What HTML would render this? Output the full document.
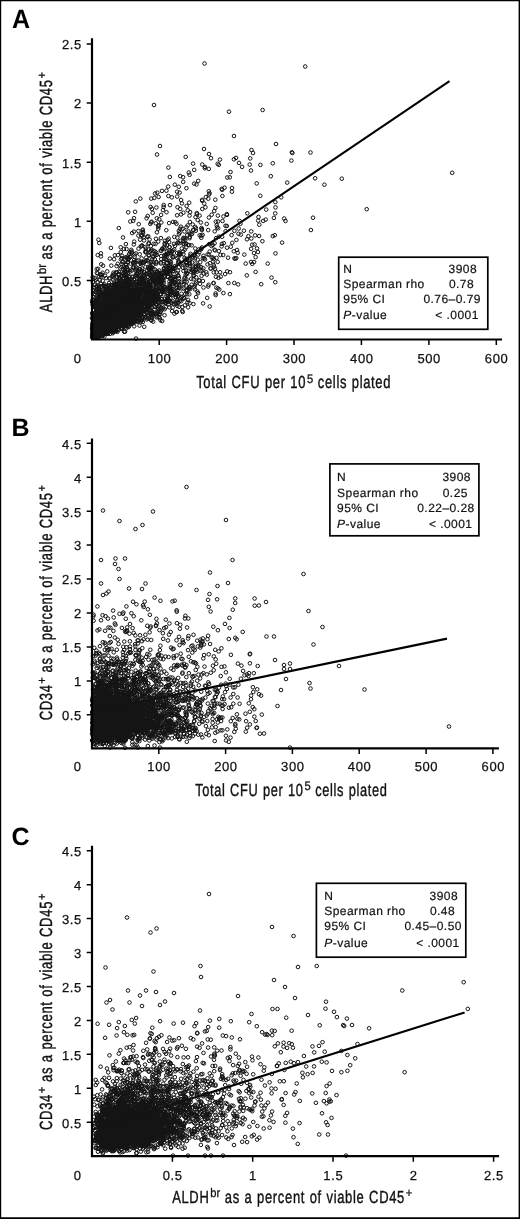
<!DOCTYPE html>
<html><head><meta charset="utf-8"><title>Figure</title>
<style>
html,body{margin:0;padding:0;background:#fff}
svg{display:block;text-rendering:geometricPrecision;will-change:transform;filter:grayscale(1) blur(.3px)}
text{font-family:"Liberation Sans", sans-serif;fill:#111}
.tk{font-size:13px;letter-spacing:.6px;stroke:#111;stroke-width:.25px}
.lg{font-size:12px;letter-spacing:.45px;stroke:#111;stroke-width:.2px}
.ax{font-size:17.6px;word-spacing:.5px;letter-spacing:.9px;stroke:#111;stroke-width:.4px}
.sp{font-size:12.4px;stroke:#111;stroke-width:.3px}
.lt{font-size:25px;font-weight:bold;fill:#000}
.pt{fill:none;stroke:none;marker-start:url(#m);marker-mid:url(#m);marker-end:url(#m)}
</style></head><body>
<svg width="520" height="1219" viewBox="0 0 520 1219">
<defs><marker id="m" markerWidth="8" markerHeight="8" refX="4" refY="4" markerUnits="userSpaceOnUse"><circle cx="4" cy="4" r="1.8" fill="none" stroke="#141414" stroke-width="1"/></marker></defs>
<rect x="0" y="0" width="520" height="1219" fill="#fff"/>
<line x1="92.0" y1="322.8" x2="449.5" y2="81.2" stroke="#000" stroke-width="2.1"/>
<polyline class="pt" points="96.5,326.7 166.6,300.6 124.6,316.5 109.6,323.2 121.9,328.9 105.1,328.6 121.1,276.1 144.3,272.4 113.3,304.1 109.4,320.9 100.7,325.1 98.7,320.4 98.4,317.9 95.7,337 217.7,261.9 104.1,324.1 121.8,258.2 100.7,306.9 126.1,291 109.9,327.6 152.3,307.5 146.9,307.7 107,318.4 197.4,291.5 162.2,321 98.9,335.9 170.4,294.1 145.5,303.1 104.3,330.8 109.7,322.8 144.5,274.8 97.2,330.2 98.5,322.8 132.5,277.4 164,276.9 119.9,279.7 209.6,193.3 186.4,188.2 104.5,325.1 237,250 124.9,309.2 161,294.3 98.8,312 120.9,294.6 105,313.9 197.8,267.4 101.9,319.6 149,281.6 108.5,317.8 116.3,314.5 95.3,319 96,330.7 113.4,319.6 124.3,280.9 188.9,288.6 112.6,303.3 100.4,332.7 120.1,324.6 118.8,322.2 154,296.7 108,300 129,311.6 98,336.4 97.4,334.9 176.2,302.5 116.7,277.9 160.9,238.1 121.5,297 119.9,295.4 105.2,328 204.8,168.3 163.3,291.4 134.2,279.6 118.3,300.1 123.2,301.5 100.1,323.3 96.8,304 139.8,314.9 110.4,314.6 124.2,322.8 151.8,313.4 139.1,315.1 115.6,326.1 115.7,330.3 139.9,279.6 149.9,252.2 98.3,313.4 95.2,327.2 118.2,296.7 170.3,294.2 112.3,328.6 113.1,320.1 104.9,318.8 116.1,326.6 157.8,278.9 122.6,305.1 134.2,326.3 123.2,269.5 238.5,233.8 104.6,326.2 116.7,314.8 171.6,282.7 116.5,324.3 118.7,316.7 147.5,318.4 141,292.7 105.3,330.2 144.3,314.4 117.7,324.3 143.2,301.8 124.4,271.9 125.6,259.5 136.3,260.6 148.4,309.4 134.6,285 127.9,272.7 149.4,301.2 131.3,287.3 98.7,329 103.8,331.1 150.4,281.1 118.3,294.2 95.5,305.1 167,251.5 94.9,325.8 179.2,243.2 124.4,311.7 120.4,291.9 227,247.7 121.4,312.9 95.9,326.4 136.7,299.7 175.8,304 166,272.8 130.6,305.6 158,274.8 98,328.4 185.3,240.1 158.7,290.9 100.3,331.9 100.2,311.8 198.6,249.6 120.5,293 149.7,269.1 215.8,221.7 111,319.4 127.8,319.9 137.9,260.5 95.1,330 108,307.8 112.4,329.7 162.4,291 113.1,328.7 184.3,244.3 167,256.5 127.7,294.9 105.6,317 95.4,315.4 133.1,262.8 141.6,246 196.2,277.3 110.8,314.4 129.2,315.7 96.4,322.1 184,284.2 109.1,298.7 122.8,317.1 174.2,249.5 155.9,287 141.1,311.2 113.8,320.4 222.1,236.7 190.2,287.2 199.7,235.3 123.3,296.9 113.2,307.2 156.4,262.2 103.7,331.1 122.9,308.5 121.3,315.7 106.2,327.5 109.1,325.8 124,315.4 94.7,307.3 115.7,302.8 185.3,267.5 92.6,336.7 139,276.7 130.3,269.8 148.9,302.7 150.3,307.1 109.7,323.4 104.4,284.3 107.6,313.3 93,299.6 196.8,213.1 160.2,313.9 106.2,329 129.5,293.4 96.9,336.7 97.6,313.2 96,307.5 99,329.6 199.6,215.6 101.5,312.6 116.3,315.8 135.8,201.4 169.3,300.4 151.1,311.4 219.3,289.5 97.6,332.5 123.3,321.2 112.8,307.3 132.9,292.9 111.7,323.9 193.1,163.6 102,329.1 226.8,226 236.3,258.1 98.5,334 129.5,321.3 196,265.7 127,288.7 104,313.8 124.4,272.2 108.4,313.3 115.2,303 129.2,299.9 138.2,301.9 104.7,331.7 139.7,306.3 105.2,329.2 110.4,319.6 139.6,294.7 107.8,316.1 103.9,304.4 115.6,316.2 100.8,332.1 98.4,329.2 112.5,323.1 103.3,317 108.2,326.8 151,250.9 94,318.1 94.3,325.1 123.5,313.3 121.9,299.7 100.5,294.7 95.2,307.5 150.7,262.4 251,170.5 108.2,294.7 102.1,332.7 126,297.6 135.9,306.4 121.3,312.2 110.2,333.8 97.2,335.2 150.6,207 183.1,177.2 99.3,317.3 94.6,320.3 192.1,233.8 139.2,294 183.5,271 103.9,295.4 187.1,294.3 214.7,231.3 151.6,267.8 109.6,326.3 128.7,300.4 113.5,317.5 114.2,319.9 99.8,318.9 96.4,320.8 123,313.5 154.8,300.7 138.4,235.6 141,305.5 122.4,315.9 252.2,244.7 126.6,319.9 117.7,324.6 156.4,207.5 122.9,303.6 171,267.1 129.7,286.4 109.4,315.4 119.3,313.3 124.5,320.3 142.2,277.1 98.5,333.1 105.5,311.7 117.6,292.4 200,283.8 139.8,291.4 105.2,318.5 99.7,326.7 220.7,276.6 100.1,323.4 159.8,318.2 160.5,311.9 196.2,266.9 128.2,212.3 142.1,302.5 156.8,283.8 111.9,326.5 140.1,316.1 125.3,297.1 100.9,332 136.1,308.9 176.1,284.7 131.4,279.3 118.7,310.7 96.2,313.7 104.9,330.3 124.8,305.9 109.9,327.4 113.1,312 221.6,246.4 134.5,254.5 106.7,306.1 158.2,311.3 109.2,309 103.1,318.9 152.7,256.2 117.9,312.2 93.4,324.1 227.3,177.5 110.7,329.5 134.6,304.4 162.8,290.3 102.1,325 136,306.1 99.8,322.1 92.8,337.5 122.5,311.7 100.2,313.7 117,288.7 128.2,314.1 92.9,318 185.9,290.4 102.4,317.5 130.2,295.3 107.6,312.1 145.2,298.1 126.6,321.7 192.5,256.4 122.3,303 240.4,223.7 251,261.9 100.5,323.1 97.6,317 116,307.6 255.1,235.4 228,257.7 112.8,301.2 101.8,332.6 101.9,322.6 104.1,306.8 93.3,320.6 167,272.8 97.3,325.2 104.7,300.4 92.7,332.1 119.5,318.2 144,262.6 108.4,320.8 123.6,319.8 190.1,212.1 157.7,274.1 161.5,276.2 180.4,254.4 174.3,279.5 245.7,263.6 171.3,254.5 129.4,301.4 95.6,319.9 162.4,304.4 105.4,328.7 174.3,268.5 128.5,293 95.7,331.7 131.5,300.4 134.4,262.2 136.6,284.4 190.3,255.7 106.7,319.9 208.8,191.3 138.9,306.1 183.1,240.8 204.2,203.5 98,321.4 136.7,284.3 118.8,319.7 155.7,283.9 120.6,299.4 167,262.7 120.7,309.1 110.8,308.8 102.8,328.9 94.8,330.8 124.5,313.4 104,313.1 189.2,202.7 94.7,325.5 171.7,251.6 99.6,314.8 106.4,327.4 125.1,310.2 105.8,327.4 199.2,266.3 115.7,310.3 100.5,321.1 95.7,291.8 172.6,301.2 130.1,282.2 97.1,321.3 92.7,337.7 128.2,308.4 135.5,290 96.1,328.2 123.9,317.6 101.1,334.5 123.5,311 121.1,323.5 97.5,330.1 157.2,299.2 154.8,280.4 96.1,331.2 105.8,310 100.3,274.3 105,275.7 146.6,218.3 102.6,326.2 110.3,326.1 98.4,308.3 117.2,284.3 190.5,253.8 143.4,281.6 107.5,324.1 138.4,303 98.8,335.2 101.1,330 275.3,202.1 93.3,320.5 157.7,312 153.3,285.4 112.4,321.8 232,188 105.4,304.5 120.2,324.8 218.8,164.8 112.6,313.8 126.9,266.9 195.1,258.4 197.7,220 96.2,315.6 182.7,312 99.4,332.6 142.8,321.9 119.6,323.5 99.5,326.5 168.4,167.6 169.8,286.7 92.1,328.2 117.3,319.5 113,330.6 189.3,245.1 153.4,313.4 121,311.2 129.3,290.5 140.4,308.2 108,311.3 227,214.9 126.6,318.5 162.6,273 127.6,312 106.1,325.6 99.8,305.8 101.8,320.4 208.2,286.5 111.8,329.9 136,298.1 124,307.5 108,324.8 111.1,314 95.5,332.7 126.5,274.9 141.9,303.2 159.7,300.3 243.9,230.7 98.7,297 179.3,281.8 172.6,281.3 139.9,290.9 145.1,299.3 186.4,279.2 133.7,309 232.3,242.8 103,334.5 129.9,317.2 108.2,314.7 132.5,283.7 107.1,324.3 132.7,281.5 100.8,323.9 162.1,249 126.3,284 112.7,328.3 102.7,323.9 158.5,282.4 105.8,306.6 183.4,237.8 121.6,275.5 118.5,304.8 106.5,301.6 159.5,278.7 96.5,321.6 146,292.4 109.8,315.8 112.7,318.1 142.3,294.2 274.8,235.2 137.4,292.3 102,305.6 98.2,321 92.4,334.3 102.2,328.4 133.7,289.5 160.3,287.6 92.8,335.3 157.4,302.3 102.3,319.2 97.8,332.5 166.4,190.7 108.7,306.4 132.8,308.3 108.1,326 107.7,320.6 112.2,275.8 123.4,310 145.4,308.9 113.5,297 186.2,285.5 134.3,311.8 126.3,296.8 114.2,318.9 100.7,316.2 231.6,235.1 101.5,331.2 128.3,320.9 132.1,233.1 108,292.1 141.5,302.7 101.7,317.6 104.1,297.9 170.6,290.9 121.5,305.8 121.6,304.9 127.3,313.7 100.7,330.3 107.7,320 99.9,334.3 168.3,277 126.8,278.7 208.8,168.9 105.9,322.1 215.9,276.8 239,162.9 133,300.6 124.6,304.7 128.7,312.3 100.1,319.6 121.5,328.8 194.1,271.1 99.1,334.3 122.9,317.8 125.9,322.3 187.1,290 114.5,323.8 127.8,311.7 107.5,315.7 104,329.7 119,274.7 131.4,303 101.1,331.9 181.5,293.7 138.9,286.9 137.4,274.4 102.4,317.3 107.1,316.4 208.9,217.5 107.9,315.8 100.1,330.7 252.3,263.9 182.4,307 104.9,298.4 156,238.8 170,286.6 95.7,337 173.3,256.2 116.9,301.3 140.8,315.4 117,319 123,314.7 127.3,319.5 118,309.8 114.2,323.1 113.9,321.5 99.7,326.9 100.9,336 114.2,317.4 151.1,301.6 100.4,327.6 99.6,295.1 104.8,291.2 124.9,318.3 125.4,321.1 99.1,287.9 131.2,293 97.5,335.2 110.3,318.6 130.1,317 114.5,325 96.2,300.1 140.9,305.7 135.3,262.3 133.2,220.9 151,269 166.6,260 110.3,287.2 211.7,214.7 113.3,299.8 108.3,311 103.7,300.7 193.4,230.3 145.8,248.7 137.9,304 138.4,231 99.5,318.3 103.8,291.3 97.4,321.1 152.2,295 136.9,291.3 105.9,293.3 111,309.7 105.9,320.7 119.5,318.7 115.1,291.4 154.3,309.3 123.1,311 158.2,289.3 108.3,298.8 146.5,282.6 148.2,236.3 151.4,320.6 111.2,318.1 133.9,298.1 179.3,284.7 163.7,205 163.8,301.9 191.2,278.8 110,321.5 107.6,320.5 110.5,303.5 125,274.8 93.6,332.3 99.7,323.6 150.5,267.9 116.1,284.9 93.3,335.9 158.8,297.5 101.4,293.5 105.7,289.5 99.2,329.7 105.8,325.9 153.7,299.7 104.4,307 187.3,290.5 132.9,294.1 106.5,298.3 116.6,304 102.6,314.4 129.3,313.6 116,313.9 187.3,235.2 138.6,314.2 108.8,323.3 165.1,265.5 116.7,327.6 115.2,322.8 115.7,318.9 147.4,311.2 155.7,289.7 105.5,321.7 97.4,327 211.5,246 254,253 156.6,282.4 111.3,320.1 97.9,333.8 107.8,321.2 180.8,226.7 104.7,325.5 145.3,247 104.1,294.6 97,330 154.7,269.3 94.2,290.1 123.7,293.6 99.3,323.9 148.7,249.5 178.2,262.8 97,334.8 104.8,310.9 96.7,333 159.1,270.5 154.6,277.9 107.9,329.8 116.4,303.7 115.3,314.7 203.1,303.4 99.3,290.4 193.6,254.8 135.4,293 133.5,314.4 100.4,323 144.8,285.5 101.5,304.4 112.5,308.2 162.5,302 93.5,337.5 112.5,314 130.1,305.4 106.4,324.6 93.8,332.6 133,305.4 143.7,291.6 156.4,296.7 136.5,309.9 94.8,325.4 117.7,309 142.6,281.5 108.1,320.9 134.5,316.1 145.1,292.2 124.8,316.7 136.2,291 105.7,303.2 166.4,263.2 109.8,315.6 170,205.1 156.3,263.7 96.8,328.2 160,282.8 139.7,282.3 116.7,322.2 142.7,305.2 104.3,320.2 216.7,225.4 124.7,325.3 92.4,324.2 95.9,303.1 126,309.1 118.6,306.4 109.3,318.1 134.1,267.7 104.7,316.1 105.9,314.6 102.4,331.2 128.4,297 239.5,220.9 135.7,320.2 223.4,293.1 129.8,314.2 184.5,278.6 103.7,327.4 131.9,305.4 123,283.5 129.6,319 139.8,286.6 116.3,312.8 110.3,324.5 135.6,270.5 100.3,312.1 98.8,320.9 120,321.5 168.2,302 139.6,306.7 112.3,294.3 168.2,186.6 103.7,326.3 125.2,310.6 134.5,288.2 133.2,303.7 166.3,230.2 124.1,310.6 120.5,300 111,319.3 108.5,301.4 116,306.2 106.9,329.4 130.7,317.8 96.9,328.9 122.6,314.2 142.6,279.4 201.3,235.7 179.6,192.6 111.2,309.8 102,304.7 124.6,302.5 123.6,303 119.1,310.5 94.1,306.1 132.4,311 131.9,306.6 100.7,315.4 167,299.9 153.7,279.5 119.9,293.5 217.9,215.6 123,295.9 97.5,317 95,277.9 99.9,327 149.7,269.8 102.2,329 116.4,313.7 211,158.2 137.7,300.8 112,320.3 119.2,300.6 155.1,193.5 96.7,315.3 96,315.2 106.8,324.6 131.2,320.8 107,297.1 112.9,306.5 128.5,319.8 92.8,327.9 136.1,267.5 119.4,312.5 147.5,305.1 108.3,328.5 95.2,321.5 167.9,276.9 112.7,324.8 108.6,323.3 141.4,270.6 124.3,310.4 123,315.7 126.5,249 94.9,324.8 106.6,320.8 104.8,331.9 133.2,313.1 130.3,302.2 122.1,304.8 133.8,244.4 113.5,322.8 148.1,266.9 108.1,317.5 111.6,311.7 97.4,317.4 193.1,268.8 125.4,283.9 142.8,229.6 120,325 97.1,286.4 113,299.4 113.7,319.1 230.8,246.7 141.6,262.1 104.7,325.2 114.7,329.7 115.5,309.2 99,333.5 100.9,323.2 114.3,281.5 137.3,298.7 171.8,197.3 196.9,214.4 122.4,312.3 113.5,325.4 95,318.7 95.6,336.7 151.2,198.6 114.8,295 124.1,288.6 115.3,317.9 110.2,300.6 186.2,247.4 99.9,331.3 126.2,265.1 144.2,326.8 117.1,292.7 98.3,322.5 204.2,258.3 178.9,278.1 106,333.9 127.3,291.9 171.5,279.5 135.7,269 160.7,287.4 130.8,300.1 133.9,279.2 165.8,303 120.4,311.9 94.2,320.8 99.7,330.9 119.1,308.6 158.4,277.6 133.9,279.5 122.9,313.4 101.4,334.8 105.8,328 165.4,302.8 173.1,221.9 207.2,297.9 149.4,291.6 128.4,303.3 158,293.2 104.1,330 212.9,257.6 111.8,332.3 119.4,315 145.4,283.9 94.4,322 93.1,329.2 93.5,321.2 161.2,278.8 135.9,294.2 126.4,278.2 123.9,266.7 96.2,327.3 194.9,289.4 111.9,314.2 115.1,316.1 105.6,298.9 156.9,232.3 189.6,303.2 139.8,309 123.2,301.5 133.4,318.7 161.9,302.4 139.4,271.6 95.8,334.7 167.6,239.9 178.1,296.6 106.5,323.9 148.6,298.5 114.5,323.5 137.4,294.7 110.6,294.7 135.7,314.6 107.9,323.1 103.4,314.3 93.8,336.5 118.1,323.6 184.8,305.3 139.3,290.6 196.1,297.1 168.3,295.9 136.7,299.6 139,289.2 103.8,331.9 169,300.8 130.4,314.3 169.4,288.2 119.9,318.5 93.6,310.2 107.4,308.4 114,316.8 187,258.8 97,289.9 102.6,272.7 103.2,314.6 112.2,301.8 194,255.5 109,326.8 123.6,323.8 140.7,246.5 113.5,272.7 126.5,328.3 93.8,335.7 140.6,302.4 130.2,271.5 208.6,284.8 139.4,311.4 150.1,305.7 135.2,317.6 111.7,326.3 151.1,222.4 136.1,305.3 116.1,291.1 160.4,294.2 136.6,273.6 95.2,336.7 114.5,316 121,308.5 142.7,304.2 128.6,312.9 112.5,323.2 157.6,307.2 96.6,316.3 113.4,311 109.4,329.6 141.7,298.8 115.6,319.4 139.3,306.9 118,319 106.3,302 111.5,305.3 111.2,320.8 112.5,301.3 121,295.6 108.2,326.5 117.8,307.8 103,324.9 122.6,261.7 92.5,331.3 138.5,248.7 104.2,323.3 109.3,326.2 105.6,308.2 138.1,290.2 109.3,309.4 186.7,281.7 117.7,324.3 174.8,184.7 233.8,251.3 107.3,287.5 124.9,285.3 145.7,292.8 111.2,306.7 148.9,285.1 125.1,331.7 99.7,336.3 222.2,189.8 97.4,317.9 181,214.4 126.3,319.4 142.6,230.5 107.8,308.8 199.5,280.4 161.1,214.9 155,294.5 99.5,313.9 141.8,296.9 114.5,319.3 189.6,262.5 146.8,313 117.3,296.9 123.7,310.9 96.2,323.1 95.1,331.7 108.7,323.6 115.2,315.8 108.6,329.3 103.9,309.7 194.9,255.1 121.8,300 94.4,294.2 135,298.4 133.9,231.6 129,258.5 120.4,299 105.5,324.5 126,323.1 106.1,330.9 180.2,298.2 139.3,269.5 190.7,271.8 116,319.9 161,263.5 115.4,291.9 144.7,310.2 121.4,305.9 106,278.1 107.3,292.7 129.4,290.6 139.9,304.4 193.5,275 98.4,329.1 158.6,317.1 181.4,263.2 120.4,319.1 146.2,286.4 213.1,261.5 139.1,295.4 164.9,277.5 145.6,290.7 119.9,323.8 101.6,310.1 120.9,259.4 129.2,253.9 93.2,319.1 96.4,323.5 133.3,283.9 121.5,292.8 136.5,310.8 97.7,255.1 100.2,332 113.6,317.1 149.6,239.5 120.6,282.2 119.8,310.2 191.3,234.3 94,333.5 119.5,318.2 105.4,327.2 104.2,316.6 108.7,311.1 150.3,223.9 220.4,254.9 108.6,329.2 114.9,315.9 113.2,307.9 147,274.3 160,288.5 138.4,291 117.8,288 169.3,307.3 117.2,314.8 123,294.9 103.9,329.3 102.3,320.2 138.7,224.2 102.7,336 96,324.6 140.2,299.7 99.4,308.6 158.8,273 118.7,323.2 96.9,300.7 123,237.5 118.4,308.5 220.1,272.2 155.9,295.8 179,306.7 117.8,318 152.9,299.5 109.1,318 98,310.2 105.6,328.2 128.3,311.1 121.9,311.6 121.5,317.5 200.8,222.5 141.8,317.4 115.7,302.9 140.1,239.7 113.8,308.5 176.6,292.8 102,335.3 100.4,334.7 94.4,324 106.6,322 100.8,299.8 94.7,302.8 109.4,313.6 101.1,304.3 124.2,313.7 118.8,318.3 146,292.6 132.1,323 178.6,260.8 130.2,256.5 119.4,308.7 179.2,287.9 139.6,295.4 123.3,318.9 162,289.6 101,331.3 121.9,316.6 112.6,327.3 130.5,321.8 163.8,260.8 193.6,273 112.5,309.1 95.9,332.9 97.6,321.4 127.3,312.7 98.7,320.8 99.3,243 154.3,281.8 112.3,316.6 156.4,291.2 192.7,224.5 117.9,255.1 129.2,315.6 206.7,223.9 106.7,322.6 98.5,336.2 129.7,293.6 139.7,282.9 94.4,316 99.9,321.7 128.2,302.6 151,290.8 125,283.6 177.1,215.3 99.3,310.3 105.3,310.9 106.4,320.2 102.2,324.3 144.2,301.2 143.3,302.1 118.9,308.3 129.1,326.2 101.1,274.9 159.3,274.6 93.9,325.8 110.4,311.2 119.7,316.1 95.7,325 99.9,307.6 106.7,325.4 141.8,297.2 186.1,270.6 223.8,243.1 96.2,301 118,320.6 118.1,325.4 209,194.5 132.7,307 114.4,311.3 120.7,247.3 121.5,316.3 118.5,312.1 100.9,334 193.2,257.6 166.7,301.8 101.7,326.3 114.1,305.3 102.7,312.5 139.5,325.5 110.4,314 153,292 105.3,303.8 112.6,322.8 154.9,300.5 163,210.1 129.2,316.3 246.8,275.4 111.2,312.6 98.2,319.4 156.7,284.1 121,301.2 99.8,313 97.2,327 116.7,292.8 198,265.4 136,290.3 152.6,277.5 102.2,295.9 186.1,263 99.9,328.1 215.1,268.7 115.6,307 209.7,251.6 121,322.9 148.3,272.9 206.8,274.6 111,308 131.1,312.5 196.5,184.4 126.7,318 236,157.9 98.2,318.6 116.1,291.9 132.1,288.4 125.9,244.1 166.9,269.1 105.8,302.3 103.8,327.4 95.5,291.8 175.2,280.2 114.9,255.3 120.7,318.4 159.3,281.4 104,329.3 149.4,295.8 97.7,325.5 173,250.6 92.6,333.7 152.6,302.9 100.7,303 132.7,310.9 103.7,299.1 108.5,312.5 101.3,326.6 103.3,316.8 110.5,317.8 93.6,321 181.4,288.4 125.7,292.4 147.9,299.5 105.7,319.2 102.7,293.2 108.3,306.2 109.3,313.8 100,320 104.1,326.2 139.5,306.3 94.7,336.6 133.8,263.5 100.3,291.1 157.3,271.7 95.7,325 100.1,323.4 107.5,292.2 92.7,277.3 150.8,290.8 156.5,288.8 130.9,304.6 135.3,312.3 125.4,280.5 102.9,333.9 165.8,307.2 174.3,236.9 151.7,292.8 111.4,328.7 177.9,242.3 110.7,324.4 134.8,309.6 112,301.6 114.4,309.5 216.2,238.1 125,301 164.8,276 95.5,331.8 111.3,314.8 169,268.1 120,309 156.5,293.7 119.6,311.4 126.4,312.9 122,319.9 117.1,292.4 96,337.7 110.2,315.9 158.2,228.7 131.6,302.1 120.3,321.7 102.5,308.8 157.3,192.7 110.6,297.4 129.5,309.1 138.9,288.8 114.4,319 192.1,262.4 131.2,323.5 103.7,323.8 110.3,310.6 138.5,299.5 99.3,337.3 95.4,332.1 97.1,333.1 98.2,331.7 203.4,255.8 157,293.4 116.6,286.9 186.5,227.2 101.8,313.6 100.7,329.4 225.1,274.1 150.3,286.4 206.3,272.3 190,266 119,294.5 164.6,248.6 109.8,307.8 127.9,291.5 115.3,320.6 98.1,324.2 94.5,322.4 102,328.7 117.5,293.1 150.9,316.5 185.2,294.1 120.8,319.2 106,301.2 97.7,328.3 95.7,326.6 104,311.4 163.6,287.4 122.6,302.2 136.5,303.4 109.4,320.2 173.6,271.3 129.3,302 143.9,298.9 178.8,186.8 96.5,315.3 189.3,294.3 168,253.5 148,276.7 108.5,324.2 142.9,262.6 147.1,307 114.9,312.1 126,313.4 102.4,326 117.1,310.9 102.7,321.3 107.1,328.2 110.9,247.9 113.1,290.4 173,284.1 135.1,311.6 218.8,251.1 102.6,317.6 149.7,284.3 104.9,332.1 104.9,317.9 233.9,159.3 104.3,327.6 111.6,306.6 100.7,292.5 123.6,311 116.6,304.9 98,333.5 103.7,334 97.4,333.6 133.3,316.6 138.1,300 260.4,164.9 120.5,319.5 95.7,332.3 113.8,284.9 118.4,307.5 96.7,327.3 100.1,334.1 147.8,291.7 203.6,273.5 188.7,231.5 133.5,315.2 102.9,325 191.6,245.3 119,308.6 140.3,301.5 116.4,301.7 194.9,285.4 119.7,322.7 99.2,331.2 117.1,307.1 125.1,268.2 116,310.6 123.6,292.9 111.4,328.4 103.1,310.9 105.8,318.8 116.7,309.9 118.6,319.2 122.5,287.2 169.2,242.1 105.7,326.2 97,327.5 265.7,219.6 144.5,275.3 96.8,315.6 101,304 107.3,318.6 150.5,275.1 237.7,252.8 114.4,320.3 96.1,315.3 106.3,315.9 102.8,329 141.9,289.3 109.2,326.9 120.9,311.4 123.6,293.1 101.3,320.7 115.8,314.5 122.6,304.6 92.7,331.6 145,301 136,291.1 131,324 96.5,331.5 158.7,292.1 96.4,321.2 148.5,243.9 96.4,286.4 106.5,321.5 118.9,298.6 95,284.8 109.4,314.7 121.7,324.3 98.3,320.6 134.5,298.2 108.6,290.8 147.1,308.8 101.7,300.5 99.6,324.3 255.6,271.9 126.3,325.9 111.7,304.3 118,317.1 111.3,314.7 124.1,284.8 154.7,254.3 152.7,303.1 114.6,327.5 108.6,314.5 150.6,285.5 138.1,264.7 96,329.5 112.4,318.5 105.5,296 177.3,294.4 117.1,272.3 150,271.4 94.7,335.3 120.8,252.1 99.1,334.6 126.4,306.8 169.4,289.2 98.1,327.5 152.2,277.2 151.5,261.8 93.4,309.7 137.6,270.9 234.4,258.4 138.2,292.3 176.5,223.8 159.1,273.7 189.6,236.9 97.3,335.9 96.1,325.4 142.7,283.4 98.1,268.8 130.2,285.2 105.9,305.2 121.6,298.8 155.1,276.4 115.9,311.6 136.9,275.9 158.8,225.5 270.8,176.2 115.7,327.8 97.5,321.1 111.3,313.7 183.4,254.2 120.6,304.1 117.9,309 92.1,337.1 107.8,323.9 104.1,332 151.3,319.9 147.1,270.7 103.1,321.8 135.2,283.5 107.5,323 126.8,300.5 96.1,331.1 128.1,270.2 129.8,309.5 95,327.7 132.4,305.9 150.3,304.8 110.5,288.6 119.1,314.8 136.6,319.1 102.7,327.3 210.8,268.5 124.8,290.9 170.4,252.6 107.6,320 150.3,300.1 117.1,305.5 111.8,323.5 128.2,286.6 137.3,298.1 142.8,275.3 140.4,295 240.8,234.6 198.2,254.6 108.7,321.3 94.3,333.2 128.3,302.9 108.3,289.3 149.9,290.7 170.1,265.7 97,323.9 94.1,303.9 101.3,323 116.6,266.1 169,250.6 96.1,329.3 156.9,254.8 96.4,324.5 213.7,259 140,310 127.2,309.8 124.2,331.8 130.5,279.2 111.6,314.6 101.2,323.7 102.6,308.6 144,297.2 102.9,326.1 127,309.7 104.5,323.7 97.3,320.1 216.3,287.6 99,312 112.8,315.4 138.3,302 106.9,323.5 101.4,314.8 122.5,313 109.2,307.9 100.9,253.3 111.5,318.7 128.2,313.6 195.8,269.9 168,288.8 123,284.7 110.4,328.4 96.7,298.8 111.7,314.1 134.8,293.1 202.4,270.5 106.9,330.4 168.4,196 115.6,320.9 115,326.3 105.7,320.7 149.9,300.8 101.2,306.1 103.4,324.8 154.6,299.3 111.8,321.3 148.2,307.1 112,317.3 132.7,317.4 143,279.6 118.7,305.9 103.9,331 123.6,322.4 256.7,183.4 97.4,334.9 117.8,326.9 113.6,317.1 201.9,230.1 110,323.6 122.6,286.3 234.3,283 106.3,311.8 122.2,316.7 123.2,320.7 123.2,289.1 98.8,318.2 195.2,226.9 169.5,247.3 114.9,314.1 101.5,325.5 94.9,336.9 145.7,260.9 137.6,303 119.4,314.6 104.5,305.4 125.9,323.7 118.9,317.6 114.2,308.7 111.9,312.9 105,324.3 111.3,327 99.2,308.6 116.9,276.8 99.3,328.8 133.3,267.1 152.7,290.1 112.7,326.6 113.2,331.2 164.7,243.3 92.9,323.7 110.5,285.3 143.6,300.5 109.9,317.9 94.3,318.4 131.5,301.4 104.1,319.7 112.8,301.9 115.6,321.6 108.3,327.8 109.9,258.6 99.6,329.7 170.4,261.4 106.1,306.9 109.4,317.2 132.1,291.1 147.6,304.5 161.3,250.8 145.5,308.7 118.8,329.8 110,318 110.7,313.7 98.4,313.2 138.6,312.9 92.3,336.2 125.8,317.6 101.2,326.4 107.1,323.4 100.1,313 125,321.2 170.7,274.8 156.1,281.3 119.3,288.3 118.8,271.8 185.4,265.2 111.4,324.3 118.7,315.1 110.8,296.1 128,311.5 163.9,270.9 177.3,237.7 104.6,298.5 121,291.9 126.4,319.5 108.4,331 98.3,330.7 96.7,269.1 221.9,243.9 102.8,322.2 107.3,313.8 100.7,324.3 104,318 114.1,296.8 105.4,324.9 106.5,327 248.4,236.2 98.9,323 93.5,297.2 187.5,302.2 115.8,316.3 135.1,211.8 110.5,328.6 99.1,328.4 125.8,304.4 127.5,312.6 106.7,328.2 97.1,328 93,328.1 120.5,302 128.4,297.6 203.4,268.3 104.4,336.5 171.4,303 115.8,327.1 137.7,311.7 108.6,313.5 111.7,305.3 129.5,305.1 99.7,329.4 132.6,299.1 122.9,324.4 116.5,331.1 123.3,307.5 166.5,270.7 254.1,262 217.1,227.4 156,288.5 178.8,262.1 150.6,303 107.6,312.3 99.2,289.2 110.7,306.5 100.6,327.7 131.9,270.5 151.1,295.8 202.6,234.9 140.5,307 185.7,156.9 100.3,331 133.7,293.5 165.8,259.2 97.2,313.2 128,296.1 119.8,313 108.6,305.6 158.2,298.2 112.2,320.8 174.7,283.5 151.9,208.9 100.6,330.7 179.8,300.7 119.8,277.7 184.6,258 108.1,309.3 130.1,252.1 162,190.9 104.9,319.2 126.1,317 118.9,299.4 227.2,271.4 150.7,297.5 92.2,313.2 118.7,274.2 92.8,322.2 115.8,313.7 113.3,327.7 123.9,300.9 165.2,286.8 150.8,313.4 113.3,326.4 94,330 125.2,316.1 160,282.7 138,311.6 107.9,313.4 188.1,299.9 114,321 98.4,335.7 100.1,317.1 120,292.3 103.4,285.3 131.2,308 183.4,212.7 129.6,322.9 153.6,274.8 114.5,303.4 107.1,327.4 97.3,328.5 126.9,310 161.8,310.1 124.8,312 165.4,292.4 99.8,327.4 108.7,295.2 148.6,306.3 113.8,327.1 148.8,304.2 149.8,302.5 105.5,286.2 187.8,210.3 146.2,257.5 116,309.6 145.4,292.4 116.8,318.1 122.7,315.1 159.2,279.8 102.3,327.9 111.7,319 149.6,299.2 117.7,263.8 97.9,329.6 124.2,313.3 133.5,309.5 107.2,271.4 104.9,330.8 139.9,304.8 150.8,276.5 238.1,284.4 172.1,311.1 94.2,305.2 161,288.6 110.1,320.9 189.6,174.8 94.8,313.6 117,325.7 160.8,283.2 167.1,301.4 123.3,318.5 103,312 112.4,307 110.8,314.2 148.8,302.7 96.4,309.4 126.1,319.5 100.4,328.1 124.1,319.2 174.8,279.1 214.6,243.3 116.9,318.9 129.2,304.7 132.6,302.6 98.9,319 147.6,296.6 122.6,326.1 99.7,322.2 156.1,286.9 110.6,316 120.5,306.6 141.9,302.4 98.3,330.5 114.1,295.3 97.6,329.1 108.9,326.6 119.6,296.6 135,298.7 98.7,327.3 137.6,309.8 142.2,308.4 111.7,316.2 281.2,197.3 93.3,303.7 115.9,308.7 107.6,318.8 143.8,301.2 109.9,310.5 94.1,322.5 197.3,271.6 113.1,318.6 116.2,296.2 95.4,320.5 142.3,302.3 159,314.4 149.1,255.7 198,293.2 137.8,314 122.5,311 95.5,328 129.7,317 96.6,307.3 127.8,294.7 144.5,303.7 93.9,335.4 137.7,312.3 164.5,299.1 120.6,312.5 122.2,301.2 117.5,325.4 135.9,304.4 100.5,307.6 97.6,327.3 222.4,196 92.5,329.1 144.9,286.2 92.4,334.8 96.3,332.9 145.3,252.1 104.6,325.1 153.6,243.8 134.7,256.6 122.2,315.5 98.5,239.7 175,294.5 135.8,253.4 126.8,300.2 126.2,283.5 140.2,313.4 106.9,320.7 123,320.7 103.4,323.8 103.8,328.3 102.2,330.5 125.4,318.7 106.1,295.4 175.6,297.1 108.4,330.1 202.1,199.9 108,326.6 117.9,319.4 123.4,315.9 161.9,299.2 189.4,263.4 147.7,216 195.9,228.4 113.8,327 140.4,312 98.3,334.5 117.4,294.4 118.1,315.1 138.7,295.9 95.8,328.4 117.8,311.9 129.1,305.2 134.6,297.4 96.9,272.8 122.4,283.1 96,330.7 115.3,320.2 112.8,328.9 145.8,303.7 151.1,314.5 138,299.1 179.7,254 131.3,307.5 111.3,265.6 122.1,325.2 120.3,314.5 104.9,319.7 109.9,322.1 119.7,308.8 117.9,321.8 100,317.6 100.9,286.8 184.4,231.5 149.7,286.1 154.3,301.1 100,308.4 92.8,335.7 148.9,318.5 104.2,321.9 99.4,328.8 155.8,223.3 115.7,323.6 140.7,303.4 102.9,328.1 150.3,297.7 127,311.7 104.4,318.5 128.1,280.9 105.5,311.9 172,281.4 104.9,313.7 122.2,304.9 173.7,282.5 132.3,315.8 162,278 132.2,276.6 111,308.5 106.3,291.2 92.4,329.2 114.1,301.9 111.7,330.3 169.9,285.8 164.6,255.7 153.2,321.6 169.2,287.6 125.9,309.7 183.8,298.1 128.7,280 102,305.8 113.7,316.3 121.8,325.9 135,300.7 105.1,330 115.1,297.1 100.4,296.5 152.9,273.4 121.9,319.5 108.3,317.7 187.7,225.4 184.4,281.9 126.2,284.9 121.9,311.9 148.8,243 158.3,226.8 123.6,294.3 109.7,328.5 114.9,321.8 104.9,286.3 101.3,331 106.3,312 130.7,323.3 115.5,301.8 171.6,288.8 128,288.5 97.5,333.2 96.8,332.9 183.5,288.4 107.9,315.6 100.8,284 178.9,234.3 121.1,304 121.6,322.8 97.2,319.3 255.6,257.1 107.8,310.9 127.9,297.8 212.8,244.9 138.5,291.2 104.4,318.6 92.3,336.5 161.2,259.1 128.6,310.7 104.7,314.2 108.2,326.9 107.2,328.6 98.2,331.7 130.4,284.5 103,312 94.6,329.7 167.6,296.3 111.7,328.4 103.3,320.7 118.9,320.4 143.3,311.1 104.5,329.3 134.6,296.7 189.5,215.6 145.7,306.5 107,321.6 234.4,230.8 151.4,264.3 118.6,315.4 140.9,319.9 92,318.1 196,252.2 108.9,329.8 146.9,296.1 184.7,249.7 139.5,296.7 114,322.9 94.9,335.8 127.3,306.2 122,323.4 141.2,307 102.1,321.2 140.5,280.2 125.4,327.3 93.9,333.6 122,309.8 133.6,314.1 103,333.3 143.5,291 117.2,287.2 181.2,301.2 101.9,317.5 162.4,282 146,273.9 126.9,300.1 154.1,313.8 187,262.8 125.9,318.5 172.7,257.2 156.3,252.6 109.8,294.3 135.1,293.9 108.7,328.7 196.3,282.5 210,263.2 102.7,323.1 138,281.5 94.9,331.2 128.6,326.9 107,318.7 97.6,324.3 115.3,331.4 102.6,312.6 163.7,247.4 148.8,291.1 120.3,308.8 114.3,306.5 134.2,305.1 102.8,320.8 179,267.1 195.5,217.1 217.9,288.4 103,305.8 118,327.1 250.2,158.4 106.7,329.2 108.2,293.2 120.2,281.3 166.1,289.3 129.9,291.9 110.7,307.3 124.1,302.9 104.9,315.2 191.6,284.7 166.3,254.1 115,308.7 115.5,313.7 137.7,309.8 102.2,326.4 119.5,288.6 108.2,327.1 130.3,221.5 110.1,303.3 116.4,320.4 109,325.5 135.5,314.6 157.4,272.5 216.5,257.9 100.8,312.9 106.8,326.8 146.5,280.2 251.2,231.4 158.7,306.5 155.6,299.7 107.8,300.7 156.2,313.6 135.5,311.2 95.5,322.5 155,306.9 109.5,311.4 275.5,207.4 94.4,318.4 115.3,324.1 147.2,293.4 130.5,300.1 101.7,331.6 141.3,296.9 125,298.9 101,328.6 132,320.1 95.6,313 126.7,305.1 183.1,267.8 158.7,225.6 93.8,332.2 106.9,324.2 177.1,253 180.2,176.1 173.1,289.2 225.6,231.2 107.6,294.5 137.6,308.5 168.6,300.2 185.7,259.3 152.5,312 96.4,310.1 128,318.4 133.3,318.2 115.8,304.6 101.9,304.8 106,310.1 114,310.7 93.3,334.8 272.8,163.3 114.9,311.6 136.1,296.1 115.8,325.9 115.7,293.1 122.8,315 147.7,295.6 100.9,319.8 103.4,319 162.2,291.9 180.2,264.5 155.6,275 106.6,331.4 138.1,312.1 96,279.7 171.6,292.4 99.6,325.4 153.6,289 100.6,329.6 110,330.8 116.1,298 111.3,323.6 119.1,314.1 98,319.5 275.2,213.4 166.9,245.2 105.3,313.7 123.8,294.4 137.5,296.5 136.8,294.6 116,315.3 106.2,324.5 211.7,257.5 148.8,289.7 124,312.7 97.6,313.5 96.3,322.3 121.4,328.5 115.8,321.5 124.5,308.4 158.7,299.2 108.8,318.8 110.5,323.8 208.2,230.1 114.3,284.2 120.4,291.6 198.2,180.9 181.7,281.8 109.6,312.3 115.6,305.8 135.6,298.2 172.8,270.9 110.2,325.2 117.3,316.7 92.8,327.3 93.9,306.6 110.1,278.4 132.3,299.9 109.9,307.8 163.8,282.6 179.5,286.3 112.4,317.5 106.6,320 124,275.9 122.3,320.7 127.3,326 169.1,223.1 106.6,326.5 104.7,315 149.4,287.6 100.1,308.7 109.3,328.3 100.1,332 105.6,294 94.7,331.2 121.9,315.8 110.6,319.1 122.7,292.2 135.3,306.2 160.9,262.4 110.3,324.8 144.4,295.6 95.9,326.2 155,282.2 126.6,286.8 105.9,308 148.5,316.4 124.9,322.5 261.2,284.2 174.4,268.4 125.3,274.1 152.7,212.8 127.1,258 112.1,294.5 114.4,329.3 182.5,228.7 169.5,281.5 124.8,314.5 122.5,318.3 164.8,244.8 147.2,300.2 159.3,219.3 126.6,280.1 229.9,294.1 194.2,183.6 126.8,285.1 136.7,312.8 135.7,274.8 92.6,304.6 140.3,320.7 106.5,329.1 107.2,323.5 111.5,326.1 164.4,259 124.5,310.5 112.6,323.9 106.4,327 140.8,305.9 174.1,281.9 116.4,323.8 105.2,317.9 118.4,284.7 137.1,321 151.1,281 182.2,310.9 108.7,325.9 96.3,304.8 136.3,281.9 205.4,207.3 92.1,301.9 99.1,285.8 116.2,306.2 140,289.4 102.8,333.5 123.9,248.9 110.4,324.1 155.4,280.9 133.3,293.7 205,259.5 124.7,270.9 117.1,306.8 97.1,333.1 113.6,331.9 97.7,327.8 137.6,313.9 156.3,303.9 202.2,200.7 110.4,322.8 191.9,266.5 95.2,333.2 105,319.6 96.5,326.2 97.5,295.3 140.3,263.1 156.8,218.3 126.2,299.3 257,248.4 103.7,312.8 106.5,310.4 104.5,295.9 216.6,272.4 154.8,259.2 164.5,315.2 106.3,313.7 137.3,314.7 120.8,302.6 116,312.9 127.9,316.7 144,309.1 138.9,279.1 173.6,303.9 217.7,163.8 169.7,273.8 118.1,305.5 126,264.2 104.1,307.4 162,280.6 135.7,298.7 152.1,317.5 148.1,304.7 172.9,276.9 143.8,262.3 123.2,324.1 95,317.5 98.6,319.6 201.1,249.3 100.3,324.9 114.5,328.6 99.5,326.4 116.4,289.1 139.4,281.7 127.6,302.8 128.2,262.1 107.2,300.7 103.5,328.1 163.7,294.4 107.3,320.1 230,272.2 135.1,320.2 111.1,311.9 109.2,300.3 105.5,324.4 120.3,287 145.5,292.6 108.1,322.9 102.5,325.8 107.8,328.9 149,300.6 99.9,322.5 98.3,324.3 126.7,281.6 128.3,301.4 131.3,249.9 127.6,256.6 97.6,281.9 108.3,317.1 126.6,298.5 144.7,287.8 119.2,281.2 108.5,315.5 110,319.5 113,315.8 129,285 95.4,333.3 178,282.4 140.4,322.3 103.2,316.8 138.4,305.5 113.8,307.2 107.3,300.9 167,289.3 223.4,216.5 152.5,315.4 150.6,276.4 167.9,294 109.7,320.6 127.2,282.8 135.4,292.4 149.6,288.7 122.7,295.2 166.5,212.2 95.9,318.4 138.8,307.9 108.8,330.8 149,287.9 194.2,287.3 116.6,313.1 117.9,296.8 139.5,302.1 102,328.1 179.4,252.3 135.7,310.4 165,240.8 102.7,304.8 126.9,318.9 109.1,303.7 129.9,312.3 121.3,318.2 97.8,325.3 130.8,303.9 147.2,295.2 141.8,278.4 177.2,258.2 258.2,220.6 271.5,277.6 117.4,314.2 93.8,334.9 109.3,321.4 108.8,285.3 99,312.7 180.2,208.9 119.9,307 94.4,324 101.7,331.9 174,277.5 111.7,299.6 119.6,316.7 115,304.6 115.7,286.4 129.4,318 153.8,300 267.7,263.6 189.2,287.2 114.8,284.4 98.7,307.6 141.1,314.1 116.8,321.5 96.6,334.6 103.5,334.3 117.4,331.8 195.3,248.5 104.4,316 170.6,264.3 230.5,172 214.2,211.1 114.9,303.7 140.5,294.1 101.6,312.5 106,292.2 120.1,298.8 95.8,329.1 108.6,304.4 114.9,319.1 117.2,319.1 95.3,335.7 156.1,313.7 124.8,315 117.9,322 105.2,333.8 130.9,294.5 150.1,266.3 101.5,322.3 174,243.8 141.6,258.4 119.2,323.9 111.2,294.5 104.7,328.8 115.2,283.6 99.3,296.1 202,247.5 116.9,321.3 119.6,289.6 102.5,306.9 120.8,310.2 98.5,319.4 125,316 139.5,293.4 200.3,262.1 117.2,281.5 107.2,297 134.5,309.4 98.6,319.8 99.7,299.7 219.9,159.6 122.4,323.1 116.5,313.2 118.7,309.5 97,305.1 95,330.2 111.3,305.5 106.2,330.1 103.4,317.1 125.1,303.5 107.5,314.9 138.6,283.2 140.2,281.5 194.2,169.9 94.4,299.8 121.9,314.1 176.9,292.7 135.5,299.8 143.6,237.3 149.3,292.2 121.8,310.5 102.3,287.2 139.6,309.7 97.5,317.6 114.7,323 167.7,298.7 119.3,320.9 180.1,228.8 97.8,323.1 160.5,273.2 130.1,282.8 103.7,325.5 98.5,330.5 141,234.9 114.8,310.3 116.6,316.2 153,280.4 218,221.5 122.6,307.1 94.7,330.9 108.4,327.5 244.3,254.6 96.7,324.1 132.8,321.6 106.4,325.3 109.8,328.3 104.2,325.7 120.4,301.3 126.2,323.4 136.9,311.2 181.9,203.4 170.8,271.1 154.4,279.6 103.4,319.5 126,267.2 102.6,299.1 125.2,325.3 180.5,240.9 215.4,207.9 193.2,229.8 114.4,303.4 118.3,324 112,285.3 132.9,314.8 132.8,307.2 118.7,296.8 163.6,207 100.5,323.7 103.5,331.1 170.6,252.7 117.4,319.4 108.1,324.1 122.5,312.8 147.1,236.8 113,313.8 226.8,214.1 153.9,274.1 120.1,323.3 202.9,258.3 111.6,329.9 131.2,296.1 123.1,281.1 106.8,315.4 100.1,310.2 121.8,297.9 101.6,328.4 127.4,316 126.4,276.5 104.9,326.3 98.5,333.6 118.5,283.2 152.5,304.5 146.2,301.4 179.7,232.7 98.7,325.6 96.1,331.7 128.7,276.9 116.4,297.8 123.5,310.4 192.1,269.8 101.9,327.2 99.1,318.5 97.6,331.1 213.6,282.9 119.1,318 154.4,300.3 117,313.4 114.6,289.3 128.9,321.8 115.1,291.2 108.8,327.6 201.4,228 147.6,294.8 100.2,308.4 172.7,307.5 161.3,222.5 139.5,319.1 95.4,321 257.9,252 174.8,276.9 112,312.8 115,307.6 124.3,287.3 144.9,298.8 132.7,289.8 129.5,304.6 119,312.5 107.2,329.1 113.6,322.9 143.4,294.3 116.4,313.7 196.3,270.4 93.2,333.3 93.7,337.4 140.2,275.5 103,332.8 111.6,315.4 124.1,308.6 172.6,268.6 139.3,294.5 151.9,317.5 131,303.7 124,313.8 93.2,326.4 140,269.1 97.5,328.6 157.8,313.2 120.3,319.9 168.7,238.6 197.7,259.6 118.8,228.1 169.5,246.9 139.4,300.7 96,329.3 152.4,300.4 190,289.2 167.5,273.1 132.7,294.7 200.6,271 126.5,295.5 143,232 101.2,330.7 109.3,278.4 103.7,324.9 107.2,313.1 113.7,326.7 97.5,336.7 128,278.7 131.6,304.4 218.5,277.8 235.4,258.7 236.4,239.9 177.1,300.7 147.5,304.3 148.6,300.6 99.7,317.4 207.6,254.4 118.6,300.6 123.7,281.6 116.2,304.9 113.1,320.7 119.3,304.7 95.5,329.1 118.7,315 109.7,308.3 184.6,277.6 168.6,304.6 178.8,230.9 107.2,312.7 154.4,290.8 100.3,318.4 118.6,315.2 108.5,328.5 153,280.9 135.4,276.2 101.7,325 173,257.4 126.6,304.2 108.5,320.7 142,245.4 110.1,320.5 119.1,277.5 121.7,276.9 147.1,307.6 169.9,287.4 136,309.2 124,308.2 96.1,316.8 108.1,306.1 205,166.9 138.8,308.8 136.8,301.9 115.1,318.8 96.8,330.3 93.8,332.9 120.4,299.7 118.6,303.4 259.1,236 97.5,288.7 127.2,318.4 178.4,256.8 98.4,331 111.7,324.6 144.1,281.9 145.2,285.6 122.6,320.8 101,295.3 97,332.4 109.3,309.9 122.5,306.1 97.6,273.5 189.6,259.8 103.4,304.6 107.9,333.8 148.6,286 106.2,326 140.8,303.1 118.5,283.8 101.9,324.4 103.3,313.6 124.8,303.5 132.1,296.4 133.2,315.3 149.7,281.5 131.5,319.4 127.6,295 109.5,313.4 113.1,297 98.9,316.5 172.5,293 113.6,319.5 107.3,290.5 93.6,319.9 113.5,318.2 127.7,309.7 96.9,315.4 154.3,197.9 134.4,311.1 127.8,313.5 148.1,292.3 105.9,330.6 225.5,225.8 105.1,300.9 131.2,297.3 98.5,321.9 163.3,272.2 218.9,236.7 125.6,297.6 122.6,319.6 96.4,305.2 173.1,268.8 107.7,328 152.2,291.3 111.9,291.3 110.4,320.7 108.3,310 158.4,298.8 106.9,317.4 254.6,244.5 96.7,310.4 123.3,308.7 141.6,272.4 107.2,329.1 115.2,326.4 143.4,287.4 134,218.2 136.8,286.4 97.4,329.5 114.8,326.7 118.7,307 114.2,320.5 180.4,254.2 159.4,283.2 238.7,228.5 100.5,329.3 109.5,324.9 101.8,314.6 95.6,320.1 137.9,300.6 99.2,311.3 136.7,282.3 127.8,259.8 142.8,286 162.1,285.9 96.2,336.4 141.1,283.9 153.2,269.4 203.5,287.5 101.9,332.6 96.9,320.9 115.5,323.1 132.7,310.8 133.8,288.1 128.1,293.6 105,318 153.5,250.7 131.4,309.6 98.9,317 97.1,317.2 114.5,317.4 133.7,315.8 124.3,319 110.5,299.7 155.5,255.1 101.9,315.8 147.4,291.4 105.3,322.9 167.3,301.8 97.2,332.1 174.5,288.6 100.2,316.9 142.4,317.1 221.7,188.9 125.5,308.7 127.9,262 126.6,320.8 103.1,329.2 162.4,248.8 106.3,327.1 249.7,164.6 202.2,164.5 100.2,318.1 134.4,308.1 107.3,319.8 94.8,323.3 100,328.3 201.6,275.8 117,295.6 188.1,244.9 107.1,299.5 115,302.8 133.9,312.6 104.4,331 98.3,335.3 140.7,285 108.5,308.6 98.4,329.4 145.8,302.1 121.9,296.3 102.8,326 176.7,294 178.5,276.1 98.7,328.2 100.4,323 155.2,294.3 120.4,308.7 116,310.3 116.1,325.8 101.2,264.3 113.4,325 189.7,233.5 103.8,317 169.9,278.5 179.3,254.6 112,318.6 178,275.3 118.5,303.4 99,304.3 138.4,298.4 158.7,301.7 92.5,328.1 116.6,296.1 115.4,316.9 117.3,309.7 98.5,301 150.3,299.7 209.7,306.5 112.2,322.6 133.4,304.8 133.6,292.3 158.6,197 155.3,299.5 102.3,308.2 140.3,198.6 126.1,297.6 111.6,313.5 112.1,323.4 110.3,313 108.6,303.8 94.8,335.3 160.1,281.3 95.7,321.8 123.2,298.1 103,328.9 146,292.3 101.3,333.3 101.4,330.2 98.8,292.3 128.4,289.9 101.6,332.2 111.3,313.2 123.5,282.9 145.5,266.9 104.7,330.4 123.3,321.5 135.4,321.9 130.5,312 116.1,327.4 99.1,330.5 214.5,249.7 96.5,326.4 117.7,298.1 114.9,307.2 201.1,248.8 100.1,327.5 111,324.5 130.4,295.2 114.1,259.2 108.3,312.3 129.3,318.1 102.7,296.5 123.6,323.3 112.8,333.2 140.1,308.1 103.9,294.6 193.4,304.1 130.9,322.3 133.1,321.7 210.5,268.4 224.5,187.7 98,332.3 103.4,316.7 118.3,287.2 102.6,334.4 98.7,325.4 168.8,270.7 111.3,320.5 96.9,335.4 133.7,297.4 161.2,284 108.1,326.8 115.2,306.1 186.6,206 110.8,320.8 131.7,251.5 103.8,323.3 154.8,284.5 213.5,283.3 183.8,238.5 120.1,309.3 106,331.7 105.3,319.5 201.9,229.1 105.5,317.5 101.7,312.1 130.9,289.9 117.4,321.7 93.1,335.6 148.3,306.7 160.7,250.7 199.2,252.3 96.3,336.1 141,262.7 169.8,177 100.7,322.1 189.9,222 94.3,335.9 121.8,294.6 111.9,324.4 112.1,320.8 107,302.2 142,235.7 106.9,331 112.6,322.8 140.5,275.5 122.7,291.3 96,335.8 158.2,301.6 100.2,316.2 97.2,334.8 121.4,267.2 95.5,327.7 115.8,272.3 121.6,264.1 158.2,296.8 145.6,251.3 104.1,309.9 145.9,298 142,268.5 151.6,249.7 113.7,310.5 272.8,236.1 126,257.3 109.5,309.5 92.8,324.5 125.6,294.6 106.2,329.4 117.6,320.8 110.9,287.9 141.3,307.6 120.6,287.4 144.3,314 156.6,317.4 155,251.5 170.4,289 130.9,309.6 113.3,280 108.4,320.6 93.1,300.1 175.8,297.2 120.9,307.3 105.8,320.2 170.3,291.6 122.1,255.8 152,272.1 97.5,331.8 124.8,301.1 128.5,320.1 128.5,305.3 101.5,332.6 169.6,273.8 123,284.2 156.9,299.7 130.5,305.8 115,322.7 164.6,287.5 94.3,327.5 218.2,228.3 109.6,326.9 169.5,284.4 102,330.6 96.4,302.9 109.7,319.2 107.7,333.6 121.9,298.9 105,329.4 102,330.6 111.7,325.1 109,315.1 99.7,326.8 123.2,315.4 111.9,314.7 131.7,252.9 176,294.9 116.1,316.8 140.4,294.2 102.3,322.9 104.7,333.4 179.8,253 124.8,302.7 129.7,311.6 142.9,316.5 144.4,278.3 115.7,295.8 161.3,274.6 208.3,198.7 107.4,316.1 126.9,315.7 93.1,337.2 123.3,297.2 100.2,327.7 106.8,325.9 114.9,309.1 136.7,321 94.7,287.8 108.1,328.3 96,330 99.7,279.9 106.6,325.8 127.7,281.1 146,298.8 98.9,320.3 242.1,166.9 95.6,315.6 124.8,309.7 171.7,295.1 130,319.5 133.3,317.1 228.4,283.1 109.9,323.8 140.3,290.9 114.4,296.5 111.5,289.9 149.5,310.5 171.6,281.6 124.4,305.8 148.7,268.7 171.6,278.4 107.8,305 101,324.4 108.6,328.8 103.2,306 113.5,315 213.7,265.1 93.2,335.2 107.4,313.9 94.1,319.5 150.8,246.1 137.5,300.3 124.1,319.7 116.4,320.2 101.5,318.1 181.1,200 109.7,321.6 132.7,313.4 113.4,319 123.5,313.2 118.9,318.4 98.4,313.2 98.5,333.5 114.2,315.1 96.6,328.3 104.9,318.8 124.2,289.5 117.1,313.7 205.8,197.1 127.3,312.4 111.8,310.5 103.9,322.5 103.3,330.2 94.7,337 153,264.9 109.7,318.8 106,323.5 106.7,317.3 150.3,286.7 108.2,329.6 136.5,317.7 137.9,302.6 129.2,276.3 129.6,314 121.7,315 251.3,238.5 103.7,326.8 102.1,274.7 131.8,297.8 115.6,288.8 251.1,248.8 109.7,325.4 169.4,260.8 177.3,305.8 110,316.7 99.5,328.4 107.5,315.7 143.3,290.7 231.9,191.7 104.9,332.1 213.8,272.4 146.4,282.7 115.2,309.3 102.9,326.7 104.8,330.7 161,308 100.8,331.6 142,283.7 138,292.9 185.1,238.4 116.2,309.4 92.3,326.4 102.9,324.9 94.3,330.8 175.3,222.2 152.8,294.1 140.8,290.4 93.7,332.9 109.4,325.7 117.2,313.5 103.6,313.1 126.2,298.2 101.4,309.4 117.9,314 144.3,292.1 116.5,312.3 125.1,306.4 108.4,318.2 149.9,268.1 101.8,286.5 117.5,329.7 99,291.6 106.9,330.4 144.3,299.7 160.4,320.3 127,312.8 154,294 158.2,301.7 166.5,255.2 145.5,316.8 109,283 127,315.8 108.1,306.7 113.8,326.9 99.2,332.7 117.4,308 188.8,172.5 202.9,281 188.1,307.3 111.2,322.4 136.3,289.7 144.5,302.6 134.5,318.2 110.7,324.9 120.7,323.7 122.8,301.4 137.2,285.1 106,329 125.7,292.5 209,254.6 188.9,270.8 156.4,262.2 99.2,318.2 123.5,302.8 138.3,289.9 99.4,276.8 195.8,230.8 201.3,237.8 133.6,323.2 112.6,317.5 125.7,286 166.4,267.2 105.4,322.1 119.7,311.6 185.7,275 118.7,287.9 126.8,305.8 185.9,243.6 207.5,264.4 215.6,293.5 111.5,306.9 114.5,315.6 106.7,314.4 195.5,283.7 100.8,324.7 117.8,305.1 124.2,321.6 110.7,299.1 159.7,284.3 177.8,302.4 105.8,319.4 105,331.8 107.3,314 94.9,328 100.5,326.2 97.4,300.1 128.9,283 214.1,266.7 94.2,330.6 110.8,306.3 167.8,298.2 157.2,316.4 108.2,319.8 181.5,297 193.8,275.9 94.3,315.3 133.5,318.7 177.3,273.3 133,305.9 120.2,287.7 100.2,312.3 108.7,321.5 103.3,324.2 156.5,304.6 123.7,302.4 139.7,317.8 176.2,312.1 193.8,271.2 93.8,335 103.1,328.3 108.7,326.8 145.5,317.7 124.4,319.4 115.7,315.5 105.1,299.9 105.7,315.4 108.6,328.4 174.4,313.6 229.8,177.3 138.9,307.3 114.4,314.2 103.6,311.6 113.7,309.4 94.4,332.3 105.1,321.9 162,299.1 275.3,282.2 98.3,298.6 96.6,331.7 140.5,308.7 111.7,291.7 146.1,252.3 95.3,294.7 117.1,320.8 100.2,321.3 260.3,195.8 117.2,303.5 176.7,288.1 262.4,241.2 111.3,313.4 107.1,318.4 147.9,276.7 111.5,289.8 104.6,316.6 148.7,308.7 215.2,250.4 195.6,263.6 109,303.6 115.5,290.5 109,317.9 163.2,288.7 128.3,325 107.5,305.7 183.3,243.8 100.9,327.5 114.2,274.4 164.4,287.1 164,268.1 96.3,322.3 115.6,294.6 117.9,307.3 122.9,307.5 96.4,333.8 158.4,308.7 98.5,325.5 133.6,313.9 143.3,281.3 101.1,277.2 119.1,292 102.1,332 109.8,327.8 141.7,310.8 109,325.6 98.5,329.6 166.1,300.7 109.4,318 94.1,328.1 118.6,282.9 115.4,320.7 100.4,322.8 175,245.8 112.8,322.4 110.6,287.8 135.4,308.8 119.7,302.1 144.7,310.5 115.5,296.7 171.6,302.6 166.3,272.5 155.5,243.9 151.5,303 121.2,280.7 92.7,300.3 111,316.6 150.9,296 98,332.5 134.1,297.8 120.3,268.5 177.3,284.5 103.5,318.6 125.6,308.1 101.2,330.1 187,274 154.7,276.4 94.6,334.6 143.1,278.3 141.5,317.1 177.9,270.7 144,240.4 107,324.3 127.3,298.7 172,251.5 122.3,313.9 215.3,199.7 100.4,331.6 96.3,333.8 107.1,291.8 186.8,273 120.9,319.4 92.9,282.1 126.6,319.1 99.9,305.2 100.5,317.2 164.5,255.1 100.1,320.1 98,328.3 162.7,308.7 96.6,327.2 130.6,263.6 131.6,295 101.1,332.9 158.4,281.1 99.6,323.5 106.4,333 136.7,307.1 134.1,260.1 247,239.3 112.3,307.2 93.9,322.2 111.5,292.2 163.8,269.2 102.9,308.8 175.1,266 123.8,310.8 118.6,318.2 117.6,315.8 184.4,298.2 143.5,290 117.2,290.6 106,286.8 99.4,295.1 118.8,290.2 177.1,191.7 125.6,287.4 125.3,312.7 125.1,293.9 157.5,294.5 147.4,260.1 121.7,312.7 113.1,319 126.1,311 102.5,325.1 107.6,322.4 157.4,271.7 141.2,264 159,306.2 103.2,321.8 113,276.2 133.7,313.4 126.3,271.5 105,332.1 101.2,310.7 98.5,329.8 150.4,291.2 123.1,316.9 99.7,333.4 164.7,309.2 130.7,284 114.5,300.7 111.6,325.7 115.8,287.1 121.9,306.3 94.1,331.2 134.5,318.7 122,313.8 110.9,329.2 223.2,255 115.3,313.7 101.2,303.6 107.6,300 146.1,300.3 110.6,319 92.6,314.9 111,320.2 177.4,290.3 107,324.3 109.7,323.4 137,306.1 147.3,315.9 152.3,274.7 105.6,327.6 128.9,314.5 183.1,251.4 140,291.4 136.5,302.6 129.6,303.2 122.4,262.3 132.6,307.9 121.8,297.5 104.7,328 97.5,309.3 147.7,289.7 96.4,322.8 123.5,304.1 149.4,294.9 186,243.8 134.2,241.6 123.2,293.5 263.2,220.9 97.8,331.8 177.5,243.2 104.1,321.2 116.6,315.4 128.3,300.8 215.7,295.1 113.3,274.7 114.7,330.7 104.3,323 153.3,279.8 176.8,312 113,311.1 183.2,181.9 115.7,316.7 120.9,316.6 128.2,279.2 143,233.3 111.6,308.8 145,299.9 139.4,293.2 130.5,257.1 161.2,256 110.1,317.8 105,324.6 107.9,302.1 112.9,325.2 116.3,321.9 142.1,319.9 120.2,288.3 105.9,325.3 137.3,295.8 103.1,265.7 105.4,292.6 117.3,303.4 123.2,323.3 107.6,293.6 102.7,280.7 100.4,321.9 108,328.8 110.3,316.9 105.4,329 258.5,217 182.5,298.8 119,291.5 189.6,238.2 143.8,272 96.1,327.3 100.8,318.3 152.1,259.5 107.2,324.1 137.8,289.2 141.9,320.2 170.4,298.2 168.1,273 93.9,315.3 102,332.2 199.1,280.5 165,270.6 172.6,291.4 98,312.9 107.7,315 103,331.9 105.5,331.4 117.1,301.5 97.3,331.8 275.5,253.4 122.4,298.9 123.1,314.5 122.8,297.2 96,301.4 154.2,295.1 139.7,254.3 121,328.1 99,331.5 105.5,296.1 164,291.5 137.8,309.1 99.2,332.3 101.3,327.9 117.9,320.3 146.1,312.4 151.6,221.7 109.4,312.6 104,330.6 115.4,295.4 169.4,266.2 117.8,316.8 153.4,257.2 161.7,279.7 102.7,314 119.7,319.8 108.7,313.5 117.9,326.3 97,328.3 171.1,291.8 119.8,327 106.3,332.2 148.7,254.9 145,310.1 116.3,312.9 127.9,270.4 105.2,327.3 131.3,296.5 105.2,321.9 120.3,295.2 107.7,305.2 201,267 103.4,329 102.9,327.4 98.4,323.5 114.4,311.1 151,312.7 95.8,333.7 137.9,300.8 139,291.4 111.7,321.2 107.8,322.6 165.6,266.1 141.2,298.2 168.6,271.7 117.6,300.7 93.2,337.4 153.3,296.6 94.1,334.4 121.6,311.8 160.9,294 128.3,306.5 106.5,325.2 100.9,256.4 105.3,320.9 135.4,288.1 120.9,312.8 106.3,324.9 109.6,309.4 187.3,265 123.3,290.2 123,308 114.7,288.2 103,315.2 111.8,293.5 126.2,294.5 273.9,217.9 178.4,302.5 202.3,209 117.7,307.2 171,262.3 137.8,296.9 105.2,311.8 125.9,310 98.3,304.6 97.1,312.8 114.2,301.6 152.5,278.6 136.3,309.6 222.5,221 193.5,279.3 116.1,308.7 130.3,316.1 146.8,319.4 108.4,329.8 123.3,272.9 96.3,301.9 107.1,321.2 138,301.5 93.6,324.1 177.5,207.2 142.8,317 130.1,313.5 117,298 177.2,196.6 122.7,325 158.2,241.5 126.3,301.4 120,302.3 109.4,322.5 100.5,305.4 104.4,296.2 111.7,296.7 123.8,290.4 120.4,311.3 129.7,291.3 111.9,326.1 114.9,289.6 114,297.7 104.2,305.1 95.6,324.4 95.9,335.1 115.8,315.1 189.4,261 107.5,322.7 95.4,328.2 98.8,323.9 111.2,309.2 162.3,278.1 125.8,294.6 209.2,244.1 247.3,213.3 107.7,314.5 126.9,309 111.7,289.5 133.7,302.7 100.1,330.3 100.5,329.1 148.1,261.3 132.2,316.4 154.1,300.7 104.2,286.1 123.4,310.8 96.9,334.7 137.2,273.3 106.5,297.3 115.8,303.2 113,297.3 94.8,321.3 93.5,320 150.6,292.5 140.4,313.5 134.8,298.3 108.1,322.9 100.1,328.8 111.5,302.8 98.9,322.5 117.3,311.2 108.5,324.1 259.3,224.7 116.8,319.9 107,307.3 181.8,248.5 143.6,306.5 109.6,323 106.2,310.3 128,290.1 115.4,313.5 117.6,316.9 96,333.3 107.5,328.2 95.9,331.1 107.1,332.3 122.1,313.8 102,329.9 111.7,320.3 114.8,325 104.7,306.9 137.7,321.6 103.4,319.6 107.4,312.3 145.9,281 163.4,280.6 108.6,323.5 165.8,254.8 116.8,314.2 154.9,302.6 124.4,293.1 125.9,314.4 148.3,283.8 161.2,307.9 105.9,306.4 110,318.3 111.5,309.6 142.8,300.8 266.2,209.6 116.9,313.4 204.5,63.5 305.2,66.5 154,105 229,111.7 262.6,110 234,136 160,146 204,149 276,144 251.5,150 253,153 157,154.5 209,154 291.8,152.3 292.4,153 310.5,152.5 291.4,160.6 287.2,182.6 315.1,178.3 324.4,184.7 341.8,178.7 452.2,172.8 366.7,209.2 313,217.7 310.9,230 284.2,218.5 285.5,221 282.1,242.6 136,338.6"/>
<path d="M92.0 38.2V339.5H502.0" fill="none" stroke="#000" stroke-width="2.2"/>
<text class="tk" x="159.6" y="362.6" text-anchor="middle">100</text>
<text class="tk" x="227.0" y="362.6" text-anchor="middle">200</text>
<text class="tk" x="294.4" y="362.6" text-anchor="middle">300</text>
<text class="tk" x="361.8" y="362.6" text-anchor="middle">400</text>
<text class="tk" x="429.2" y="362.6" text-anchor="middle">500</text>
<text class="tk" x="496.6" y="362.6" text-anchor="middle">600</text>
<text class="tk" x="77.7" y="362.6" text-anchor="middle">0</text>
<text class="tk" x="81.9" y="285.8" text-anchor="end">0.5</text>
<text class="tk" x="81.9" y="226.6" text-anchor="end">1</text>
<text class="tk" x="81.9" y="167.5" text-anchor="end">1.5</text>
<text class="tk" x="81.9" y="108.3" text-anchor="end">2</text>
<text class="tk" x="81.9" y="49.2" text-anchor="end">2.5</text>
<path d="M159.2 339.5v5.6M226.6 339.5v5.6M294.0 339.5v5.6M361.4 339.5v5.6M428.9 339.5v5.6M496.3 339.5v5.6M92.0 280.5h-5.3M92.0 221.3h-5.3M92.0 162.2h-5.3M92.0 103.0h-5.3M92.0 43.9h-5.3" fill="none" stroke="#000" stroke-width="1.5"/>
<rect x="338.7" y="257.2" width="149.1" height="72.1" fill="#fff" stroke="#000" stroke-width="1.7"/>
<text class="lg" x="343.3" y="272.6">N</text>
<text class="lg" x="477.1" y="272.6" text-anchor="end">3908</text>
<text class="lg" x="343.3" y="287.8">Spearman rho</text>
<text class="lg" x="474.1" y="287.8" text-anchor="end">0.78</text>
<text class="lg" x="343.3" y="303.0">95% CI</text>
<text class="lg" x="480.9" y="303.0" text-anchor="end">0.76–0.79</text>
<text class="lg" x="343.3" y="319.2"><tspan font-style="italic">P</tspan>-value</text>
<text class="lg" x="478.8" y="319.2" text-anchor="end">&lt; .0001</text>
<g transform="translate(293.65 388.20)"><text class="ax" transform="translate(-97.50 0) scale(0.7385 1)" xml:space="preserve">Total CFU per 10</text><text class="sp" transform="translate(13.28 -5.6) scale(0.9000 1)">5</text><text class="ax" transform="translate(19.49 0) scale(0.7385 1)" xml:space="preserve"> cells plated</text></g>
<g transform="translate(51.70 192.10) rotate(-90)"><text class="ax" transform="translate(-120.10 0) scale(0.7385 1)" xml:space="preserve">ALDH</text><text class="sp" transform="translate(-81.97 -5.6) scale(0.9000 1)">br</text><text class="ax" transform="translate(-72.05 0) scale(0.7385 1)" xml:space="preserve"> as a percent of viable CD45</text><text class="sp" transform="translate(113.58 -5.6) scale(0.9000 1)">+</text></g>
<text class="lt" transform="translate(11.9 27.7) scale(.94 1)" style="font-size:26.6px">A</text>
<line x1="92.0" y1="712.1" x2="447.0" y2="638.6" stroke="#000" stroke-width="2.1"/>
<polyline class="pt" points="96.6,691.8 166.1,705.3 124.5,733.5 109.5,717 121.7,714 105.1,707 120.9,692.3 144,724 113.2,717.3 109.3,725.9 100.7,700.7 98.8,694.2 98.5,724 95.8,731.3 216.7,691.4 104.1,708.9 121.7,721.3 100.7,667.5 125.9,676.9 109.9,728.3 151.9,721.1 146.5,721 107,717.2 196.6,730.9 161.7,715.6 98.9,731.9 169.9,730.1 145.2,683.1 104.3,722.9 109.6,699.2 144.1,694.9 97.3,707.3 98.5,682.5 132.3,697.4 163.5,679 119.8,711.7 208.7,654.3 185.7,736.5 104.5,722.5 235.8,728.7 124.7,740.8 160.5,701.2 98.9,712.8 120.8,698.4 105,731.7 197,702.4 101.9,662.3 148.6,691.3 108.4,738.2 116.2,705.3 95.4,716.2 96.1,729.4 113.3,719.5 124.1,731.6 188.2,688.8 112.5,695.5 100.5,717 120,702.8 118.7,735.1 153.6,712 108,694.4 128.8,705.9 98.1,729.6 97.4,725.4 175.6,709.1 116.6,679 160.4,600.8 121.4,731.6 119.8,707.1 105.2,725.4 203.9,644.4 162.8,716.5 134,714.7 118.2,705.2 123.1,728.8 100.2,730.8 96.9,732.4 139.5,719.2 110.4,698.3 124,703.3 151.4,735.3 138.8,725.1 115.5,705.3 115.6,725.3 139.6,661.9 149.6,632.3 98.4,721 95.3,725.7 118.1,710.8 169.7,726 112.3,724.3 113,723.3 104.9,642.8 116,723.5 157.3,724.9 122.5,713.5 134,724.2 123,729.3 237.4,718.8 104.6,734.8 116.6,720.5 171,701.4 116.4,736.9 118.5,735 147.2,716.3 140.7,718.3 105.3,724.6 143.9,715.3 117.6,703.1 142.9,723 124.3,716.6 125.5,716 136,713.4 148,719 127.7,685.6 149,719.2 131.1,713.1 98.7,735.2 103.8,727.3 150,700.4 118.2,708 95.6,729.2 166.5,701.7 94.9,727.7 178.6,710.1 124.3,735.6 120.3,712.3 225.9,735.7 121.3,725.9 96,709.5 136.4,604.3 175.2,737 165.5,656.6 130.4,734.5 157.6,677.5 98,710 184.6,696.6 158.3,727.7 100.3,738.4 100.2,678.7 197.8,646.4 120.4,711.6 149.3,704.5 214.8,703.8 110.9,717.6 127.7,732.6 137.6,640.4 95.1,702.6 108,703.2 112.4,733.5 161.9,731 113,729.7 183.6,643.1 166.5,673.7 127.5,711.7 105.6,699.1 95.5,702.8 132.9,712.5 141.3,620.3 93.5,709.3 195.5,728 110.7,720.7 129,706.2 96.5,654.1 183.3,683.2 109.1,722.7 122.7,726 173.6,648.8 155.5,704.4 140.8,724.1 113.8,710.4 221.1,721 189.5,737.9 198.9,712.5 123.2,646.8 113.1,610.6 156,626 103.7,729.7 122.8,727.3 121.2,712.4 106.2,725.8 109.1,733.1 123.8,710.5 94.7,724.9 115.6,683.5 184.6,699.6 92.7,728.2 138.7,723.8 201,645.6 130.1,702.9 148.5,705.9 149.9,718.3 109.6,721.1 104.4,722.5 107.6,723.6 93.2,709.5 196,663.4 159.8,728 106.2,736 129.3,725.3 96.9,730.2 97.7,702.1 96.1,715.6 99.1,738.5 198.8,685.3 101.6,716.6 116.2,673.6 135.6,673.9 168.7,726.7 150.7,726.1 218.4,716.8 97.7,738.5 123.1,727 112.7,734.6 132.7,727.2 111.6,726.3 102,709.2 225.7,683.6 235.2,725.5 98.5,720.8 129.3,715.9 195.3,729 126.8,729.9 104,686.4 124.2,650 108.4,714.5 115.1,678.7 129,692 137.9,643.4 104.7,746 139.4,711.9 105.2,694.6 110.4,714 139.3,729 107.8,731.8 103.9,675.4 115.5,624.8 100.8,739 98.5,732.9 112.4,711.5 103.3,695.6 108.2,728.7 150.6,719.7 94.1,692.3 94.4,692.2 123.4,736.3 121.8,714.6 100.5,692.9 95.3,711.5 150.3,649.8 249.8,654.3 108.2,692.8 102.1,721.1 125.9,729.3 135.6,655.4 121.1,724.7 110.2,726.4 97.3,692.4 150.2,627.8 182.5,665.6 99.4,737.1 94.7,716.1 191.4,646.3 138.9,713.7 182.8,727.9 103.9,669.9 186.4,665.1 213.8,656.4 151.2,727.2 109.5,728.4 128.5,736.9 113.5,691.1 114.1,710.4 99.9,739.2 96.5,705.3 122.9,689.4 154.4,727.6 138.2,698.5 140.7,662 122.3,739.7 251,695.6 126.5,705.1 117.6,719.1 156,681.2 122.7,708.8 170.4,690 129.5,652.2 109.4,739.3 119.2,717.8 124.3,723.2 248.8,703.3 141.9,641.2 98.6,731.9 105.5,724.9 117.5,726.6 199.2,723.8 139.5,717.3 105.2,718.5 99.8,726.8 219.7,703.8 100.1,712 159.4,742.1 160,705.2 195.4,706.7 128,678.2 141.8,728.9 156.4,686.7 111.8,726.8 139.8,695.2 241.4,665.6 125.1,631.4 101,701.8 135.8,731.6 175.5,695.8 131.2,712.3 118.5,730.3 96.3,727.2 104.9,721.8 124.7,723.7 109.8,715.7 113,732 220.6,730.3 134.2,691.5 106.6,707.7 157.8,722.3 109.2,694.2 103.1,707.1 152.3,727.1 117.8,716.8 93.5,728.6 226.2,686.1 246.9,674.5 110.6,717.6 134.4,717.8 162.3,722.7 102.1,734.6 135.8,654.9 99.8,702.1 92.9,716.1 122.4,726.5 100.3,733.6 116.9,657.6 128,725.8 93,698.3 185.2,667.7 102.4,734.3 130,728.4 107.5,707.6 144.9,733 126.5,727 191.7,711.9 122.2,693.3 239.2,719.4 249.8,711.8 100.6,708.5 97.6,729.2 115.9,727.4 253.8,673.2 226.9,689 112.8,738.2 101.8,741.7 101.9,681.3 104.1,708.1 93.4,724.5 166.5,703 97.3,720.8 104.7,697.4 92.8,672.5 119.4,691.4 143.6,710.3 108.4,730.8 123.5,730.2 157.2,671.4 161,739.6 179.8,706.8 173.8,724.7 244.5,675.3 170.7,632 129.2,727 95.7,728.6 161.9,718.2 105.4,715.1 173.7,698 128.3,725.3 95.7,725.5 131.3,705.8 134.1,675 136.3,719.9 189.6,709 106.7,716.6 207.9,729.8 138.6,720.8 182.5,672.6 203.3,658.4 98.1,723.6 136.5,708.5 118.6,705.9 155.3,716.2 120.4,729.9 166.5,687.2 120.6,740.5 110.7,725.1 102.8,675.8 94.9,717.3 124.3,702.7 104,702.9 188.5,636 94.8,717.1 171.1,668.5 99.7,712.3 106.3,731 125,710.2 105.8,720 198.4,674.6 115.6,688.8 100.5,686.6 95.8,717.6 172,715.6 129.9,641.3 97.2,729.7 92.9,735.9 128,722.4 135.2,717.6 96.2,729.4 123.7,686.2 101.1,729.9 123.4,714.5 120.9,732.7 97.5,630.4 156.8,728.9 154.4,734.5 96.2,706.4 105.8,722.2 100.4,689.1 105.1,630.8 222.6,709 102.6,726.7 110.3,741.6 98.4,707.9 117.1,711.5 189.8,732.9 143.1,605.2 107.5,730.9 138.1,735 98.9,725.3 101.1,705.3 93.4,719.6 157.3,728 152.9,713.8 112.4,732.8 230.9,654.8 105.4,702.9 120.1,698.8 217.8,692.1 112.6,674.8 126.7,630.7 194.3,676 196.9,698.3 96.3,699.8 182.1,730.8 99.4,707.3 142.5,728.6 119.5,730.5 99.5,722.8 167.9,685.6 169.2,692.1 92.2,722.8 117.2,735 112.9,670.5 188.6,692.7 153,701.2 120.8,724.2 129.1,695.8 140.1,724.9 107.9,696.3 225.9,672.3 126.4,606.4 162.1,741.3 127.4,716.5 106.1,687.7 99.9,732.5 101.8,700.3 207.3,721 111.7,718.8 135.8,721.3 123.8,727.3 108,737.2 111,722.4 95.6,725.9 126.3,713.8 141.6,678.3 159.3,715.7 242.7,631.9 98.7,695.6 178.7,726.1 172,712.7 139.6,711.9 144.7,720.9 185.7,690.3 133.5,705.3 231.2,707.2 103.1,718.6 129.7,735.7 108.2,722.2 132.3,663.8 107,700.3 132.5,665.8 100.8,684 161.6,694.7 126.1,707.6 112.6,720.4 102.7,691.3 158.1,666.6 105.8,713.6 94.1,725.4 182.7,642 121.5,680.2 118.4,707.6 106.5,719.7 159,708.2 96.6,716.8 145.6,705.7 109.8,715.4 112.6,696.8 142,707.9 137.1,714.3 102,702 98.2,707.1 92.6,714.3 102.3,713.1 133.5,715.5 159.9,679 92.9,733.6 157,737.4 102.3,703.3 97.8,709.5 165.9,687.1 108.7,718.5 132.5,698 108.1,705.1 107.6,725.7 112.1,709.4 123.3,705.5 145.1,677.4 113.4,630.9 185.5,712.5 134.1,711.8 126.1,722.5 114.2,721.5 100.7,744 230.5,737.6 101.5,703 128.1,717.8 131.9,710.5 108,671.8 141.2,717.8 101.7,723 104.1,719.4 170,722 121.4,673.3 121.5,719.9 127.1,627.4 100.7,712.6 107.6,695.2 100,723.9 167.7,725.7 126.6,669.8 207.9,693.8 105.9,697.6 214.9,697 237.9,663.6 132.7,724.4 124.5,730.1 128.5,707 100.1,727.3 121.4,742.9 193.3,728.2 99.2,708.5 122.8,713.2 125.7,731.9 186.4,721.8 114.5,662.8 127.6,731.2 107.5,728 104,722.9 118.9,686 131.2,721 101.1,725.4 180.9,725.9 138.6,725.2 137.1,703.8 102.5,717.3 107.1,709.8 208,599.9 107.9,719.3 100.1,706 251,699.2 181.8,730.5 104.9,741.3 155.6,681.7 169.5,706.9 95.8,704.5 172.7,729.6 116.8,696.4 140.5,728 116.9,713.7 122.9,694.7 127.1,716.4 117.9,702.8 114.1,716.2 113.9,732.2 99.8,716.8 100.9,729.2 114.1,711.9 150.7,734.9 100.4,708.8 99.6,697.4 104.8,705.1 124.7,724.9 125.2,705.5 99.2,690.1 131,690.4 97.6,717.9 110.2,724 129.9,715.8 114.4,703.1 96.3,713.6 140.6,708.1 135.1,688 133,601.7 150.6,698.5 166.1,699.2 110.2,714.5 210.8,709.3 113.3,699 108.3,686.4 103.7,737.8 192.7,699.5 145.4,677.3 137.6,705.4 138.1,712.1 99.5,734 103.8,706.1 97.5,706.9 151.8,703.4 136.6,723.1 105.9,693.8 110.9,718 105.9,726.7 119.4,699.2 115,708.9 153.9,710.1 123,706.5 157.7,723.7 108.3,717 146.2,700.8 147.9,609.3 151,721.7 111.2,717.9 133.7,725.9 178.6,718.1 163.2,638.9 163.3,733.1 190.4,736 110,708.1 107.6,710.4 110.5,718.4 124.8,697.9 93.7,727.3 99.8,719.7 150.1,668.5 116,678.6 93.4,675.2 158.4,681.1 101.4,692.1 105.7,704.7 99.3,703.7 105.8,715.4 153.3,710 104.4,686.1 186.6,715.9 132.7,718 106.5,692.3 116.5,715.8 102.7,722.7 129.1,707.6 116,727.7 186.6,714.9 138.3,640.3 108.8,706.1 164.6,704.6 116.6,720.2 115.1,719.8 115.6,726.6 147,728.1 155.3,726.7 105.5,710.2 97.5,694 210.6,611.5 252.7,707.1 156.2,662.5 111.2,715 98,704.5 107.8,663.8 180.2,691.4 104.7,717.3 144.9,696 104.1,713.7 97.1,719 154.3,659.5 94.3,647.8 123.6,714.2 99.3,716.9 177.6,709.7 97,723.7 104.8,649.8 96.8,726.8 158.6,675.6 154.2,703.3 107.9,740.7 116.3,695.9 115.2,740.1 202.3,737.4 99.4,629.4 192.8,676.7 135.1,713.4 133.3,692.1 100.5,709.8 144.5,724.4 101.5,723.1 112.5,685.5 162,718 93.6,691.8 112.4,726.5 129.9,700.3 106.4,736.1 93.9,706.7 132.8,706.5 143.4,678.8 156,734.5 136.3,731.2 94.9,726.3 117.6,704.1 142.3,648.1 108.1,694 134.2,733.6 144.8,717.2 124.7,689.6 135.9,683.9 105.7,734.6 165.9,679.2 109.8,699.7 169.4,623.5 155.9,697.5 96.9,712.9 159.5,680.2 139.4,693.5 116.6,689.5 142.3,698.3 104.3,720.8 215.7,659.4 124.5,700.5 92.5,723.3 96,719.8 125.8,705.4 118.5,696.9 109.3,731.5 133.9,681 104.7,655.4 105.9,741.2 102.5,715.9 128.2,702.5 238.4,684.7 135.5,722.9 222.4,717.5 129.6,722.6 183.8,722.8 103.7,707.1 131.7,719.3 122.9,661.4 129.4,737 139.5,711.4 116.2,730.8 110.3,726 135.3,659.9 100.3,728.2 98.9,686.7 119.9,670.7 167.6,727.7 139.3,712 112.2,683 167.7,693.5 103.7,742.5 125,714.4 134.3,719.7 133,714.8 165.8,700.3 123.9,722.1 92.1,733.7 120.3,706.4 111,700.2 108.4,704.3 115.9,701.7 106.9,733.4 130.5,663.2 97,688.1 122.5,679.1 142.3,701.9 200.5,706.2 179,636.8 111.2,727 102,708.5 124.5,714.4 123.5,714.3 118.9,738.8 94.2,687.1 132.2,738.4 131.6,713.2 100.7,716.5 166.5,736.3 153.3,687.3 119.8,705.5 122.9,652.1 97.5,725.4 95.1,737.9 100,723.2 149.4,671.7 102.3,727.4 116.3,672.2 210.1,644 137.4,730 111.9,726.2 119.1,708.2 154.6,597.6 96.8,721.3 96.1,712 106.8,708.9 131,726.4 107,706.6 112.9,691.3 128.3,714 92.9,706 135.8,707.3 119.3,732 147.1,728.2 108.3,727.1 95.3,707.6 167.4,720.8 112.6,729.8 108.5,725.3 141.1,689.6 124.1,722 122.8,697.7 126.3,658.5 95,713.2 106.6,731.6 104.9,692.1 133,713 130,691.3 122,699.9 133.5,693.7 113.4,729.6 147.8,704.7 108.1,701 111.6,704.2 97.5,733.1 192.3,692.9 125.2,735.8 142.4,694 119.9,701 97.2,697.4 113,712.8 113.6,745.1 229.7,684.6 141.3,708.8 104.7,721.7 114.6,735.8 115.4,727 99,727.8 100.9,742.6 114.3,679.1 137.1,698.3 171.2,715.3 196.1,704.2 122.3,715.6 113.4,722.4 95.1,733.1 95.7,726.2 150.8,697.5 114.7,729.2 123.9,685.6 115.2,711.9 110.1,727.5 185.5,694.4 99.9,721.1 126,632 143.8,701.8 117,662.4 98.4,722.5 203.4,673.1 178.3,720.7 106,734.3 127.1,630.8 170.9,731.1 135.4,649.9 160.2,725.9 130.6,721.7 133.7,632.9 165.3,737.5 120.3,719.1 94.3,707.5 99.7,730.8 119,728.3 157.9,721.7 133.7,616.2 122.7,736.2 101.4,735.2 105.8,726.8 164.9,734.1 172.5,649.2 206.3,733.9 149,719.3 128.2,715.8 157.6,732.8 104.1,718.8 212,727.4 111.8,731 119.2,704.1 145,681.8 94.5,732.3 93.2,735.7 93.6,620.7 160.7,732.9 135.6,681.2 126.3,693.6 123.7,679.5 96.3,689.5 194.1,720.9 111.8,705.2 115,724.3 105.6,661.9 156.5,658.5 188.9,704.6 139.5,711.3 123.1,729.3 133.2,723.2 161.4,724.4 139.1,691.7 95.9,732.5 167.1,703.3 177.5,732.5 106.5,733.1 148.2,710.9 114.5,729.8 137.1,677 110.6,724.5 135.4,737.4 107.9,719.2 103.4,690 93.9,706.9 118,731 184.1,734 139,715.7 195.3,717.1 167.8,730.4 136.5,744.9 138.7,683.7 103.8,716.9 168.5,732.6 130.2,722.9 168.9,728.1 119.8,731.5 93.7,712 107.3,736.1 113.9,725.9 186.3,685.3 97.1,678.7 102.6,615.3 103.3,713.7 112.2,699.1 193.2,686.8 108.9,729.5 123.4,743.7 140.4,724 113.4,727.1 126.3,726 93.9,698.9 140.3,703 207.8,713.8 139.1,649.9 149.7,675.2 135,711.2 111.6,686 150.7,690.1 135.8,730.3 116,693.2 159.9,650.1 136.3,679.4 95.3,714.2 114.4,719.3 120.9,729.1 142.4,704.2 128.4,704.9 112.5,726.3 157.2,695.7 96.7,668 113.3,735.8 109.3,718.1 141.4,730.3 115.5,724.7 139,718.8 117.9,704.7 106.3,693.9 111.5,707.7 111.1,728.1 112.5,701.5 120.8,714.2 108.2,712.3 117.7,715.2 103.1,718.6 122.5,722.7 92.7,717.5 138.2,700 104.2,717.7 109.3,730.8 105.6,616.2 137.9,672.5 109.2,649.2 186.1,721.3 117.6,715.1 174.2,665.4 232.7,718 107.3,686.3 124.8,716.6 145.4,634.8 111.2,718.9 148.5,690.3 124.9,734.8 99.8,727 221.2,684.7 97.5,663.2 180.3,624.8 126.2,713.9 142.3,693.7 107.8,710.5 198.7,701.9 160.6,698.2 154.6,705.3 99.5,740.4 141.5,721.3 114.5,725.5 188.9,708.7 146.4,685 117.2,728.1 123.6,713.1 96.3,724.3 95.2,732.7 108.6,728.2 115.1,733.1 108.6,719.5 103.9,704.7 194.2,721.6 121.6,708.7 94.5,703.3 134.7,744.6 133.7,683.7 128.8,707.5 120.3,724.8 105.5,733.1 125.8,740.1 106.1,734.4 179.6,739.5 139,681.6 189.9,732.8 115.9,707.5 160.5,716.4 115.3,705.7 144.3,733.6 121.2,721 106,694.8 107.3,712.6 129.2,696.3 139.6,731.2 192.8,730.9 98.5,735.4 158.2,687.6 180.7,653.7 120.3,724 145.9,722.8 212.2,712.4 138.8,652.7 164.4,702.2 145.3,711 119.8,731.9 101.7,704.7 120.7,666.9 129,714 93.3,718.9 96.4,704.2 133,701.8 121.4,715.7 136.2,715.4 97.7,680.6 100.2,725.7 113.5,724.5 149.2,671.5 120.5,711.5 119.7,736.4 190.5,708.6 94.1,724.6 119.4,728.8 105.4,734.1 104.2,697.2 108.7,732.5 149.9,614.8 219.4,717.9 108.6,728.7 114.8,733.9 113.1,714 146.7,729.7 159.5,695.9 138.1,718 117.7,690.7 168.8,729.1 117.1,732.6 122.9,720.8 103.9,687 102.3,714.9 138.4,682.1 102.8,708.7 96.1,735.6 139.9,726 99.5,690.5 158.3,720.1 118.6,717.3 97,714 122.9,613.8 172.5,601.4 118.3,713.5 219.1,718.7 155.5,723.7 178.3,736.4 117.7,730.5 152.5,736.6 109,721.1 98.1,707.4 105.6,678.4 128.1,713.2 121.8,681.9 121.4,731.4 200,702.8 141.4,718.7 115.6,729.6 139.8,650.5 113.7,689.9 176,724 102,730.3 100.5,727.9 94.5,734.5 106.6,685.2 100.9,706.4 94.8,662.5 109.4,727.8 101.1,723.7 124,720 118.7,710 145.6,673.3 131.9,684.2 177.9,702.1 225,692.2 130,624 119.3,721.8 178.6,729.3 139.3,728.6 123.2,725.8 161.5,736.4 101,726.6 121.8,726.1 112.5,697.4 130.3,712.2 163.3,702.4 192.8,736.1 112.5,728.7 96,728.4 97.6,706.7 127.1,735.6 98.8,722.4 99.4,713.7 153.9,668.8 112.3,729.6 156,726.5 192,681.5 117.8,706.2 129,726.7 205.8,685.9 106.7,732.7 98.6,736.1 129.5,633.7 139.4,710.1 94.5,723.5 100,684.8 128,704.1 150.6,677.6 124.9,714.6 176.5,692.3 99.4,702.7 105.3,699.6 106.4,723.7 102.2,674 143.9,729.2 143,719.3 118.8,718.4 128.9,730.3 158.8,716.6 94.1,736.5 110.3,690.4 119.6,715 95.7,703.7 100,654.2 106.7,729.5 141.5,718.1 185.4,682.9 222.8,705.5 96.3,701.9 117.9,739.2 118,729.4 208.1,635.8 132.4,742 114.3,708.5 120.5,728.6 118.4,691.4 101,696.9 192.5,645.5 166.2,729.8 101.7,719.9 114,725 102.7,703.2 139.2,729.9 110.4,707 152.6,726.5 105.3,706.8 112.5,730.2 154.5,730.2 162.5,695.2 129,723.8 245.5,713.7 111.2,726.8 98.2,701.4 156.2,730.1 120.8,673.2 99.8,713.9 97.3,729.8 116.6,714.9 197.2,680.7 135.7,712.4 152.2,692.6 102.2,705.5 185.4,615.8 99.9,696 214.2,705.8 115.5,705.3 208.8,606.8 120.8,717.2 147.9,695.4 205.9,726.1 111,690.8 130.9,726.1 195.7,670 126.5,665.6 234.8,687.3 98.3,694.7 116,721.3 131.9,728 125.8,700.2 166.3,723.1 105.8,711.4 103.8,726 95.6,710.5 174.6,714.2 114.8,623.5 120.6,729.2 158.9,707.1 104,727.8 149,688.4 97.8,740.1 172.4,677.7 92.7,712.5 152.2,722.9 100.7,716.7 132.5,714.1 103.7,736.9 108.5,724.7 101.4,734.8 103.3,708.5 110.4,736.1 93.7,721.7 180.8,736.6 125.6,718 147.6,694.5 105.7,711.5 102.8,642.2 108.2,739.1 109.2,740 100,646.2 104.1,715 139.2,738.8 94.8,712.9 133.6,679.5 100.4,692.1 156.8,689.4 95.8,703.3 100.2,708.2 107.5,697.2 92.8,677.6 150.5,705.6 156.1,712.6 130.7,713.8 135.1,723.1 125.3,696.1 102.9,715 165.2,723.7 173.7,698.2 151.3,665.7 111.4,661.1 177.3,686.3 110.7,729.2 134.6,686.7 111.9,730 114.3,675.6 215.2,649.8 124.9,719.2 164.3,714.1 95.6,732.7 111.3,713.3 168.4,730.8 119.9,731.5 156.1,710.5 119.5,724.7 126.2,719.9 121.9,724.8 117,719.1 96.1,723.4 110.2,734.9 157.7,663.4 131.4,728.6 120.2,701.1 102.5,719.6 156.9,623.3 110.6,686 129.3,718.7 138.6,726.6 114.4,707.4 191.4,725 130.9,720.6 103.7,734.9 110.3,720.9 138.2,716.2 99.4,732 95.5,720.2 97.2,716.2 98.3,721.8 202.6,698.8 156.6,683.1 116.5,679.9 185.8,711.9 101.9,729 100.7,734.5 224.1,699.2 149.9,707.4 205.4,697.6 189.3,726.7 118.8,740 164.1,695.1 109.8,738.2 127.7,714 115.2,736 98.1,718.6 94.6,711.2 102,734.8 117.4,678.9 150.5,721.4 184.5,722.4 120.7,731.8 106,731.8 92.2,729.4 97.7,707.8 95.8,726.3 104,733.5 163.1,733.1 122.5,711.8 136.2,720.4 109.4,711.8 173,684.6 129.1,695.8 143.6,709.1 178.2,715.8 96.6,701.1 188.6,705.8 167.5,678.7 147.6,723.7 108.5,714.4 142.6,660.8 146.8,712.5 114.9,742.6 125.8,734.8 102.4,682 117,714.6 102.7,699.9 107,725.1 110.8,710.2 113,664.8 254.7,605.7 172.4,682.7 134.9,720.7 217.8,722.5 102.6,683.2 149.4,720 104.9,720.9 104.9,711.5 232.8,609.7 104.3,714.5 111.5,677.8 100.8,705.3 123.4,695.1 116.5,670.3 98.1,726.7 103.8,726.2 97.5,719.6 133.1,704.2 137.8,713.4 259,694.2 120.4,740.1 95.8,743.3 113.7,707.3 118.3,679.3 96.8,711.4 100.1,719.2 147.4,700.6 202.8,638.4 188,650.1 133.3,710.9 102.9,743.8 190.9,661.3 118.8,689.4 140,715.9 116.3,731.8 194.1,698.2 119.6,727.3 99.3,726.3 117,719.2 124.9,701.1 115.9,728.5 123.4,699.5 111.3,702.6 103.1,714 105.8,730.9 116.6,726.3 118.4,727.1 122.4,716.2 168.6,682.5 105.7,726.9 97.1,720.9 144.1,722.8 96.8,707.9 101.1,686.2 107.3,713 150.1,700 114.4,714.3 96.2,653.1 106.3,732.6 102.8,731.3 141.6,729.1 109.2,733 120.8,728.4 123.5,709.5 101.4,714.7 115.7,717.3 122.5,730.7 92.8,731.8 144.7,728.7 135.7,716.4 130.8,705.2 96.6,745 158.2,700.5 96.5,702.7 148.2,698.5 96.4,683.9 106.5,673.9 118.8,721.3 95.1,694.6 109.3,723.3 121.5,726.8 98.3,718.3 134.2,713.4 108.6,724.5 146.7,726.4 101.8,661.8 99.7,687.3 254.3,716.6 126.1,708.7 111.6,716.8 117.9,725 111.3,713 123.9,670.1 154.2,686.3 152.3,738.8 114.6,704 108.5,655.7 150.2,701.4 137.8,724.7 96.1,720.1 112.3,671.2 105.5,710.6 176.7,711.8 117,701.9 149.6,689.2 94.8,744.4 120.7,705 99.1,732.7 126.2,706.1 168.8,715 98.2,730.1 151.8,710.9 151.1,730.2 93.5,724 137.3,710.4 233.3,703.7 138,660.8 175.9,702.1 158.6,702.7 188.9,729.6 97.3,714.1 96.2,695.3 142.4,721.4 98.1,704.1 130,646.5 105.9,709.6 121.5,718.3 154.7,717.1 115.8,675.9 136.7,703.6 158.3,700.8 115.6,665 97.5,729.5 111.2,741.4 182.7,640.2 120.5,686 117.8,697.6 92.2,740.5 107.8,741.2 104.1,704.1 150.9,736.2 146.7,690.9 103.2,731 134.9,678.5 107.5,729.3 126.6,726.3 96.2,703.9 127.9,675.9 129.6,719.3 95.1,700.8 132.2,731.2 149.9,699 110.4,627.8 119,706.2 136.3,726.4 102.7,730.9 209.9,708.2 124.7,723.8 169.9,689.5 107.6,722.6 149.9,718.7 117,708.1 111.7,731.3 128.1,704.7 137,710.7 142.5,735.9 140.1,671.6 239.6,703.8 197.4,705 108.7,702 94.4,708.3 128.1,734.9 149.5,666.1 169.5,711.5 97.1,709.5 94.2,695.6 101.4,730.2 116.6,686.1 168.5,686.9 96.2,690.6 156.4,739.5 96.5,723.5 212.7,722.8 139.7,675.8 127.1,728.9 124,735.9 130.2,717.6 111.5,714.5 101.2,715.2 102.6,705 143.7,719.2 102.9,722.3 126.8,727.3 104.5,728.5 97.4,731.8 215.3,732.8 99.1,652.8 112.8,717.2 138,718.6 106.9,725 101.4,724.1 122.3,680.9 109.2,663 101,707.5 111.4,724 128,674.8 195,733.6 167.5,715.6 122.9,678.9 110.4,730 96.8,679.7 111.6,738.9 134.6,693.1 201.5,641.4 106.9,734.4 167.9,640.5 115.6,687.4 114.9,728 105.7,720.8 149.6,721.8 101.2,728.8 103.5,724.1 154.2,674.1 111.7,721.3 147.8,746 112,720.2 132.4,744.8 142.7,723.2 118.6,710.9 103.9,699 123.5,727.7 97.5,728.5 117.7,726.7 113.6,733.8 201,715.7 109.9,729.1 122.4,706.3 233.2,687.4 106.3,667.8 122.1,699.2 123,720.4 123,694 98.8,687.5 194.4,729.6 169,695.3 114.9,701.2 101.6,737.2 95,677.6 145.3,679.7 137.3,708.8 119.3,713.5 104.5,724.1 125.7,717.5 118.8,724.6 114.1,721.8 111.8,721.5 105,694.8 111.3,733 99.2,693.6 116.8,649.7 99.3,723.5 133.1,713.9 152.3,699.9 112.6,734.5 113.1,738.3 164.2,628.1 93,733 110.4,713.2 143.2,725.3 109.9,720.4 94.4,698 131.3,720.6 104.1,727.3 112.7,706.2 115.5,728.2 108.3,715.8 109.8,636 99.7,715.1 106.1,697.8 109.4,706.4 131.9,737.5 147.2,730.8 160.8,658.6 145.2,732.7 118.7,728.1 109.9,702.9 110.6,681.3 98.5,710.2 138.3,720.6 92.4,719.6 125.6,738.2 101.3,717.7 107.1,730 100.2,718.4 124.8,740.8 170.1,732.3 155.7,712 119.2,693.5 118.7,685.1 184.7,726.6 111.3,730.5 118.6,713.4 110.7,683.8 127.8,709.2 163.4,689.9 104.6,708.9 120.9,715 126.3,734.9 108.4,740.3 98.4,721.9 220.9,717.7 102.9,717.7 107.3,725.3 100.7,707.9 104,709.9 114,706.1 105.4,727.9 106.5,726.5 247.1,727.7 98.9,737.1 93.6,690.6 186.8,741.8 115.7,686.3 134.8,698 110.4,695.8 99.2,741.6 125.6,731.8 127.3,728.8 106.7,722.8 97.2,701.2 93.1,677.8 120.3,718.5 128.3,653.4 254.6,598.5 202.6,721.9 104.4,713.6 170.8,730.8 115.8,735.5 137.4,687 108.6,710.2 111.7,710.9 129.3,710.4 99.7,738.7 132.3,700.1 122.8,657.7 116.4,725.9 123.2,703.3 165.9,698 252.9,687.2 216.2,663.8 155.6,735.6 178.2,677.9 150.2,697.8 107.6,735.4 99.3,712.8 110.7,691.2 100.6,693.4 131.7,710 150.7,626.5 201.7,674.4 140.2,715.4 185,618.5 100.4,714.1 133.5,687.6 165.3,716.1 97.3,698.9 127.8,697.9 108.5,700.9 157.7,718.3 112.1,726.9 174.1,707 151.5,675 100.6,735.2 179.2,739.1 119.7,703.3 183.9,707.5 108,672.4 129.9,649.1 161.5,655.8 104.9,697.3 125.9,727.6 118.8,725.1 226.1,740.4 150.3,712.7 92.3,701.1 118.6,661.7 92.9,739.5 115.7,727.7 113.2,725.9 123.7,714.8 164.7,735.2 150.4,723.6 113.3,727.2 94.1,705.1 125.1,731.8 159.5,630.1 137.7,731.3 107.8,671.4 187.4,726 113.9,703.6 98.5,731.4 100.1,729.9 119.9,668.7 103.4,715.7 131,694.1 182.8,701 129.4,732.6 153.2,705.5 114.4,676.6 107.1,732.3 97.4,606.4 126.7,715.3 161.3,692.6 124.6,732.8 164.9,718.8 99.9,704 108.6,667.4 148.2,722.8 113.7,617.4 148.4,735 149.4,710.9 105.5,644.6 187.1,627.5 145.8,680.2 116,687.2 145.1,720.1 116.7,692.7 122.6,732.7 158.8,721.3 102.3,691.8 111.7,700.1 149.2,721.5 117.6,724.2 98,723.2 124,730.9 133.2,680.2 104.9,731.4 139.6,708 150.5,690.9 236.9,714.3 171.5,719.8 94.3,673.7 160.5,735.5 110.1,724.8 188.9,695.4 94.8,717.7 116.9,734.4 160.3,717 166.5,724.3 123.1,711.8 103,706.5 112.4,726.6 110.8,730 148.5,733.8 96.4,719.3 125.9,732.9 100.5,732.3 124,708.3 174.2,707.8 213.7,670.3 116.8,714.3 129,705.4 132.4,681.6 99,694.4 147.3,625.8 122.5,724 99.8,724.1 155.7,731.7 110.5,695.1 120.3,665.8 141.6,713.6 98.4,725.4 114,729.3 97.7,723.4 108.9,740.5 119.5,682.6 134.8,730.4 98.7,711.9 137.4,676.5 141.9,735.4 111.6,721.8 93.5,722.7 115.8,693.1 107.5,699.5 143.5,703.2 109.9,703.5 94.2,727.2 196.5,704.1 113,702.9 116.1,684.8 95.4,721 142,706.3 158.5,735.2 148.7,720 197.2,640.7 137.5,721.9 122.3,719.2 95.6,728.3 129.5,718.6 96.7,724.3 127.6,690.5 144.2,681.8 94,733.3 137.4,728.9 164,718 120.4,716 122,717.2 117.4,740.6 135.6,708.8 100.5,707.5 97.6,720.6 221.4,705.5 92.6,722.2 144.6,710.6 92.6,731.6 96.3,721.2 236.6,639.3 145,677 104.6,722.7 153.2,668.9 134.5,720.3 122.1,718.4 98.5,713.9 174.4,679.8 135.5,689.4 126.6,700.5 126,707.9 139.9,716.8 106.9,714.6 122.8,725 103.4,740.4 103.9,735.9 102.2,719.9 125.3,710.4 106.1,712.4 175,733.1 108.3,724.5 201.2,691.7 107.9,714.5 117.8,737.8 123.2,732.1 161.4,700.2 188.7,699.6 195.1,710.4 113.7,701.2 140.1,716.1 98.3,692.3 117.3,659.2 118,728.8 138.4,721.7 95.9,726.2 117.7,639.7 128.9,701.2 134.4,727 230.6,697.5 97,675.3 122.2,693.3 96.1,726.6 115.2,715 112.7,737.5 145.4,713.7 150.7,717.7 137.7,704.3 179,710.2 131.1,712.1 111.2,699.9 121.9,740.4 120.2,738.7 104.9,695.5 109.9,731.1 119.6,725.9 117.8,712.8 100,682.9 183.8,691.6 149.3,654.7 153.9,708.6 100,740.5 92.9,741 148.5,717 104.2,692.5 99.5,728.1 155.4,677.5 115.6,734.4 140.4,725.6 102.9,700.3 149.9,717.2 126.8,725.2 104.4,706 127.9,713.5 105.5,707.4 171.4,723.4 104.9,707.8 122.1,716.3 173.1,732.1 132.1,702.6 161.6,684.8 132,702.4 111,726.4 106.3,663.4 92.5,730.2 114.1,701.8 111.7,716.9 169.4,697.9 164.1,706.8 152.8,730.9 168.6,657 125.7,726.7 183.1,736.9 128.5,725.6 102,713.2 113.7,727.5 121.6,712.6 134.7,687.9 105.1,738.1 115,731.4 100.4,710.5 152.5,697.9 121.8,739.3 108.3,724.2 187,734.7 183.7,699.5 126,661.1 121.7,713.3 148.4,672.1 157.8,654.7 123.4,655.1 109.6,697.3 114.9,705.6 105,672.4 101.4,734.8 106.3,702.6 130.5,735.5 115.4,696.7 171,711.3 127.8,702 97.6,713.7 96.9,718.8 182.8,718.9 107.9,618.6 100.8,692.3 178.3,665.6 121,715 121.4,727.7 97.3,731.1 254.3,709.2 107.8,711.6 127.7,694.1 211.9,705.7 138.3,673 104.4,687 92.4,740.6 160.7,732.4 128.4,714.7 104.7,704.3 108.2,716.2 107.2,729.7 98.2,690.1 130.1,724.1 103,719.8 94.6,728.5 167.1,714.4 111.7,718.5 103.4,717.2 118.8,712.8 235.3,637.8 142.9,696 104.5,733.2 134.3,719 188.8,656.8 145.3,712.9 106.9,711.9 233.3,694 151,721.2 118.5,712.7 140.6,731.4 92.1,699.8 195.2,690.5 108.9,722.5 146.6,719.5 184,663.8 139.3,730 113.9,703.9 95,687.8 127.1,694.6 235.2,598.4 121.8,730.7 140.9,721.5 102.1,699.8 140.2,679.4 125.3,723.6 94,698.2 121.9,627.9 133.4,718.2 103,714.4 143.2,696.6 117.1,684.1 180.5,697.6 101.9,723.3 161.9,731.7 145.7,717.2 126.7,721 153.7,712.2 186.3,677.1 125.7,730.1 172.1,730.5 155.9,726 109.8,712.2 134.9,711.5 108.6,733.7 195.5,717.1 209.1,684 176.8,611.7 102.8,708.6 137.8,739.7 95,714.4 128.4,731.3 107,715.9 97.7,734.4 115.2,732.7 102.6,725.5 163.2,713 148.4,708.3 120.2,723.5 114.3,714.4 134,679.5 102.8,709.4 178.4,694.7 194.7,650.1 216.9,719.3 103,683.2 117.9,716.8 249,673.2 106.6,725.7 108.1,687.7 120.1,723.8 165.6,716.2 129.7,707.6 110.6,715.6 123.9,714.1 104.9,707 190.8,683.4 165.8,619.7 115,704.8 115.5,703.2 137.4,701 102.2,740.8 119.3,723.6 108.2,706.4 130.1,652.9 110.1,717.7 116.3,707.7 109,728.7 135.2,732.2 157,693.5 215.5,697.3 100.8,699.1 106.8,647.9 146.2,719.9 249.9,663.3 158.3,726.9 155.1,717.7 107.8,707.8 155.7,696.1 135.2,721.5 95.6,734.4 154.5,745.5 109.5,684.4 94.5,690.7 115.2,729.5 146.9,727.1 130.3,730.5 101.7,695.7 141,731 124.8,698.6 101,702.2 131.8,737.2 95.7,655.6 126.5,709.7 182.4,700.5 158.3,675.4 93.9,699.4 106.9,725.1 176.5,666 179.6,645 172.5,702.6 224.6,704.1 107.6,667.2 137.3,705.1 168.1,726.4 185,698.3 152.1,725 96.5,701.7 127.8,707.6 133,737 115.7,701.3 101.9,682.6 106,702.1 113.9,715.2 93.5,707.9 114.8,722.3 135.8,720.7 115.7,738.2 115.6,697.8 122.7,713.7 147.3,704.9 100.9,700.1 103.4,727.4 161.7,712.4 179.5,721.9 155.2,729 106.6,703.8 137.8,714.5 96.1,715.3 171,721.4 99.7,731.4 153.1,733.8 100.6,706.2 110,719.8 116,664.1 111.2,721.8 119,718.6 98.1,724.1 166.4,701.8 105.3,725.2 123.7,714 137.3,706.6 136.6,718.9 115.9,675.5 106.2,724.4 210.8,672.7 148.5,659.7 123.8,723.3 97.6,666.1 96.4,707.6 121.3,734.1 115.7,724.7 124.4,740 158.3,725.6 108.8,712.4 110.4,728.2 207.3,690.9 114.2,714.6 120.3,713 197.4,666.8 181,718.2 109.6,719.5 115.5,699.4 135.3,646.3 172.3,715.5 110.2,721.2 117.2,722.6 92.9,726 94,700.6 110,693 132.1,678.1 109.8,686.1 163.3,724.7 178.8,731.2 112.4,712.8 106.6,696.4 123.9,675.4 122.2,719.5 127.1,725.4 168.6,679.4 106.5,724.2 104.7,712 149.1,696.7 100.2,716.3 109.3,734.6 100.2,718.3 105.6,716.1 94.8,718.6 121.7,728.9 110.5,735 122.6,716.5 135.1,720.5 160.5,668.5 110.3,711.4 144.1,706 96,715.6 154.6,674.9 126.4,720.3 105.9,666.9 148.2,695.4 124.7,720.6 259.9,733.7 173.8,658.1 125.2,702.9 152.3,659.9 127,687.8 112,700.2 114.3,728 181.8,664.6 169,703.9 124.6,721.9 122.4,703.5 164.3,671.5 146.8,720.3 158.9,694.1 126.4,681.7 228.8,741.8 193.4,648.7 126.6,698.3 136.5,732.7 135.5,707.9 92.8,664.3 140,714.2 106.5,731.5 107.2,726.3 111.4,725.7 163.9,709.2 124.4,725 112.5,721.8 106.4,729.9 140.5,680.5 173.6,656.3 116.3,718.1 105.2,722.8 118.3,723.7 136.8,730.2 150.7,723.8 181.6,724.4 108.6,684.7 96.4,714.2 136.1,655.6 204.5,666.6 229.6,628 92.2,705.2 99.2,741.3 116.1,722.9 139.7,711.6 102.9,716.8 123.8,705 110.3,724.7 155,723.2 133.1,713 204.1,716.9 124.5,670.4 117,724.3 97.2,737.3 113.5,726.3 97.8,689.3 137.3,719.8 155.9,719.3 201.4,644.8 110.4,719.1 191.1,685.7 95.3,707 105,716.3 96.6,735 97.6,695.1 140,673.6 156.4,618.8 126,721 255.7,721 103.7,710.2 106.5,712.7 104.5,701.4 215.7,727.1 154.4,695.3 164,726.5 106.3,743.2 137,694.2 120.7,718.5 115.9,734.3 127.7,735.5 143.7,720 138.7,727.4 173,726.5 216.8,693.9 169.2,720.5 117.9,720.4 125.8,618.8 104.1,705.2 161.6,672.6 135.4,729.1 151.7,728 147.8,730.1 172.4,695.8 143.5,639.3 123,742.3 95.1,717.5 98.7,696.6 200.3,647.6 100.4,724.5 114.5,724.9 99.5,731.7 116.3,728.7 139.1,720.4 218.7,651.4 127.5,704.2 128,685.4 107.2,716.4 103.5,734.8 163.2,740.1 107.3,722.9 228.9,707.7 134.9,711.3 111,712.6 109.2,710.9 105.5,735.2 120.2,724.2 145.2,728.7 108,725.7 102.5,734.5 107.7,735.1 148.6,720.5 99.9,719.8 98.4,719.2 126.5,724 128.1,732.6 131.1,652.4 127.4,711.3 97.6,690.9 108.3,686.8 126.4,647.2 144.3,728.1 119.1,708.6 108.4,728.7 110,734 235.2,603 112.9,715.3 128.8,667.9 95.5,734.8 177.4,736.9 140.1,728 103.2,716.8 138.1,690.4 113.8,719.1 107.2,698.6 166.5,686.5 222.4,730.3 152.1,726.4 150.2,714.5 167.4,729.7 109.7,726.5 127,707.9 135.1,644.2 149.2,724.7 122.5,716 166,627.2 138.5,738.9 108.8,717 148.6,720.8 193.4,662.3 116.5,703.4 117.8,701.2 139.2,691.4 102,719.3 178.8,698 135.5,711.6 164.5,720 102.7,710.5 126.7,696.2 109.1,744.2 129.7,735.8 121.1,708.6 97.8,710.1 130.6,713.9 146.8,699 141.5,714.2 176.6,655.5 256.9,727.6 117.3,727.1 93.9,713.9 221.4,648.3 109.2,680.7 108.8,718 99,736.3 179.5,720.4 119.8,710.5 94.5,660.7 101.7,712.4 173.4,709.1 111.7,735.9 119.5,733.3 114.9,703.3 115.7,713 129.2,721.9 153.4,716.9 188.5,724.8 114.7,684.7 98.7,712.9 140.8,713 116.7,723.4 96.6,734.4 103.5,722.8 117.3,729.5 194.6,713.3 104.4,723.5 170,706.9 229.4,617.9 213.3,626.7 114.9,732.2 140.2,733.4 101.6,724.6 106,673 119.9,727.3 95.9,738.7 108.6,741.1 114.8,729.3 117.1,728.7 95.4,710.2 155.7,689.5 124.6,721.9 117.8,715.4 105.2,718.1 130.6,706.9 149.8,686.8 101.5,735.3 173.4,669.9 141.3,666.6 119.1,736.5 111.1,722.1 104.7,719.4 115.1,690.6 99.4,690.2 201.2,643.3 116.8,706.4 119.5,613.8 102.5,716.8 120.7,727.7 98.6,732.2 124.8,702.6 139.2,655.4 199.5,718.7 117.1,700.1 107.2,726.3 134.3,682.2 98.7,713.1 99.8,681.2 218.9,687.7 122.3,720.7 116.4,690.5 118.5,710.1 97.1,737.8 95.1,730.2 111.2,722.9 106.2,715.7 103.5,711.2 125,691.7 107.5,717.1 138.3,724.8 139.9,674.7 193.5,634.8 94.5,737 121.7,719.5 176.3,730.9 135.3,635.4 143.3,688 148.9,714.4 121.7,686.8 102.3,722.3 139.3,703.8 97.6,716.9 114.6,714.6 167.2,733.3 119.2,712.4 179.5,716.9 97.8,716.7 160.1,693.5 129.9,688.1 103.7,698.6 98.6,736.7 114.7,721.6 116.5,716 152.6,678.3 217.1,599.3 122.5,731.7 94.8,721 108.3,721 243.1,670.9 96.8,711.9 132.6,628.1 106.4,707.6 109.7,733.6 104.2,727.5 120.3,712.8 126,723.2 136.6,726.8 181.3,658.7 170.3,677.5 154,711.1 103.4,695.8 125.8,670.4 102.6,696.3 125.1,680.8 179.9,628.7 214.5,708 192.5,676.5 114.4,697.8 118.2,732.9 111.9,725.3 132.7,721.3 132.6,727.8 118.6,711.2 163.1,704.2 100.5,706.6 103.5,733.9 170.1,720.8 117.3,727.9 108,719.2 122.4,729.6 146.7,668 112.9,729.9 153.5,691.8 119.9,715 202.1,700.5 111.6,722.7 130.9,730.3 122.9,692 106.8,698.9 100.2,724.1 121.7,707.4 101.6,732.7 127.3,703.7 126.3,701.3 104.9,688.8 98.5,710.3 118.4,710.9 152.1,714.3 93,689.4 145.9,684.3 179.1,708.7 98.8,730.4 96.2,733.4 128.5,715.7 116.3,716.4 123.4,612.5 191.4,696.3 101.9,670.5 99.2,728.1 97.7,714.5 212.6,701 119,741.5 154,731.6 116.9,733.8 114.5,734.6 128.7,731.6 115,684.7 108.8,706.4 200.6,700 147.2,733.5 100.2,668.8 172.1,723.6 160.8,684.2 139.2,688.4 95.5,719.6 256.6,727.9 174.2,680.8 111.9,722.4 114.9,731.4 124.2,676.3 144.6,726.1 132.4,717.1 129.3,701.8 118.9,677.7 107.2,739 113.6,715.2 143,688.8 116.3,686.8 195.5,709.3 93.3,730.9 93.8,718.4 139.9,725.3 103.1,700.1 111.6,728.3 123.9,738.5 172.1,695.3 139,682.2 151.5,717 130.8,729.2 123.8,709.9 92.1,712.1 93.3,724.4 139.7,661.5 97.6,713.5 157.4,723.2 120.1,719.1 168.2,679.1 196.9,704.7 118.7,672.5 168.9,685.1 139.1,657.2 96.1,731.9 152,734.8 189.2,727.1 166.9,695.2 132.4,716.6 199.8,709.2 126.3,692.9 142.7,665 101.3,715.5 109.3,663.8 103.7,711.9 107.2,721.1 113.6,727.6 97.5,729.6 121,706 127.8,709 131.4,728.1 217.5,731.6 234.3,731.9 235.3,724 176.5,697.8 147.2,733.5 148.2,709.3 99.7,705.8 206.8,674.4 118.5,723.6 123.6,695.3 116.1,720.2 113,716.5 119.2,706.5 95.6,701.6 118.6,718.5 109.6,721 183.9,729.2 168.1,738.1 178.2,684.9 107.1,703 154,724.2 100.3,707.6 118.5,681.4 108.5,730.5 152.6,676.6 135.1,694.9 101.7,730.3 172.5,714.7 126.4,708.9 108.5,724.3 141.6,662.6 110.1,736.8 119,662 121.5,662 146.8,737.5 169.3,722.9 135.7,670.6 123.8,699.5 96.2,717.3 108.1,722.8 204.1,655 138.5,704.6 136.5,724.2 115.1,711.7 96.9,728.4 93.9,743.6 120.3,707.8 118.4,720.2 257.7,666 97.6,692.7 127,708.1 177.8,731.7 98.5,710.6 111.6,736.9 143.8,680.1 144.9,705.6 122.4,699.2 101,620.3 97.1,703.4 109.2,733.2 122.4,734.8 97.7,686.2 188.9,698 103.4,702.3 107.9,734.2 148.2,725.1 106.2,723.4 140.5,679.2 118.3,728.5 101.9,714.4 103.3,705.8 124.7,718 131.9,738.5 133,710.5 149.3,740.5 131.3,728 127.4,729.6 109.5,732.4 113,674.1 99,736.3 171.9,738.4 113.6,733.8 107.2,719.3 93.7,715.6 113.4,721.2 127.5,717.5 97,714.1 153.9,662.5 134.1,682 127.6,730.4 147.7,706.9 105.9,725.2 224.4,666.4 105.1,738.6 131,731.2 98.6,712.4 162.8,705.7 217.9,630.2 125.4,738.9 122.5,663.9 96.5,699.3 172.5,711.1 107.7,736.3 151.8,733.3 111.9,716.7 110.3,718.9 108.3,733 157.9,710.3 106.9,723.8 253.3,692 96.8,724.3 123.1,716.6 141.3,715.9 107.2,696.5 115.1,723.8 143.1,704.7 136.5,701.9 97.5,735 114.7,729 118.6,720.8 114.1,708.9 158.9,654.4 237.6,697.5 100.5,721.4 109.5,691.8 101.9,699.9 95.7,738.2 137.6,725.5 99.2,725.8 136.5,716.5 127.6,694.2 142.4,695.4 161.7,727.1 96.2,712.5 140.8,705.3 152.8,676 202.6,641.5 102,729 97,741.9 115.4,731.7 132.5,718.8 133.6,714.7 127.9,712.2 105,729.1 153.1,673.4 131.2,685.7 99,700 97.2,727.2 114.4,717.3 133.5,714.3 124.1,731.4 110.4,714.9 155.1,711.1 102,697 147,706.4 105.4,737.5 166.8,708.5 97.3,733.7 173.9,694.1 100.2,673 142,691.6 220.7,676.1 125.4,727.3 127.7,683.7 126.4,717.2 103.1,742.9 161.9,707.8 106.3,711 248.5,676.1 100.2,714.2 134.1,706.6 107.3,709.5 94.9,708.9 100.1,696 200.8,716.9 116.9,722.6 187.4,720.7 107.1,707.5 115,727.5 133.7,731 104.4,720.1 98.3,728.2 140.4,709.4 108.5,627.5 98.4,716 145.5,723.2 121.7,708.4 102.8,737.6 176.1,715.1 177.9,696.3 98.7,693.1 100.5,711.4 154.8,710.9 120.3,709.4 115.9,712.1 116,727.2 101.2,724.3 113.4,727.6 188.9,673.2 103.8,704.7 169.3,706.9 178.7,701.3 112,725.3 177.4,713.7 118.4,736.3 138.1,717.6 158.2,715.8 92.6,712.6 116.6,722.3 115.3,730.4 117.2,724.1 98.5,711.5 149.9,701.5 208.8,735.2 112.1,727.1 133.1,733.2 133.4,704 158.2,655.5 154.8,701 102.3,680.7 140,635.3 125.9,714.1 111.6,728.8 112,717 110.3,717.8 108.6,701.9 94.9,711.5 159.6,718.3 95.8,704.7 123,711 103,740.9 145.6,690.7 101.3,727.9 101.5,734.5 98.9,674.3 128.2,722.5 101.7,725.8 111.3,731.1 123.3,715.4 145.1,692 104.7,721.2 123.1,722.4 135.2,699.4 130.3,703.7 116,720.6 99.2,718.3 213.6,700.9 96.6,726.6 117.6,722 114.8,720.4 200.2,678.4 100.1,727.8 111,743.2 130.2,695.1 114.1,694.3 108.3,699.8 129.1,717.8 102.7,731.4 123.5,733.1 112.8,734.7 139.8,738 192.7,730.8 130.6,728 216.3,689.7 132.8,722.5 209.6,692.8 98.1,728.2 103.4,655.7 118.2,693.9 102.6,741.2 98.7,684.4 168.2,713.8 111.3,709.1 97,717.5 133.5,720.7 160.7,721.7 108,710.1 115.1,728.9 185.9,714.5 110.7,682.6 131.4,689.8 103.8,660.3 154.4,728 212.6,719 183.1,687 119.9,733.3 106,700.3 105.3,717.9 201,734.5 105.5,706 101.8,730.8 130.7,703.5 117.3,713.1 93.2,616.4 148,729.8 160.3,693.6 198.4,710.3 96.4,730.7 140.7,671.6 100.8,703.1 189.2,728.9 94.4,707.5 121.7,709.9 111.9,738.5 112.1,729.1 107,734.5 141.7,657.7 106.9,728.8 112.5,718.3 140.2,715.7 122.5,729.6 96.1,716 157.7,698.8 100.2,715.7 97.3,725.5 121.2,666.2 95.6,678.4 115.7,695.5 121.5,698.2 157.7,705.4 145.3,703 104.1,707.2 145.5,699.9 141.6,710.1 151.2,640 113.7,652.3 125.8,656 109.5,732.6 93,697.3 125.4,731.2 106.2,698 117.5,695 110.9,727.7 141,724.7 120.5,730.5 143.9,679.6 92.9,697.2 156.2,722.8 154.6,725.6 169.9,709.1 130.7,713.2 113.3,658.8 108.4,663.4 93.2,673.6 175.2,696.9 120.7,712.6 105.8,724 169.7,684.6 122,684.7 151.6,708.6 97.6,733 124.6,726.9 128.3,729.1 180.7,682.9 128.3,736.5 101.5,725.5 169.1,722.9 122.9,698.8 156.5,714.7 130.3,710.3 114.9,733.8 164.1,697.1 94.4,732.1 217.3,703.6 109.6,736.1 169,634.6 102.1,717.8 96.5,705.1 109.7,692.3 107.7,739.8 121.7,679.4 105,732.1 102.1,731.2 111.6,743.6 108.9,685.2 99.7,721 123,734.5 111.8,717.8 131.4,613.2 175.4,728.1 116.1,714.2 140.1,732.7 102.4,725.7 104.7,687.1 179.1,695.4 124.7,721.7 129.5,692.8 142.6,737.7 144.1,701.6 115.7,686.4 160.8,728.1 207.4,639.2 107.4,651.3 126.8,685.9 93.2,733.5 123.1,695.5 100.3,727 106.8,726.4 114.8,637.6 136.4,723.1 94.8,698.3 108.1,724.7 96.1,732.4 99.7,720.2 192.3,652.6 106.6,718.4 127.5,702.1 145.7,673.5 98.9,699.8 240.9,678.7 95.7,716.3 124.7,663.8 171.1,647.6 129.7,710 133.1,732.7 227.3,729.4 109.8,729.4 140,699.2 114.4,699.7 111.5,682.2 149.1,737.8 171,706.9 124.2,680 148.3,683.4 171,711.4 107.8,721.5 101.1,736.5 108.6,726.8 103.2,714.1 113.4,682.3 212.8,714.2 93.4,728.7 107.3,689 94.2,729.1 150.4,698 137.2,730.3 124,721 116.3,730.3 101.6,726.1 180.4,692.4 109.6,732 132.4,707.1 113.4,680.3 118.8,714.3 98.5,685.3 98.5,732.3 114.1,714.1 96.7,723.3 104.9,716.5 124,696.6 117,725.7 204.9,685.8 127.1,732.3 111.7,721 103.9,711.4 103.3,736.3 94.8,672.5 152.6,664.3 109.7,727.9 106,690.4 106.7,707.2 149.9,723.7 108.2,731.5 136.2,716.6 137.6,731.4 129,693.8 129.4,724.5 121.6,686.2 222.8,696.4 250.1,653.7 103.7,728.4 102.1,686.7 131.6,726 115.5,723.4 249.9,724.4 109.7,739.2 168.9,721 176.7,666.6 109.9,725.5 99.5,724.7 107.4,699.7 143,695.8 230.8,721.2 105,716.8 212.9,665.7 146.1,656.9 115.1,733.2 102.9,716.5 104.8,702.2 160.5,702.2 100.8,729.6 141.7,697.3 137.7,700.6 184.4,700.8 116.1,711 92.4,726.7 103,728.3 94.4,728.4 174.7,600.7 152.4,708.3 140.5,683.8 93.8,716.8 109.4,703.8 117.1,722.8 103.7,708.6 126.1,734.3 101.4,704.8 117.8,712.2 144,731.7 116.4,734.9 124.9,734.9 108.3,708.4 149.5,714.2 101.8,708.9 117.4,740.1 106.9,731.1 144,730.5 160,739 126.8,695.9 153.6,715.4 157.7,715.6 166,686.5 145.2,714.8 126.8,725.9 108.1,714.3 113.7,713 99.2,717.9 117.3,680.8 188.1,638.5 202.1,721 187.3,712 111.2,734.9 136.1,709.2 144.1,709.9 134.3,682.1 110.6,728.5 120.6,724.6 122.6,711.4 136.9,725.4 106,724.5 125.5,713.1 208.1,711.3 188.2,702.1 156,625.4 99.3,721.8 123.3,696.8 138,703.3 99.5,701.7 195,662.6 200.5,639.7 133.4,713.8 112.6,713 125.5,689.6 165.9,710 105.4,700.4 119.6,710.9 185,717.7 118.6,713 126.6,708 185.2,717.7 206.6,715.5 214.7,741 111.5,648.8 114.4,709.5 106.7,734.2 194.7,717 100.9,706.1 117.7,668.7 124,663.8 110.7,642 159.2,665.2 177.2,715.7 105.8,726 105,722.8 107.3,691.9 95,697.9 100.6,713.4 97.5,702.7 128.7,683.7 94.3,708 110.8,708.8 167.3,711.9 156.8,697.4 108.1,728.9 180.9,726 193,725.1 94.4,707.6 133.3,708.7 176.7,681 132.7,720.3 120,729.2 100.2,661.8 108.7,714.7 103.3,708.7 156,721.2 123.6,704.3 139.4,721 175.5,722.7 193,696.9 93.9,737.5 103.1,736 108.6,702 145.1,739.6 124.3,717.9 115.6,681.1 105.1,699.1 229.7,678.8 105.7,712.9 108.5,723 173.8,727.9 228.8,639 138.7,725 114.3,709.6 103.7,680.7 113.7,718.4 94.5,712.3 105.1,686.5 161.5,706.8 207.8,703.6 98.3,725.3 96.7,715.4 140.2,720 111.6,701.5 95.3,684 117,725.5 100.3,681.1 258.9,605.5 117.1,708.3 176.1,702.6 261.1,695.6 111.2,716.3 107.1,727.9 147.5,639.7 111.4,658.5 104.6,731.8 148.3,712.9 214.2,712.9 194.9,730.4 109,696.2 115.4,703.3 109,716.8 162.7,706.3 128.1,716.1 107.5,690.8 182.7,707.9 101,720.6 114.1,664 163.9,727.6 163.5,693.9 96.3,730.6 115.6,709.9 117.8,696.4 122.8,708.2 96.5,722.6 157.9,719.9 98.6,729.8 133.3,685 143,721.7 101.1,725.8 119,719.6 102.1,731.6 109.7,715.7 141.4,723.7 109,732 98.6,732.4 165.6,731.5 109.4,734 94.2,720.8 118.5,643.9 115.4,730 100.5,728.8 174.4,707.4 112.7,723.5 110.6,709.4 135.2,690 119.6,713.1 144.4,720.4 115.4,712.4 171.1,732.5 165.8,721.4 155,727.7 151.1,726.2 121.1,715.3 92.8,713 111,697.5 150.5,736.1 98.1,712.3 133.9,664.1 120.2,695.2 176.6,714.4 103.6,677.6 125.4,697.6 101.2,716.2 186.3,729.8 154.2,714.3 94.7,712.2 142.7,674.8 141.2,721.1 177.3,664.9 143.7,606.9 107,736.9 127.1,715.1 171.4,714.4 122.1,711.2 100.5,736.2 96.4,735.7 107,682.5 186.1,730.4 120.8,729 93,656.1 126.5,692.7 100,658.5 100.5,676.6 164,707.4 100.2,716.9 98,696 162.2,726.8 96.7,706.8 130.3,704.8 131.4,671.8 101.2,712.2 157.9,725.7 99.7,728.7 106.4,729.3 136.4,699.8 133.8,706.4 245.8,731.7 112.2,712.7 94,712.8 111.4,723.6 163.3,659.2 102.9,667.2 174.5,724.5 123.7,714.5 118.5,739.6 117.5,728.3 183.7,733.6 143.2,712 117.1,700.3 106,694.8 99.5,713.5 118.7,714.3 176.5,640.3 125.4,714.3 125.1,662.2 124.9,714.9 157.1,716.1 147,673.1 121.6,721.4 113.1,699.4 125.9,699.9 102.5,715 107.6,731.9 157,703.8 140.9,707.9 158.5,715.9 103.2,714.4 112.9,700.6 133.4,720.4 126.1,698.3 105,732.1 101.2,720.8 98.5,728.9 150,710.6 123,732.9 99.8,659.3 164.2,705 130.5,695.1 114.4,717.7 111.5,714.1 115.7,709 121.7,679.4 94.2,722.2 134.2,725.8 121.8,736.8 110.8,731.5 222.2,699.1 115.2,730.4 101.3,712 107.6,685.8 145.8,680 110.6,724.8 92.7,740.4 110.9,718.5 176.7,702.2 107,735.4 109.6,683.7 136.7,717.8 147,694.1 151.9,703.8 105.6,719.4 128.7,736.7 182.4,673.6 139.7,703.3 136.2,723.9 129.4,701 122.2,701.8 132.4,677.8 121.7,696.4 104.7,721.7 97.6,713.7 147.3,654.1 96.5,715.9 123.4,703.1 149,726.6 185.3,666.9 134,677.7 123,719.5 261.8,714.6 97.9,697 176.9,689.8 104.1,707.1 116.5,699.7 128.1,671 214.8,689.9 113.2,705.3 114.6,727.6 104.3,737.6 152.9,704.8 176.1,724.4 112.9,732.8 182.5,659.1 115.6,717.6 120.8,720.1 128,697 142.7,708.9 111.6,713 144.7,601.6 139.1,711.6 130.2,702.8 160.7,701.4 110.1,685 105,739.8 107.9,649.8 112.8,733.3 116.2,713 141.8,714 120.1,719 105.9,724.8 137,688.4 103.1,700.4 105.4,727.6 117.2,701.8 123.1,734.1 107.5,692.4 102.7,697.9 100.5,734 108,709.9 110.3,717.3 105.4,703.7 257.2,689.3 181.9,728.9 118.9,739.9 188.9,699.6 143.5,720.8 96.2,726.5 100.9,737.8 151.7,737.5 107.2,720.4 137.5,705.1 141.6,685.5 169.9,692.8 167.5,722.6 94,688.5 102,726.7 198.3,734.7 164.5,689.8 172,726.4 98.1,727.1 107.7,721.7 103,728.2 105.5,728.5 117,716.1 97.3,713.8 122.3,719.4 123,717.1 122.7,702.7 96.1,692.2 153.8,679.7 139.4,741.1 120.9,708.9 99,718.1 105.5,676.4 163.5,726.7 137.6,715.9 99.2,682 101.3,691.4 117.8,697.6 145.7,717.5 151.2,701.4 109.3,721.1 104,739.2 115.3,721.1 168.8,723.5 117.7,728 153,702.3 161.2,696.1 102.7,699.2 119.6,714.5 188.3,618.5 108.7,712.2 117.8,694 97.1,727.7 170.6,722.3 119.7,733.4 106.3,723.4 144.6,727.9 116.2,699.7 127.7,701.4 105.2,733.6 131.1,693.7 105.2,736.5 120.2,712 107.7,732.8 200.2,705.3 103.4,716.8 102.9,720 98.5,707.3 114.3,710 150.6,711.7 95.8,726.1 137.6,699.6 138.7,726.8 111.7,707.7 107.8,727.4 165.1,706.6 140.9,711.5 168,697.4 117.5,684.8 93.3,733.4 152.9,708.9 94.2,734 121.4,738.7 160.4,645.7 128.1,717.4 106.5,706 100.9,687.6 105.3,732.9 135.2,683.8 120.8,696.6 106.3,705.7 109.5,643.1 225,623.9 186.6,724.4 123.2,712.8 122.8,724.9 114.6,717.8 103.1,728.6 111.7,702.3 126,721.1 177.8,735.7 201.5,712.9 117.6,724.7 170.5,704.4 137.5,704.5 105.2,681.6 125.7,701.1 98.4,711.7 97.2,719.2 114.1,714.7 152.1,706.8 136,731.5 221.5,666.9 192.7,713 116,722.9 130,730.8 146.5,705.4 108.4,674.9 123.2,717.7 96.4,650.6 107.1,722.9 94.1,715.5 137.7,740.2 93.7,719.2 176.9,623.2 142.5,724 129.9,699.1 116.9,704 176.6,610.3 122.6,682 157.8,708.1 126.1,709.1 119.9,725 109.3,737.5 100.5,724.4 104.4,695.5 111.6,685.3 123.6,690.4 120.3,712 129.5,710.4 111.8,735.9 114.8,703.8 113.9,713.3 104.2,735.3 95.7,725.1 96,741.4 115.8,707.9 188.7,695.2 107.4,679.3 95.5,727.1 98.8,729.4 111.1,690.2 161.9,713.9 125.6,679.6 208.3,682.3 246.1,721.2 107.7,729.9 126.7,731.2 111.7,664 133.5,696.2 100.1,714.3 100.6,734.6 147.7,689.6 153.7,719.5 104.2,708.7 123.2,694 97,717.3 136.9,729.1 106.5,714 115.7,727.8 113,715.5 94.9,726.1 93.6,614.7 150.2,723.5 140.1,727.8 134.6,715 108.1,676.3 100.1,732.7 111.5,678.4 99,701.2 117.2,727.4 108.5,731 116.7,743.5 107,730.9 181.2,730 143.2,729.3 109.6,720.8 106.2,728.4 127.8,699.3 115.3,713.7 117.5,708.4 96.1,726.2 107.5,725.2 95.9,730 107.1,707.3 121.9,716.5 102,705 111.7,729.9 114.7,721.7 104.7,712.9 137.4,735 103.4,730.4 107.4,734.4 145.6,730.1 162.9,633.2 108.6,719.9 165.3,732.9 116.7,704.8 154.5,695.8 124.3,641.6 125.8,709 148,683.3 160.7,719.8 105.9,724.2 109.9,714.4 111.4,723.9 142.5,730.9 116.8,720.4 186.5,487 103,510.5 153,511.5 119.5,521 142.5,525 135.5,529 226,520 101,560 115.5,558.5 125,558.5 115,564 118.5,569 232.5,560 210,572.5 303.5,574 119.5,579 101,583.5 145.5,583.5 180.5,585 228,583 217.5,586 129,588.5 142,589 196.5,590 108.5,591.5 106.5,593.5 103,595 209.5,594 266,602 308.5,611 322.5,627 313.5,644.5 274,636.5 266.5,636.5 275,660 284,665 284,669 290,663.5 290,669 339,666 286,679 309.5,683 310.5,688.5 364.5,689.5 281,690 277.5,706 449,726.5 290,747.6 264,733.5 110,747.6 125,747.8 138,747.6 160,747.6"/>
<path d="M92.0 438.5V748.4H498.9" fill="none" stroke="#000" stroke-width="2.2"/>
<text class="tk" x="159.1" y="771.1" text-anchor="middle">100</text>
<text class="tk" x="225.9" y="771.1" text-anchor="middle">200</text>
<text class="tk" x="292.8" y="771.1" text-anchor="middle">300</text>
<text class="tk" x="359.6" y="771.1" text-anchor="middle">400</text>
<text class="tk" x="426.4" y="771.1" text-anchor="middle">500</text>
<text class="tk" x="493.3" y="771.1" text-anchor="middle">600</text>
<text class="tk" x="77.7" y="771.1" text-anchor="middle">0</text>
<text class="tk" x="81.9" y="720.1" text-anchor="end">0.5</text>
<text class="tk" x="81.9" y="686.2" text-anchor="end">1</text>
<text class="tk" x="81.9" y="652.2" text-anchor="end">1.5</text>
<text class="tk" x="81.9" y="618.3" text-anchor="end">2</text>
<text class="tk" x="81.9" y="584.4" text-anchor="end">2.5</text>
<text class="tk" x="81.9" y="550.4" text-anchor="end">3</text>
<text class="tk" x="81.9" y="516.5" text-anchor="end">3.5</text>
<text class="tk" x="81.9" y="482.6" text-anchor="end">4</text>
<text class="tk" x="81.9" y="448.6" text-anchor="end">4.5</text>
<path d="M158.8 748.4v5.6M225.6 748.4v5.6M292.4 748.4v5.6M359.2 748.4v5.6M426.1 748.4v5.6M492.9 748.4v5.6M92.0 714.8h-5.3M92.0 680.9h-5.3M92.0 646.9h-5.3M92.0 613.0h-5.3M92.0 579.1h-5.3M92.0 545.1h-5.3M92.0 511.2h-5.3M92.0 477.2h-5.3M92.0 443.3h-5.3" fill="none" stroke="#000" stroke-width="1.5"/>
<rect x="329.9" y="463.9" width="149.0" height="71.9" fill="#fff" stroke="#000" stroke-width="1.7"/>
<text class="lg" x="337.1" y="481.4">N</text>
<text class="lg" x="470.9" y="481.4" text-anchor="end">3908</text>
<text class="lg" x="337.1" y="496.5">Spearman rho</text>
<text class="lg" x="467.9" y="496.5" text-anchor="end">0.25</text>
<text class="lg" x="337.1" y="511.5">95% CI</text>
<text class="lg" x="474.7" y="511.5" text-anchor="end">0.22–0.28</text>
<text class="lg" x="337.1" y="527.9"><tspan font-style="italic">P</tspan>-value</text>
<text class="lg" x="472.5" y="527.9" text-anchor="end">&lt; .0001</text>
<g transform="translate(291.35 795.80)"><text class="ax" transform="translate(-96.20 0) scale(0.7282 1)" xml:space="preserve">Total CFU per 10</text><text class="sp" transform="translate(13.06 -5.6) scale(0.9000 1)">5</text><text class="ax" transform="translate(19.27 0) scale(0.7282 1)" xml:space="preserve"> cells plated</text></g>
<g transform="translate(51.90 602.70) rotate(-90)"><text class="ax" transform="translate(-117.60 0) scale(0.7380 1)" xml:space="preserve">CD34</text><text class="sp" transform="translate(-80.94 -5.6) scale(0.9000 1)">+</text><text class="ax" transform="translate(-74.42 0) scale(0.7380 1)" xml:space="preserve"> as a percent of viable CD45</text><text class="sp" transform="translate(111.08 -5.6) scale(0.9000 1)">+</text></g>
<text class="lt" x="11.6" y="436.2">B</text>
<line x1="92.0" y1="1129.7" x2="464.6" y2="1012.4" stroke="#000" stroke-width="2.1"/>
<polyline class="pt" points="109.6,1099.2 145.1,1112.7 123.5,1140.8 114.5,1124.4 106.7,1121.4 107.1,1114.4 178.3,1099.7 183.4,1131.3 140.4,1124.7 117.5,1133.2 111.9,1108 118.3,1101.6 121.7,1131.3 95.7,1138.7 197.6,1098.7 113.2,1116.2 202.6,1128.6 136.6,1074.9 158.1,1084.3 108.5,1135.7 135.7,1128.5 135.5,1128.4 120.9,1124.6 157.4,1138.3 117.4,1123 97.2,1139.2 153.9,1137.5 141.7,1090.5 104.1,1130.3 114.9,1106.6 180.2,1102.3 105,1114.7 115,1089.9 176.6,1104.7 177.3,1086.4 173.5,1119.1 290.7,1061.7 297.7,1143.9 111.9,1129.8 213.8,1136.1 133.5,1148.1 153.6,1108.6 129.6,1120.2 153.2,1105.8 127,1139.1 190.2,1109.7 119.2,1069.7 170.9,1098.7 121.8,1145.6 126.3,1112.7 120.1,1123.5 104.3,1136.8 119.3,1126.9 171.9,1139 161.4,1096.2 141.5,1102.9 101.6,1124.3 112.5,1110.1 115.7,1142.5 150.5,1119.4 146,1101.7 130.2,1113.3 96.5,1137 98.6,1132.8 142.6,1116.4 176,1086.4 149.9,1139 152.1,1114.5 107.9,1132.8 324.7,1051.7 157.6,1123.9 173.6,1122.1 145.8,1112.6 143.9,1136.2 114.3,1138.1 140.4,1139.7 125.7,1126.5 126.1,1105.7 115,1110.7 127.8,1142.6 125.4,1132.5 110.4,1112.7 104.9,1132.7 173.6,1069.3 210.8,1039.7 127.8,1128.4 109,1133.1 150.4,1118.1 153.8,1133.4 107.2,1131.7 118.6,1130.6 120.4,1050.2 109.7,1130.9 174.5,1132.2 139,1120.9 110.2,1131.5 187.3,1136.6 235.8,1126.1 110.3,1142.2 125.9,1127.8 169.4,1108.8 112.9,1144.2 123.3,1142.3 120.9,1123.7 155.8,1125.6 104.9,1131.9 126.4,1122.6 113,1110.5 143.4,1130.4 184.1,1124 200.9,1123.4 199.4,1120.7 133.1,1126.4 183,1093 144.4,1126.6 163.2,1120.5 106.6,1142.6 103.7,1134.7 171.6,1107.8 153.8,1115.4 139,1136.6 211.7,1109 111,1135.1 223,1117.5 130,1142.9 157,1119.7 216.9,1143.1 128.4,1133.2 110.1,1116.9 140.5,1144.4 182.8,1064 138.3,1141.8 180.1,1084.9 107.3,1117.4 227.2,1104 158.3,1135 102.6,1145.8 129.9,1086 214.3,1053.8 155.4,1119 187.9,1111.8 252.3,1111.2 119.6,1125 119,1139.9 199.6,1047.8 105.2,1110 135.4,1110.5 105.7,1140.9 158.1,1138.4 106.9,1137 221.5,1050.5 204.9,1081 152.8,1119.1 122.9,1106.5 125,1110.1 196.4,1119.8 219.2,1027.7 93.9,1116.7 176.7,1135.4 126.4,1128.1 124.6,1113.6 115.9,1061.5 167.4,1090.5 147.7,1130 122.7,1133.3 214.5,1056.2 326.6,1103.3 163.5,1111.8 130.7,1131.5 118.3,1117.8 231.8,1128.4 163.3,1145.3 233.7,1119.9 150.2,1054.2 136.1,1018 197.2,1033.4 103.7,1137.1 134.4,1134.7 124.6,1119.7 108.6,1133.2 110.9,1140.4 125,1117.9 136.1,1132.2 142.1,1090.8 190.1,1107 96.1,1135.6 177.5,1131.2 186.9,1110.2 142.2,1113.2 136.3,1125.6 114.2,1128.5 167.3,1129.9 127.9,1130.9 146.5,1116.9 263.8,1070.7 127,1135.3 106.5,1143.3 154.9,1132.6 96.1,1137.6 128,1109.5 135.7,1122.9 105.7,1145.8 260.5,1092.7 128.8,1123.9 124.5,1080.9 279.8,1081.3 145.4,1134 130.5,1133.5 160.2,1124.2 101.8,1145.8 117.2,1134.3 135.9,1141.9 155.6,1134.5 113.4,1133.6 106.4,1116.5 246.4,1091 202.8,1132.9 99.8,1128.2 117,1123.3 192.5,1136.4 161.2,1137.2 127.2,1093.8 183.6,1057.4 127.9,1121.8 141.8,1086.1 146,1099.4 143.3,1050.8 102.8,1153.4 137.4,1119.3 106.2,1102 119.4,1121.3 153.1,1136.3 124,1139.2 140,1082.8 123.9,1032.2 102.3,1146.4 106.3,1140.2 114.5,1118.9 122.8,1103 109.5,1136.1 212.6,1127 121.4,1099.7 111.8,1099.6 127.9,1143.7 146.4,1121.9 153.2,1100.3 135.8,1118.8 197,1057.1 321.8,1061.7 153.2,1100.2 101.5,1128.5 149.1,1136.7 137.2,1062.7 129.4,1132 100.1,1133.8 98.1,1099.8 272.2,1035.2 312.6,1072.9 122.4,1144.5 118.4,1123.5 235.8,1053.7 154.1,1121.1 185.4,1135.3 152.1,1077.3 153.7,1072.4 239.1,1063.8 189.6,1134.6 110.2,1135.8 145.4,1144.3 122.2,1098.5 118.9,1117.8 120.3,1146.6 117.7,1112.7 127.6,1096.8 145,1135 233.4,1105.9 138.5,1069.4 124.4,1147 221,1103 118.9,1112.4 112.6,1126.5 271.5,1088.5 141,1116.2 190.6,1097.4 164.4,1059.6 125,1146.6 127.9,1125.1 118.4,1130.6 177,1048.6 101,1139.2 130,1132.2 156.2,1134 168,1131.1 157.5,1124.7 120.8,1125.8 109.7,1134.2 177.7,1111.2 114.2,1119.3 121.2,1149.4 129.8,1112.6 190.9,1114.1 264.9,1085.5 142.6,1136.3 167.9,1094 109.9,1134.2 124.1,1102.6 149.8,1038.8 102.5,1109.2 133.9,1139 166.6,1103.1 174.1,1119.7 131.5,1137.6 127.3,1134.6 104.8,1129.2 137.9,1131.1 108.8,1123.1 129.7,1139.3 218.7,1137.7 207.7,1098.9 137.7,1115.1 130.6,1129.6 133.7,1101.6 120.3,1114.5 205.4,1134.5 129.4,1124.1 113.3,1136 312.2,1093.4 105.9,1125 139.9,1125.2 159,1130.1 112,1141.9 137.6,1062.3 115.9,1109.4 95,1123.5 130,1133.8 127.3,1140.9 161.3,1065 126.8,1133.1 121.5,1105.7 158.9,1075.1 122.1,1141.7 152.2,1135.8 129.5,1115 148.4,1140.4 116.5,1134.4 205.1,1119.2 141.8,1100.7 249.4,1126.7 197.7,1119.1 114.6,1115.8 122.8,1136.6 135.6,1134.7 233.5,1080.6 203.3,1096.3 144.3,1145.6 101.7,1149.1 115.2,1088.7 136.7,1115.5 118,1131.9 182.8,1110.4 111.7,1128.2 145.4,1104.7 102.4,1079.9 121.2,1098.7 196.7,1117.6 117.7,1138.1 119,1137.5 181.1,1078.8 178.3,1147 207.8,1114.2 173.8,1132.1 195.4,1082.7 207.7,1039.4 144,1134.3 118.9,1135.9 139.9,1125.5 107,1122.5 188.7,1105.4 155.4,1132.7 102.8,1132.8 145.4,1113.2 197.3,1082.4 167.1,1127.2 206.1,1116.3 118.9,1124 293.5,1137.2 137.7,1128.2 226.2,1080 276.9,1065.8 116.9,1130.9 167.2,1115.9 119.2,1113.2 167.7,1123.5 146.7,1137.3 196.6,1094.5 133.6,1147.8 134,1132.4 106.7,1083.2 104.1,1124.7 127.7,1110.1 128.1,1110.3 277.9,1043.4 111.4,1124.4 211.6,1075.9 125.8,1119.6 108.7,1138.4 132.1,1117.5 108.7,1127.3 191.7,1082 132,1096.2 117.3,1094 157,1125 144.3,1122.9 170.1,1048.7 117.1,1137.1 94.8,1143.3 134.5,1129.7 159.5,1124.9 107.7,1136.7 122,1093.5 99.1,1137.3 131,1121.8 114,1140.1 105.1,1037.8 146.9,1136.2 172.5,1141.8 103.6,1113.7 132.4,1129.6 180.9,1096.5 178.9,1038.2 110.3,1134 110.5,1148.9 134.6,1115.3 167.2,1118.9 208.6,1140.3 113.3,1138.3 141.8,1142.3 98.2,1132.7 105.2,1112.6 278.8,1063.4 118,1127 129.6,1135.4 165.7,1121.1 116.3,1140.2 298,1062.1 139.8,1110.3 112.3,1106.2 329.4,1099.5 127.2,1082.1 190.8,1038.1 202.4,1083.3 254.5,1105.6 124.7,1107.1 129.7,1138.1 101.7,1114.6 116.2,1136 114.1,1137.8 110,1130.2 325.7,1093 164,1099.4 107.6,1130.1 119.4,1142.3 104.3,1077.9 220.5,1100 127.8,1108.5 130.7,1131.5 158.8,1103.2 134.7,1132.3 130.6,1103.7 261.5,1079.7 182.6,1148.7 129.6,1123.8 111.1,1095.1 138.1,1139.9 118.2,1107.7 164.2,1128.4 105.4,1126.1 148.4,1128.6 135.8,1134.7 112.2,1144.6 126.9,1129.8 101.5,1133.3 180,1121.1 141.6,1085.6 145.5,1123 240,1039.3 150,1103 170.6,1133.4 171.3,1120.1 158.3,1119.2 146.9,1128.3 174.1,1097.7 133.7,1112.7 223.6,1114.6 99.1,1125.9 122.6,1143.1 126,1129.6 168,1071.2 112.9,1107.6 171,1073.2 113.5,1091.3 215.2,1102.1 167.7,1115 107.4,1127.8 113.5,1098.7 169.8,1074 137,1120.9 94.2,1132.7 230.4,1049.4 179.2,1087.5 139.3,1114.9 143.7,1127.1 174.9,1115.6 116.7,1124.1 156.2,1113 124.4,1122.7 121.3,1104.2 153.8,1115.3 233.9,1115.6 156.4,1121.6 138.3,1109.3 117.4,1114.5 99.3,1121.7 107.3,1120.5 160.2,1122.9 162.7,1086.4 98,1140.9 142.8,1144.7 119.8,1110.7 101.8,1116.8 294.2,1094.5 137.3,1125.8 134.6,1105.3 110.7,1112.4 118,1133 178.8,1116.7 132.4,1112.9 133.9,1084.7 150,1038.3 165.6,1119.9 129.9,1119.1 150.3,1129.8 120.2,1128.8 123.9,1151.3 234,1145 103.6,1110.4 117.5,1125.1 236.8,1117.9 156.7,1079.2 142.3,1125.1 122.1,1130.4 148.8,1126.8 158.2,1129.4 138.1,1080.7 139.3,1127.3 127.3,1034.8 104.7,1120 118.8,1102.6 99.4,1131.3 177.2,1133.1 174.9,1077.2 323.9,1101.1 116,1105 177.5,1104.4 332,1070.9 145.1,1131.7 139.6,1137.5 129.3,1114.4 119.3,1134.7 106.9,1150.3 185.2,1135.6 99.3,1115.9 121.8,1120.6 115.7,1139.3 159.5,1129.2 113.6,1070.2 130.1,1138.6 124.5,1135.3 105.7,1130.3 180.2,1093.4 141.9,1128.4 229.3,1123.9 102.6,1132.8 154.5,1133.2 163.7,1132.6 180.7,1111.1 122.4,1124.7 123.7,1117.2 124.5,1126.7 104.3,1113.4 194.9,1106.5 136.5,1137.8 148.2,1148.7 229,1089.1 164.2,1114.3 95.7,1111.9 205.4,1137 144.2,1103.8 125,1135.4 120.2,1121 126,1102.1 119.5,1123.7 132.6,1110.1 114.5,1123.5 116.7,1139.5 109.4,1124.2 97,1136.6 122.3,1119.3 143.8,1142.3 108.5,1116.2 152.6,1104.8 157.9,1112.5 121,1132.3 117.2,1112.9 162.4,1097.5 155.4,1097.8 98.2,1125.3 120.7,1131.3 122.8,1123.1 112,1110.5 145.8,1121 138.2,1115.4 197.1,1095.4 188,1105.9 200.2,1106.5 163.3,1121.9 261.8,1116.7 146.2,1106.4 131,1093.8 145,1145.2 240.5,1106.9 215.6,1084.7 140.6,1112.8 239.6,1119.5 121.1,1141.4 157.7,1113.5 117.3,1114.3 152.6,1110.7 157.7,1130.5 155.1,1101.2 132.7,1125.4 117.8,1134.1 120.5,1106.5 157.7,1116.2 133.4,1117.5 131,1113.9 160.5,1131.1 147.5,1124.4 169.6,1108.1 118,1129.1 121.3,1125.2 148.5,1133.3 166.6,1125.5 274.8,1046.3 143.4,1140.5 174.7,1143.4 116.7,1115.5 118.2,1117.8 141.1,1125.8 180.2,1105.3 102,1134.6 113.9,1127 189.5,1075.9 166.5,1086 97.2,1082.6 149.3,1088.5 154.7,1099.5 160.1,1112.1 105.6,1111.1 110.8,1122.7 146.3,1117.4 136.4,1093.5 158.8,1123.3 153.9,1125.4 148.2,1099.7 140.5,1123.2 126.4,1130 127.5,1115 127,1135 233.8,1122.3 126.7,1047.7 114.4,1113.5 192.7,1111.9 108.4,1127.6 115,1127.2 120.2,1134 130.7,1135.4 159.9,1134.1 116.5,1117.6 109.3,1101.4 219.3,1018.9 209.7,1114.4 169.9,1069.9 118.6,1122.4 100,1111.9 117.2,1071.1 245.4,1098.7 111.3,1124.7 217.9,1103.4 153.2,1121 105.2,1126.4 187.6,1066.9 159.3,1055.2 154.7,1121.6 113.4,1124.3 196.4,1117 98.7,1131.1 131.2,1057.1 101.2,1134.2 186,1083 175.9,1110.7 105.4,1148 140.9,1103.3 125.9,1147.5 141.3,1144.8 158.9,1036.8 207.2,1084.1 155.4,1120.8 126.4,1099.5 114.7,1117.2 165.6,1131.7 139.9,1130.5 134.8,1092.9 143.3,1125.4 95,1099.2 127,1133.8 138.6,1107.7 112.6,1143.4 101.7,1114.1 138.7,1113.9 157.3,1086.2 150.3,1141.9 132.5,1138.5 111.4,1133.6 133.7,1111.5 171.1,1055.5 117.6,1101.3 124,1141 156.5,1124.6 123.3,1097 158.2,1091.3 141.6,1141.9 195.9,1086.6 124.7,1107.1 274.7,1030.9 195.2,1104.9 107.6,1120.2 169.3,1087.6 169.9,1100.9 115.7,1096.8 138.8,1105.6 118.4,1128.1 247.1,1066.8 111.6,1107.8 113.1,1130.7 141.7,1127.2 133.5,1112.7 137.3,1104.3 121.3,1138.9 189.8,1088.4 124,1062.8 126.1,1148.5 103.6,1123.2 150,1109.9 253.3,1092.1 118.5,1130.2 155.3,1124.9 126.6,1130 174.9,1130.2 108.8,1114.5 138.6,1126.6 168.3,1068.8 120.2,1144.4 164.1,1118.7 128.5,1138.2 112.6,1133.4 186,1067.3 129.6,1135.5 117.5,1094.1 116.8,1078.1 143.1,1135 136.8,1119.4 153.6,1090.3 299.8,1100.9 110.2,1149.9 131.5,1121.8 161.9,1127.1 140.9,1122.2 240.7,1107.7 131.5,1129.4 97.4,1141.1 146,1113.8 119.8,1107.6 144.1,1111.6 137.6,1109.1 106.1,1140.8 121.8,1070.6 106.7,1095.5 126.6,1086.5 173.9,1109.2 233.2,1113.6 291.8,1044.2 132.6,1134.4 139.6,1115.8 142.5,1121.8 141.8,1121.7 131.6,1146.2 137.6,1094.4 130.9,1145.7 136.9,1120.6 125.1,1123.9 146.1,1143.7 173.7,1094.7 154.8,1112.9 151.5,1059.5 122.8,1132.7 175.9,1145.3 109.2,1130.6 187,1079.1 106.5,1134.8 127.3,1079.6 144.9,1137.3 118.4,1133.6 145,1115.6 125.2,1128.6 125.3,1119.3 112.5,1116.3 117.7,1133.7 149.9,1114 137.1,1098.7 119,1121.4 108.1,1113.4 190.1,1114.6 129,1139.4 139,1135.5 107.2,1134.5 116.8,1115 177.3,1128.2 112.3,1137.2 114.2,1132.7 185.8,1097 131.8,1129.4 124.5,1105.1 215.2,1065.9 112.2,1120.5 117.8,1139 102.6,1099.5 128.2,1120.3 143,1098.6 139.4,1107.3 221.4,1101.1 115,1137 190.9,1112.1 122.2,1108.4 130.1,1111.5 122.3,1140.4 188.3,1100.3 167.8,1143.2 241.5,1101.4 112,1108.4 164.4,1104.7 146.7,1120.1 120.1,1152.4 218.3,1092 197.4,1116.2 111.7,1129 105.6,1143.2 133.4,1134.3 100.5,1135.2 114.4,1149.9 171,1086.5 147.7,1105.7 285.4,1122.7 262.2,1111.6 129.2,1122.9 111.5,1129.8 120.6,1140.4 96.1,1133.6 283.6,1104.9 152.7,1136.6 161.3,1093 121.7,1119.3 145.1,1134.8 217.4,1101.8 103.5,1128.4 193.3,1039.4 109.6,1109.2 155.9,1069.8 115.4,1129.9 202.5,1080.4 175.6,1128 99.9,1141.6 156.9,1038.2 173.8,1138.5 188,1057.3 163,1133.3 145.7,1129 174.2,1040.3 141.9,1144.9 129.7,1126.5 117.7,1114.8 104,1138.1 134.3,1135.6 176.4,1129.1 173.7,1023.6 127.7,1143.5 98.7,1142.5 107.9,1134.1 142.1,1141.4 252,1056.6 148.7,1141.2 157.4,1126.6 141.4,1123.2 155.1,1140.1 105.3,1126.2 203.5,1134.8 102.1,1138.3 125.5,1111.5 167.8,1089.2 116.1,1139.7 106.3,1143.1 117.1,1028.1 174.7,1140.3 153.8,1088.6 175.5,1100.9 191.2,1086.8 108.9,1096.8 160.4,1128.3 126.6,1112.6 124.1,1131.7 147.3,1069.3 237.8,1065.9 141.5,1111.9 133.8,1118.7 143.9,1136.6 120.5,1130.6 142.6,1131.7 184.5,1099.1 98.8,1139.9 227.5,1110.7 150.5,1139.9 113.4,1140.5 147.9,1118.3 114,1137.2 153.2,1084.4 153.2,1131.9 126,1144.7 114.6,1126.5 126.5,1097.3 96.3,1114.3 113.9,1138.3 138.8,1141.3 158.7,1123 149.8,1124.4 151.5,1137.7 146.4,1152.3 160.6,1091.1 102.6,1124.3 144.9,1139.9 126.5,1130.3 161.9,1135.5 120.8,1138.9 132.1,1119.3 134.5,1143.4 123.1,1133.3 201.9,1092.7 159.7,1086.1 183,1022.7 126.1,1121.1 143.4,1106.5 206.4,1094.1 109.5,1136.9 113.7,1151.1 218.5,1131.3 183,1134.4 107.6,1133.4 97.4,1106.3 142.7,1110.4 166.5,1121.2 130.4,1057.3 138.2,1082.6 122.1,1118.6 110.2,1093.4 251.2,1097.5 138.7,1137.7 158,1100.5 153.7,1057.5 181.7,1086.8 96.1,1121.5 124.2,1126.7 134.3,1136.5 140.3,1111.5 128.4,1112.3 114.5,1133.7 136.2,1103.1 123.7,1075.4 131,1143.1 105.7,1125.4 147.5,1137.6 119.6,1132 136.5,1126.1 120.1,1112.1 143.2,1101.3 138.8,1115.1 117.6,1135.4 144.2,1108.8 151.8,1121.6 109.9,1119.7 135.3,1122.5 112.1,1125.9 197.9,1130 103.5,1124.8 215.5,1107.4 114.3,1125.1 110.4,1138.2 134.8,1023.6 159.3,1079.8 133.1,1056.5 170.7,1128.6 112.9,1122.4 302.4,1072.8 212.1,1125.4 162.9,1093.7 165.9,1124 155.7,1042.2 136.8,1126.2 166.1,1097.7 102.9,1142.1 96.7,1134.3 295.5,1092.1 121.7,1070.6 262.1,1032.2 119.6,1121.3 240.2,1101.1 134,1117.8 172.5,1109.3 261.4,1105.5 153.4,1112.7 127,1147.7 150.1,1128.6 119.7,1132.9 196.8,1116.1 128.2,1092.3 150.2,1135.5 131.2,1120.5 114.5,1131.7 102.9,1140.1 113.9,1135.5 124.5,1140.4 106.1,1126.8 132.7,1112.1 206.8,1129 145.9,1116 153.8,1110.7 148.1,1151.9 238.7,1091.1 202.2,1114.9 147.3,1132.2 112.6,1140.4 114.6,1147.4 104,1141.7 148.4,1146.9 187.3,1089 184.2,1140.1 119,1114.9 195.5,1123.8 156.9,1113.1 132.1,1141 138,1128.4 175.7,1102.1 155.8,1119.9 158.6,1103.7 139.9,1138.5 179.9,1138.2 106.5,1142.8 122.7,1095 195.9,1061.1 120,1131.3 164.3,1130.2 198.2,1119.8 152.2,1060.1 176.5,1109.5 158.5,1118.4 113.7,1139.2 132.2,1112 201.1,1074.3 208.5,1121.3 120,1126.3 114.1,1111.6 167.7,1109.2 155.6,1123.1 131.3,1122.8 206.9,1088 102.5,1133.1 122.7,1131.9 228.1,1078.8 170.1,1118.9 132.1,1143.8 235.1,1116 100.5,1132 121.2,1136.2 109,1141.5 123.4,1104.6 130.9,1139.8 249.2,1022.2 207.1,1125.3 106.2,1136 124.3,1141.2 135.2,1121.4 180.8,1137 161.6,1103.2 158.2,1125.4 162.2,1098.1 136.1,1136.5 125.8,1139.9 152.8,1128.2 106.1,1094.4 118.5,1122.3 248.8,1089.5 97.1,1116.1 112.5,1143 146.3,1133.3 134.2,1097.9 182.6,1127.4 114.4,1124.7 145,1121.4 230.8,1021.2 134.4,1120.9 183.6,1126 151.6,1131.1 136.8,1143.8 121.6,1137.8 146.6,1143.9 121.5,1128.5 132.1,1114.8 107.6,1085.8 130.9,1120.6 130.1,1089.3 122.1,1138.7 251.1,1110.1 122.4,1126 141.9,1136.9 227.8,1057.9 134.3,1097.3 155.7,1131.4 98.1,1137.6 98.9,1135.2 113.3,1141.9 116,1092.6 146.2,1113.8 142.1,1069.9 127.4,1135.1 140.1,1131.1 127.3,1127.4 121.1,1117.4 155.9,1080.7 114.7,1091.6 199.1,1109.4 204.9,1031.4 134.1,1129.2 162.3,1136.6 152.1,1136 120.3,1133.2 160.1,1143.7 103.4,1134 123.4,1133.4 108.9,1104.8 116.3,1119.5 199.1,1109.7 182.6,1143.5 133.6,1136.1 101.3,1135.8 116.8,1114 128.7,1143 117.6,1129.8 223.2,1121.1 170.6,1076.2 123.4,1136.9 157.8,1133.9 248.4,1088.8 206.9,1113.5 124.8,1134.1 249.2,1093.2 115.2,1140.1 96.8,1143.4 154.6,1041 169.1,1117.5 124.2,1130.8 116.5,1092.2 142.4,1111.5 158.4,1085 168.1,1122 260.9,1099.7 132,1110.1 131.1,1106.9 118.5,1131.1 113,1081.4 144.3,1136.5 143,1126.7 134.6,1125.8 110.4,1137.7 180.4,1124 110.9,1143.9 130.8,1097.7 124.1,1122.3 275.6,1088.8 112,1111.1 135.6,1061.6 111.5,1136.9 149.7,1125.4 185.9,1090.2 223.2,1112.9 144.5,1109.3 118,1146.5 111.4,1136.7 289.2,1043.2 136.4,1149.3 130.6,1115.9 217.4,1135.9 129.5,1098.8 99.8,1104.3 203.5,1052.9 143.5,1137.2 110.3,1127.2 138.7,1132.3 128.9,1110.5 111.3,1137.2 126.9,1114.3 156.8,1133.9 140.8,1114.2 115,1137.6 145.3,1137.5 267.9,1102.6 123.8,1131.2 179.3,1121.1 128.8,1134.2 119.6,1108.7 167.5,1137.5 144.3,1080.6 128.2,1121.2 109.3,1137.2 155.7,1122.3 192.9,1088.1 159,1119.7 176.5,1099.9 151.4,1112.9 196.1,1023.2 107.7,1103.3 188.4,1113.2 136.4,1112.7 114.8,1124.6 182.7,1102.8 180.4,1133.4 135.1,1098.2 129,1133.5 302.9,1077.3 121.5,1073 120.7,1102 156.9,1128.6 161.7,1135.3 221.8,1107.6 187.9,1130.5 142.8,1118.8 108.7,1133.3 157,1117.8 172.7,1121.6 206.7,1030.9 120.9,1136.6 171.2,1114.4 106.2,1135.1 151.6,1095.8 111.4,1147.5 213,1085.1 100.2,1119.8 142,1130.3 141.9,1124 131.1,1121.5 147.1,1144.3 128.9,1132 109.8,1142.1 123.1,1115.9 121.7,1143.5 117.4,1129 161.7,1144 156.2,1125.4 146.7,1101.9 119.8,1118.8 155.1,1049.6 137.5,1146.5 127.2,1147.3 118.8,1053.6 110.4,1122.4 137.4,1146.2 96.3,1120.3 195.5,1086.9 158,1099.4 184.4,1096.8 112,1110.6 114.2,1115.6 156.5,1104.5 176.8,1085 158.5,1112.9 161.1,1119.9 139.6,1121.2 129.2,1130.4 172.4,1103.5 99.9,1122.4 136.1,1131.1 231.6,1105.6 155.7,1073 107,1068.5 224.2,1093.7 112.8,1136.6 132.9,1094.1 143.8,1137.4 133,1083 229.9,1057.2 144.6,1126.6 178.4,1121.5 102.8,1140.1 125.9,1120.6 189.3,1138.1 133.7,1138.9 154.5,1117.8 130.4,1132.1 128.4,1127.3 118.9,1132.2 156.2,1126.5 94.8,1130.8 124.3,1142.2 242.7,1070.8 143.1,1135.9 116.4,1108.5 133.9,1127 291.6,1030.7 149.5,1093.4 133.5,1126 161.2,1134 120.1,1114.7 197,1132.3 114,1128 113.7,1142.3 131.5,1128.3 146.5,1123.6 95.2,1139.4 102.4,1127.6 101,1123.6 103,1129.1 206,1106.2 154.9,1090.4 163.6,1087.3 244.8,1119.3 127.4,1136.4 106,1141.8 181.1,1106.6 164.4,1114.8 183.6,1105 192.1,1134.1 153.4,1147.3 215.6,1102.5 135.3,1145.6 157.5,1121.4 118,1143.4 113,1126 115.5,1118.6 106.9,1142.1 155.3,1086.2 123.5,1128.7 153.9,1129.7 119.9,1139.2 144.3,1139.2 93.3,1136.8 107.4,1115.1 109.8,1133.7 130.4,1140.9 163.1,1140.4 143,1119.2 141.3,1127.7 118.5,1119.1 184.9,1092 143.1,1103.1 147.4,1116.5 299.6,1123.1 125.1,1108.5 153.6,1113.2 209.1,1086.1 177.6,1131 113.1,1121.7 196.7,1068.2 136.4,1119.9 129.5,1150 127.7,1142.2 110.6,1089.3 131.1,1122 117,1107.2 107.7,1132.4 216.7,1117.5 159,1072.2 167.5,1090 130.2,1128 212.3,1129.9 122.1,1090.6 167.2,1127.3 102.3,1128.3 121.6,1118.9 336.9,1017.1 108.4,1121.9 137,1085.2 156.1,1112.6 131,1102.5 139.3,1077.7 100.5,1134.1 99.8,1133.5 100.3,1126.9 123.4,1111.6 145.9,1120.8 329.3,1101.6 119.5,1147.4 102.1,1150.6 166.4,1114.7 135.7,1086.6 108.8,1118.8 99.6,1126.5 157.2,1108 181.9,1045.8 238.9,1057.5 125.3,1118.3 112,1151.1 220.1,1068.6 134.3,1096.8 143.9,1123.2 143.6,1139.1 165.7,1105.5 115.1,1134.7 103.6,1133.7 136.3,1126.5 189,1108.4 131.5,1135.9 155.6,1106.8 107.3,1109.9 131.1,1121.3 120.4,1138.2 132.4,1133.7 119.9,1134.5 163.2,1123.6 224.5,1089.9 110.3,1134.2 108.6,1128.3 255.1,1102 179.4,1130.1 124.8,1115.3 140.5,1093.6 120.7,1120.4 179.7,1107.3 118.3,1121.7 125.2,1060.5 124.4,1140 106.6,1138.7 160.5,1136.5 109.4,1140.4 130.4,1135.8 155.3,1116.8 117.8,1122.1 226.3,1137.4 126.2,1124.6 139.6,1138.1 103,1139.1 144.5,1136.1 158,1123.8 113.4,1112.6 103.2,1152.4 156.7,1107.9 117.2,1110 222.1,1105.9 164.3,1091.3 116.8,1081.2 147.8,1128.6 166.6,1102 126,1130.6 112.9,1134.1 118,1125.6 148.4,1120.8 158.5,1131.9 134,1133.8 145.3,1069.2 113,1094.7 184.1,1123.9 110.8,1116.1 140,1124.2 122.7,1132.4 126,1120.4 166.6,1077.5 207.9,1093.7 141.7,1146.1 108.6,1111.4 126.2,1063 165.6,1108.8 193.9,1132.1 105.8,1127.5 120.8,1078.6 151.3,1118 153.5,1119.2 183.6,1109.3 184.8,1096.5 98,1151.7 211,1112.3 98.9,1140.1 136.7,1113.5 160.6,1122.4 108.7,1137.4 176.9,1118.3 197.8,1137.5 132.8,1131.4 185.4,1117.8 202.4,1111 156.3,1068.2 249.4,1109.4 181.6,1110.1 231.5,1137 97.2,1121.5 111.4,1102.7 168.5,1128.8 188.3,1111.5 166,1053.8 138.9,1117 147.5,1125.7 178,1124.5 130.1,1083.3 178.6,1111 247.1,1108.2 314,1066.4 108.2,1072.4 117.2,1136.9 127.3,1148.7 208.1,1047.6 140.3,1093.4 133.8,1105 95.5,1147.9 113.5,1148.5 102.5,1111.4 118.9,1143.5 185.7,1098.3 116.3,1138.3 168.3,1085.9 114.7,1136.7 145.2,1133.6 103.8,1111.3 186.4,1083.2 133,1126.7 108.4,1108.2 138,1138.5 139.4,1106.3 161.4,1035.2 125.9,1113.5 119.9,1133.8 108.9,1138.3 188.6,1115.6 158.3,1131.2 210.2,1096.9 118.8,1129.9 145.7,1126.1 138.5,1115.5 114,1138.7 164.1,1112 148.5,1118.1 179.4,1143.3 152.7,1079 234.7,1111.2 207.5,1112.4 117,1109.4 100.9,1115.6 142,1142.3 158.6,1073.5 192.4,1118.8 113.5,1116.9 140.6,1103 114.7,1137.6 192,1093.5 213,1094.3 106.2,1098 207.3,1146.9 112.6,1130.8 201.6,1130.2 132.3,1083.2 132.6,1136.3 102.7,1143.2 174.1,1125 126.1,1121.9 113.7,1122.6 134.3,1112.3 149.7,1126.6 110.5,1129.6 132.8,1134.6 113.7,1135.9 118.6,1139.1 162.7,1140.2 129.6,1060.2 125,1124.6 143.2,1126 114,1132.4 125.8,1131.5 128.3,1088.3 135.2,1070.4 209.3,1114.8 120.5,1131.4 127.4,1082.2 186.7,1141 161.1,1123 166.7,1086.2 107.4,1137.4 147.6,1087 126.8,1146.3 155.3,1100.4 185.9,1048.8 104.6,1141.7 287.1,1047.9 117.5,1094.8 110.3,1135.4 117.9,1128.2 144.8,1129.2 137.7,1136.2 112.2,1131.5 146.8,1081.5 116.9,1128.7 150.6,1069.6 136.3,1153.3 122.4,1127.6 122.3,1152.1 173.7,1130.6 138,1118.3 103.8,1106.4 115.6,1135.1 98.6,1135.9 109.4,1134.1 122.7,1141.2 240.8,1123 113.8,1136.4 164.6,1113.7 169,1094.7 129.9,1075.2 123.2,1106.6 117.8,1127.7 160.7,1101.3 121.2,1094.9 245.2,1137 217.5,1102.7 126.8,1108.5 111.3,1144.5 95.8,1085 199,1087.1 141.8,1116.1 126,1120.8 138.6,1131.5 113.8,1124.9 122.1,1131.9 134.1,1129.2 128.4,1128.8 113,1102.2 109.3,1140.4 134.2,1101 177.4,1057.1 106.8,1130.9 190.5,1121.3 159.3,1107.2 109.9,1141.8 103.6,1145.6 222.8,1035.5 113.7,1140.3 165.9,1120.6 145.2,1132.6 121.6,1127.7 120.9,1105.3 144.1,1128 119.2,1134.7 143.3,1113.5 116.6,1135.6 108.2,1123.2 202.1,1043.4 105.7,1122.5 136.5,1105.2 122.6,1113.8 157.9,1144.9 139.8,1138.1 212.6,1066 134.1,1140.1 105.5,1135.4 121.5,1110.3 127.4,1088.7 127.9,1117.5 128.4,1128 96.7,1127 122,1145.6 110.2,1125.1 114.1,1137.4 128.2,1125.8 117.1,1148.2 180.1,1139.7 171.4,1119.4 161.8,1100.9 184.3,1092.5 193.2,1133.9 112.9,1137.9 125.4,1120.8 151.2,1091.2 130.3,1116.6 185.4,1097.3 148,1116.3 156.9,1122.3 119.5,1142.3 103.9,1147.6 104.3,1129.2 222.1,1125.1 115.8,1125.1 127.2,1132.7 112.9,1115.3 121.5,1117.2 150.2,1113.5 112.1,1135.2 109.2,1133.9 232.5,1135 114.8,1144.4 149.7,1097.9 142.9,1149.1 123.9,1093.7 265.7,1105.3 283.8,1081.2 107.1,1103.2 107.3,1148.9 140,1139.1 128.8,1136.2 107.7,1130.2 107.9,1108.6 107.8,1085.2 143.2,1125.9 149.2,1060.8 188.9,1129.3 96.3,1120.9 141.9,1138.2 109.1,1142.8 130,1094.4 127.6,1117.6 138.8,1118.3 138.9,1117.8 106,1146.1 147.1,1107.5 112.8,1065.1 103.8,1133.3 135.7,1110.7 185.7,1105.4 197.5,1094.6 244.4,1071.2 161.5,1143 197.4,1085.3 141.8,1105.1 129.3,1142.7 160.5,1120.1 137.1,1098.6 108.3,1100.7 186,1117.4 151.7,1033.9 234.3,1081.8 136.4,1122.8 103.9,1121.4 154.8,1094.9 201.2,1123.5 128,1106.3 151.2,1105.2 138.3,1108.2 148.4,1125.7 117.7,1134.3 168.3,1114.4 269.6,1082.3 104.2,1142.6 144.9,1146.5 176.1,1110.7 203,1114.8 133.3,1079.8 211,1056.5 294,1063.2 119.8,1104.7 122.9,1134.9 146.8,1132.5 184.7,1147.7 149.3,1120 128,1108.5 181,1069.1 115.7,1146.8 127.3,1135 108.3,1133.3 144.6,1122.2 163.8,1142.5 127.7,1130.9 110.1,1134.6 105.2,1112.5 124.1,1139.1 169.4,1037.5 130.1,1138.7 127.7,1078.8 146,1133.3 117.4,1110.9 97.5,1138.7 122.7,1137.2 156.3,1076.1 165.9,1123.1 135.1,1101.5 264.4,1108.4 114.8,1140 180.1,1112.9 141.3,1084 108.7,1139.6 132.4,1122.7 132.3,1100 129.6,1140.1 156.2,1126.2 108.8,1111.3 152.5,1074.8 137.3,1130.2 109.1,1024.8 140.2,1142.4 142.5,1118.3 164.7,1052 267.6,1034.9 203.6,1087.6 132.8,1094.6 156.3,1127.5 121.4,1100.1 125.4,1140.1 173.3,1128.7 108,1099.1 120.1,1107.5 147.1,1128.8 195,1131.6 105.8,1130.6 127.8,1138.2 133.1,1087.6 104.2,1138.8 139.4,1115.4 177.8,1098.3 167.1,1121.7 130.9,1127.1 138.8,1081.1 161.4,1142.8 117.5,1132.2 315.9,1102.8 127.4,1125.1 111.1,1141.8 168.8,1124.4 144.1,1131.6 120.8,1119.2 129.7,1113.9 136.5,1134 126.7,1137.4 142.2,1141.2 133.2,1126.7 119.4,1140.2 107.7,1139.7 119.9,1115.7 174.3,1115.2 222.9,1077.7 120.2,1121.7 139.6,1112.7 142.4,1089 120.1,1101.8 150.5,1033.2 110.5,1131.4 115.8,1131.4 163.8,1139.1 124.2,1102.5 136.9,1073.2 142.7,1120.9 104.5,1132.7 152.3,1136.7 106.4,1130.8 109.8,1147.9 150.5,1090 147.7,1137.7 108.9,1119.2 132.6,1083.8 134.5,1142.7 124,1129.1 285.3,1115.8 140.9,1130.1 134,1100.4 120.4,1106.9 144.3,1110.6 131.7,1110.9 115.4,1134.5 184.4,1111.4 120.7,1110.3 151.1,1092.2 118.1,1128.4 142.8,1113.6 126.3,1142.5 206.1,1127.4 155.2,1048.1 127,1129.3 131,1126.6 108,1135.6 122.8,1125.9 136,1131.6 153.1,1097.9 140.9,1089.2 97.9,1140.6 129.2,1136.2 147.2,1125.3 129,1123.4 144.3,1124.6 111.5,1148 140,1116.2 135.6,1114.9 108.9,1127.9 287.1,1112.9 106.5,1129.6 164.7,1117.9 98.7,1138.9 101.2,1128.6 210.9,1084.3 111.9,1130.1 222.2,1076.3 204.8,1127.7 124.9,1125.8 227.7,1121.2 153.4,1087.2 209.2,1096.8 145.7,1107.9 168.3,1115.2 127.7,1124.1 117.8,1121.9 117.8,1132.3 113.6,1147.7 107.5,1143.2 104.6,1127.2 120.5,1117.8 152.1,1119.8 149.9,1140.5 105.1,1131.9 281.8,1099.1 109.8,1121.8 119.5,1145.2 124.3,1139.5 147,1107.6 195.7,1107 243.2,1117.8 109.2,1108.6 129.6,1123.5 99.1,1099.7 153.5,1066.6 125.4,1136.2 151.5,1129.1 107.3,1133.6 129.7,1047.1 138.8,1108.6 149.5,1134.3 182.9,1082.7 168.8,1100.7 104.3,1133.9 118.5,1122.4 106.8,1144.9 140.9,1121.1 126.2,1125.1 147.2,1111.7 208.4,1117.5 135.7,1119.4 192.7,1107.3 111.7,1147.7 126.3,1146.1 119.2,1102.8 116,1138.5 133.9,1133.2 116.4,1120.2 122,1090.3 238.9,1098.9 164.7,1062.1 144.4,1115.9 134.6,1147.8 97.4,1148.4 120.7,1124.3 116.2,1099.8 106.8,1135.5 250,1084.9 113.9,1141.8 141.3,1132.9 107.8,1107.7 149.1,1124.5 130,1132.6 120.9,1113.4 171.9,1120.9 129.7,1114.8 171.2,1130.8 127.4,1115.2 139.2,1123.7 169.6,1139.4 124.4,1109.9 175.8,1092.2 177.7,1109.8 134.3,1133.7 157.8,1070.8 106.3,1137.6 143.3,1109.2 104.8,1124.2 165.3,1105.3 206.1,1114.1 116.6,1138.3 162.8,1064.4 132.8,1134 148.4,1144.3 173.1,1132.9 138,1120.5 123.8,1134.9 110.8,1120 144.9,1095.3 105.3,1145.4 149.9,1138.8 150.7,1117.9 182,1105.3 119.4,1146.6 121.9,1131.6 247.1,1142.1 170.5,1106.9 166.4,1068.5 129.8,1120.7 223.2,1079.5 245.3,1062.1 153.7,1062.5 107.2,1104.7 116.3,1113 164.5,1079.8 103.8,1142.2 129.6,1109.9 114.3,1142.9 143.5,1104 161.1,1118.6 161.6,1109.4 100.9,1121 101.3,1126.1 161.6,1126.3 124.8,1026 167.6,1099.7 235.2,1073 140.4,1122.3 115,1135.1 119.7,1138.5 204.2,1116.6 131.2,1119 148.9,1101.4 220.7,1113 157.9,1080.3 120.6,1094.4 96.3,1148 201.4,1139.8 131.4,1122 126.6,1111.7 109.4,1123.6 107,1137.1 102.9,1097.4 167,1131.4 129.6,1127.1 105.7,1135.9 151,1121.7 107.3,1125.8 117.8,1124.6 118.3,1120.2 130.8,1103.4 106.1,1140.6 150.3,1126.3 260.5,1064.2 137.1,1120.3 116.7,1119.3 239.8,1101.4 194.4,1128.6 125,1120.1 118.9,1138.8 121.3,1107.2 210.8,1097.9 105.5,1129.9 151.2,1126.8 214.2,1071.2 150.4,1137.3 114.9,1111.3 97.3,1095.2 137.5,1102 114.2,1138 136.4,1128.8 117.1,1107.1 172.8,1086.7 108.9,1131 100.3,1105.6 132.6,1035.3 126.8,1125.5 100.7,1121.8 158.2,1104 163.3,1091.5 144.3,1104.9 122.2,1130.6 170.3,1139.1 181.4,1124.6 236.4,1123.9 145.8,1128.3 127.2,1119.5 196.5,1084.5 120.9,1137.5 204.1,1137.9 210.3,1133.4 153.6,1119.5 154.2,1118.8 106.9,1141.1 169.7,1124.5 195.9,1091.4 114.5,1115.9 171,1147 103.5,1121.7 109.4,1138.7 120.5,1123.2 112.9,1141.7 103.3,1140 128.8,1132.9 217.4,1120.4 158.1,1115.7 133.9,1130.8 137.1,1121.8 139.1,1086.9 117.7,1116.8 190.6,1102.1 258.4,1057.5 161.7,1126.7 138.1,1090.6 109.1,1124.2 106.3,1133 155.2,1095.1 171.3,1131.2 160.5,1123.5 157,1115 136,1123 142,1121.4 125.3,1114.3 166.7,1090.8 208.2,1027.1 134.2,1112.1 127.4,1110.6 132.6,1108.3 110,1148.1 161.3,1131 109.1,1113.8 252.5,1060.3 141.4,1125 118.3,1115.1 111.3,1136.1 126,1139.6 183.3,1100.8 203.1,1104.7 128.4,1106.5 109.5,1055.3 172.9,1127.3 239.1,1070.7 137.1,1134.3 146.4,1125.1 145,1115.1 127.4,1103.5 130.7,1128.9 115.4,1141.7 136.6,1152.9 130.4,1091.7 271.6,1093.3 121,1098.1 113.2,1136.8 154.9,1134.4 145.8,1137.9 103.1,1103 150.2,1138.4 147.5,1106 107.1,1109.5 118.7,1144.6 128.3,1063 139,1117 189.6,1107.8 246.9,1082.8 102.3,1106.8 113.1,1132.5 209.8,1073.4 314.2,1052.4 160.6,1110 239.3,1111.5 153.4,1074.6 134.4,1112.5 145.6,1133.8 201.2,1105.7 129.6,1132.4 132.2,1109.1 121,1114.9 121.2,1144.4 139.7,1108.6 139.4,1089.9 132.2,1109.5 131.4,1122.6 98.7,1115.2 331.5,1117.9 130.2,1129.7 151.2,1128 110.7,1145.6 155.3,1105.2 125.5,1121 151.9,1112.3 119.1,1107.4 120.2,1134.7 156.9,1119.8 194.2,1129.3 179.9,1136.4 103.4,1111.2 129.5,1121.9 173.5,1122.6 156.2,1128.8 111.4,1138.8 160.9,1141.1 105.8,1113.5 104.1,1127.2 148.6,1071.5 113.9,1129.2 126.8,1125.9 119.4,1131.5 263.4,1116.3 220.3,1109.2 127.4,1132.5 153.5,1121.4 150.7,1113.9 153.2,1126.3 125.1,1082.9 112.6,1131.7 203.6,1080.1 159.9,1067.1 128.6,1130.6 127.5,1073.5 115.7,1114.9 107.3,1141.4 116.7,1132.1 134.5,1147.4 147.1,1133 120.4,1119.7 113.6,1135.6 240.8,1098.2 167.3,1122 157.3,1120.3 307.6,1074.2 170.6,1125.6 129.2,1126.9 138,1106.7 148.4,1053.7 185.4,1122.9 111.7,1128.6 123.2,1130 108.9,1133.3 137,1108 175.2,1100.4 146.1,1085.5 135.4,1093.5 169.6,1132.1 164.5,1138.5 122.2,1120.2 118.8,1103.8 178.7,1082.7 117.9,1126.9 110.7,1132.8 250.3,1086.8 109.9,1131.5 125.6,1119.3 162.7,1104.1 134,1123.6 107.4,1141.9 102.4,1125.7 154,1123.5 103.5,1126 124.4,1136.2 120,1142.4 156.5,1123.9 137.6,1127.9 197,1075.9 112.2,1118.8 151.9,1113.4 110.3,1122.9 170.1,1082.3 163.8,1127.6 135.1,1074.3 123.6,1102.8 115.4,1127.9 167.3,1141 188.9,1065.5 181.1,1110.2 264.3,1067.3 203,1095.2 153.4,1107.5 106.2,1135.3 242.7,1071.9 171,1111.3 126.3,1129.3 121.1,1110.9 220.9,1078.9 145.7,1127.7 255.5,1101.5 173,1089.1 153.9,1149.1 303.9,1056 166.1,1105.7 128.6,1140 180.1,1115.2 139.7,1071.6 117.9,1121.6 106.4,1138.8 114.1,1133.7 110.5,1133.1 201.6,1116.6 131.7,1132.4 113.5,1129.2 109.3,1137.2 137.9,1087.9 170.6,1063.7 113.6,1125.5 121.6,1130.2 166.7,1131 117.4,1137.5 171.6,1131.2 131.2,1131.7 110.8,1092.1 139.4,1121.6 170.4,1063 271.8,1074 143.3,1112.6 165.2,1148.7 137.5,1130.2 160.3,1119 100.5,1124.2 215.3,1112.4 113.2,1132.1 171.8,1130.6 154.5,1120.4 200.9,1124.2 185.4,1077.8 136.7,1131.6 101,1144.6 102.7,1133.7 108.3,1096.6 127.1,1127.2 140.6,1126.6 280.8,1052.2 114.9,1126.5 191.3,1093.1 100.8,1114.4 119.3,1123.6 110.4,1142.3 152.4,1102.5 196,1080.9 256.8,1026.2 146.9,1128.3 216,1128.4 128.6,1117.6 131.9,1120 151.4,1108.8 183.4,1134.4 201.3,1102.7 125.3,1133.8 127.3,1150.5 125.9,1101.5 142.4,1125.9 128.5,1141.7 123.3,1142.8 133.6,1127.4 174.2,1134.7 140.7,1133.9 330.8,1101.3 181.5,1127.8 138.4,1127.8 194.5,1026.2 135.9,1112.6 172.2,1080 147.7,1136.4 122.2,1135.4 139.6,1137.4 177.2,1103.1 197.1,1046.6 113.2,1149.7 122.2,1124.9 119.3,1104 214.8,1055 112.1,1131.8 107.1,1132.3 110,1139 160.7,1136 170.8,1127.8 240.6,1075.8 142.1,1111.5 197.4,1092.7 145,1123.8 107.8,1142.1 153.5,1147.4 118.6,1130.3 183.7,1115 118.5,1118.6 129.8,1120 145.5,1118.2 112.8,1142.6 163.6,1131.5 155.9,1136 114.8,1133 110.9,1141.8 106.7,1142.4 145.1,1127.8 115.3,1127.2 112.9,1126.6 170.9,1131.3 144,1139.9 214,1059.8 204.8,1118.6 170.5,1098.3 122.7,1094.2 147.9,1054.6 162.5,1135.4 171.4,1116 124.8,1136 119.5,1141.4 124.5,1122.7 166.3,1075.2 100.7,1142.2 169.8,1144.2 115.7,1135.4 123.1,1124.2 138.5,1097.7 136.2,1126.5 144.6,1106 160.4,1093.9 259.3,1137.6 125,1133.7 177.9,1121.9 154.1,1137 118,1133.9 169.3,1115.3 156.2,1051.6 161.2,1132.1 152.5,1123.4 265.1,1034.6 135.2,1146.2 104.1,1124.3 162.4,1128.2 163.2,1069.7 128.1,1110.8 150.3,1108.6 143.1,1098.8 107.8,1126.6 210.7,1105.3 131.9,1119 226.3,1127.4 139.5,1117.9 120.2,1103.6 140.8,1151.6 129.2,1143.2 121.2,1116 111.5,1117.5 140.6,1121.3 152.4,1106.4 175.2,1121.6 202.7,1062.9 253.7,1134.9 176.4,1109.3 126.6,1134.5 98.5,1121.3 116.9,1088.1 165.8,1125.4 128.7,1143.7 269.6,1127.7 136.5,1117.8 113.3,1068.1 102.7,1119.8 176.5,1116.5 146.4,1143.2 123.3,1140.7 139.7,1110.7 164.4,1120.4 121.5,1129.2 146,1124.3 195.3,1116 163.3,1132.2 167,1092 135.6,1120.2 126.7,1120.3 116.7,1130.7 98.9,1141.7 99.3,1130.2 102.7,1136.9 215.8,1120.6 124.2,1130.9 194.3,1114.2 319.7,1025.3 266.6,1034.1 140.9,1139.5 153.9,1140.8 129,1131.9 156.5,1080.3 147.5,1134.7 106.4,1146.1 140,1148.4 120,1136.7 119.9,1136 97.4,1117.6 127.3,1096.9 125.6,1129.2 116,1122.7 100,1125.5 153.3,1114.3 191.7,1094.2 115.6,1142.7 222.2,1077.3 202.4,1074 113.5,1143.9 153.4,1129.5 106.8,1126.7 168.2,1098 151.3,1097.6 217.2,1050.7 117,1113.8 160.1,1021.2 136.6,1124.2 132.1,1135 119.6,1139.6 124.2,1110 154.9,1062.8 197.4,1126.1 171.1,1107.5 150,1133.6 133.1,1089.6 119.1,1120.5 146.4,1088.5 336.5,1095.1 114.6,1128.1 128,1097.9 133.1,1117.5 139,1145.2 105,1137.5 138.5,1130.2 105.1,1123 122.7,1118.6 141.2,1099 125.7,1124.5 168.7,1132.2 171,1082.1 322.5,1042.2 146.2,1144.4 126.8,1126.9 155.8,1138.2 146.1,1042.8 231,1095.4 156.5,1121.8 131.7,1094.2 163.3,1129.7 132.7,1111.2 122,1124.3 114.8,1122 147.7,1140.7 117.5,1119.8 242.5,1124.2 114.5,1124 182.3,1100.9 169.3,1095.5 111.4,1106 104.5,1144 131.9,1129 123.9,1123.4 172.5,1085.7 136.3,1139.1 104,1128.3 108.6,1128.4 207.5,1078.3 113.2,1119.2 116.6,1035.5 111.6,1115 107.5,1141 111.1,1134.8 144.1,1120.2 114.2,1130.6 130.7,1134.1 277.1,1066.1 185.2,1084.9 173.6,1118.5 119.5,1103.1 190.4,1077.8 147.2,1103.6 111.6,1088.2 226.1,1036.1 270.9,1115.4 241.2,1083.8 141.3,1105.2 113.4,1140.3 165.9,1132.7 125.8,1128.7 136.2,1135.2 150.3,1118.6 272.1,1111.5 113.7,1114 103.7,1141.2 210.2,1128.1 119.6,1135.2 113.2,1126.5 128.6,1137 231.7,1075.3 127.2,1137.3 181,1099.2 114.3,1122.4 202.5,1107.9 105.4,1130 151.3,1137.6 171.6,1099.4 125,1106.3 132.1,1131.4 148.8,1114.8 107.4,1140 124.2,1111.1 177.9,1108.7 110.2,1096.2 100.3,1117.6 168.7,1118.3 139.8,1121.6 93.9,1096.7 144,1091.7 237.3,1116 111.2,1137.8 102.9,1140.8 177.3,1123.1 148.9,1123.7 131.8,1019.9 186.9,1103.7 109,1077.8 120.8,1135.5 103.8,1121.9 169.1,1108.4 121.5,1148.9 145.5,1139 127.7,1141.1 160.4,1142 116.3,1139 157.9,1092.1 108.4,1113.8 243.7,1107.4 152.9,1140.8 134.5,1076.2 135.8,1131 251.1,1091.6 120,1095.8 117.4,1127 211.1,1135.2 177.3,1088.1 128.6,1129.7 135.6,1138.8 163.2,1083.7 147.5,1133.4 159.8,1124.5 139.6,1109.1 128.9,1085 106.4,1146.4 114.8,1122.6 153.6,1096.1 127.3,1094.1 186,1116.7 100.7,1138.3 95.1,1125.8 179.2,1132.7 101.4,1107.5 125.1,1135.7 134.2,1145.9 188.6,1102.7 153.4,1089.6 122.2,1124.3 140.8,1136.5 127.2,1117.2 126.1,1119.5 110.1,1131.8 187.9,1068.9 107.1,1120.9 127.9,1130.6 119,1126.4 229.3,1086.5 200.7,1112 243.5,1079.9 218,1092.5 145,1064.6 106.1,1139.2 145.3,1142.1 160.6,1134.5 182.5,1102.6 153.2,1124 185.2,1116.6 152.1,1100.2 238.3,1072.4 104.3,1122.9 175.3,1071.2 112.1,1119.3 128.1,1128.5 109.7,1135 96.1,1136.9 322,1113.3 174.8,1116.3 140,1135.5 176,1138.9 202,1139.3 227.4,1131.3 145,1105.1 140.1,1140.9 145.1,1116.7 122.3,1113.2 207.9,1081.8 145.1,1130.9 170.9,1102.6 139.2,1127.6 117.8,1123.9 139.6,1113.8 106.4,1109 125.6,1125.9 134.6,1128.4 176.3,1136.6 139.7,1145.4 239.7,1092.3 128.6,1110.3 158.4,1131.5 121,1114.9 125.2,1088.8 107.2,1137.9 171.8,1084 178.2,1102.2 111.9,1137.7 203.7,1122.1 140.2,1116.3 117.8,1131.6 220,1070 118.1,1144.2 176.5,1069.4 177.3,1069.4 135.6,1144.9 163,1130.2 133.4,1078 134.8,1106.8 123.1,1124.7 137.7,1130.1 326.6,1062.4 134,1112 143.4,1131.6 120.4,1119.1 104.8,1135.7 101.3,1150.9 146.3,1115.1 141.4,1127.6 232.8,1073.4 161.3,1100.1 121,1115.5 204.6,1139 103.8,1117.9 112.5,1144.3 170.5,1087.5 165.4,1113 117.7,1106.6 152.3,1027.7 102,1110.7 132.5,1140.5 137.6,1142.1 181.8,1093.6 200.5,1105.4 139.7,1109.7 100.1,1141.6 164.9,1132.5 110.6,1130.8 141.7,1086.6 167.9,1135.9 112.8,1121.7 127.5,1113.2 141.1,1125.4 150.7,1145.9 125.1,1117.9 171.1,1147.8 119.5,1135.3 152.7,1137 127.8,1139.8 150,1081.5 123.6,1143.7 155.4,1145.7 119.4,1141.1 158.8,1126.7 119,1122.9 121.2,1128.6 132.8,1124.9 125.1,1121.4 284.4,1069.9 130.9,1089.4 127.6,1137.8 156.4,1114.3 104.4,1132.6 246.6,1073.8 144.7,1145.9 149.6,1138.5 116.2,1119.7 183.7,1113.1 231.8,1037.5 149.1,1146.2 119.3,1071.3 138.9,1106.7 188.3,1118.4 107.8,1143.6 157.8,1140.7 157.7,1124.1 117.8,1126.3 132.3,1140.3 147.5,1117.7 122.3,1131.1 221.2,1099.4 131.9,1131.6 134.2,1123.9 183.4,1123.3 106.4,1103.9 110.1,1131.2 163,1112.1 164.3,1109.2 105.9,1142.4 109.7,1136.3 136.4,1128.1 118.1,1116.2 168.7,1061.8 243,1104.9 106.1,1128.7 112.1,1099.1 126.1,1107.2 118.6,1145.6 145.1,1132.9 130.6,1133.2 170,1123.9 200.4,1101.6 164.9,1102.8 165.1,1134.5 96.6,1119.9 167.8,1112.7 187.4,1083.3 163,1048.9 101.7,1136.4 117.6,1149.3 114.5,1139.1 131.2,1126.2 162.1,1122.1 154.7,1119.6 121.5,1136.5 212.8,1080.7 132.9,1093.1 122.9,1107.3 122.6,1134.5 122.3,1124.7 124.4,1121.6 120.1,1138.8 146.3,1122.2 206.9,1118.5 124.4,1104.4 157.6,1113.8 114.8,1144.9 143.4,1115.8 102.4,1141.1 161.4,1101.5 123,1080.4 122.8,1098.9 296.7,1083.5 134.1,1134.6 197.6,1091.1 117.6,1124.6 106.3,1150.3 215.4,1115.1 109.2,1118.4 329.7,1083.5 121.3,1121.6 135,1113.9 119.1,1116.9 114.3,1116.2 107.6,1103.4 178.8,1124.2 151.9,1129.9 220.7,1128.1 146.6,1114.8 142.1,1134.9 128.8,1138.4 103.8,1127.4 98,1135.5 166.3,1116.8 134.2,1034.9 106,1123.3 143,1130.6 150.9,1115.8 110.6,1144.9 154.1,1122.4 178.4,1103.7 107.7,1100.5 114.7,1118.8 153.7,1118.3 134.1,1116.8 131.9,1119.5 110.9,1134.5 194.4,1131.7 112,1135 236.1,1080.6 122.8,1112 175.1,1114.3 207.5,1108.7 120.7,1132.7 179.4,1121 141.2,1143.6 148.2,1124.9 143.6,1123.2 107.8,1119.9 151.2,1129.7 122.9,1137.7 132.8,1131.5 144.5,1118.8 146.4,1108.9 137.1,1142.5 115.3,1134.4 139.4,1140.5 156.3,1111.4 285.7,1062.9 146.6,1108.4 134.9,1088.1 283.6,1042.7 149.2,1121.4 127.6,1136.2 114.2,1124.4 128.3,1125.1 140.8,1109.3 98,1118.9 171.3,1125.7 116.4,1112.1 148.6,1118.4 106.7,1148.2 156.4,1098.1 100.8,1135.3 104.9,1141.8 156.4,1081.7 159.6,1129.8 102.3,1133.2 127.9,1138.5 169.2,1122.8 190.8,1099.4 104.6,1128.5 116.8,1129.7 116.2,1106.8 129.6,1111 108.7,1128 104.5,1125.6 214.2,1108.2 110.1,1133.9 148.5,1129.4 136.2,1127.8 215.4,1085.7 108.6,1135.1 112.7,1150.5 152.4,1102.5 201.3,1101.7 129.3,1107.2 121.4,1125.1 150.7,1138.7 114.2,1140.5 100.9,1142.1 134.9,1145.4 140.4,1138.1 115.6,1135.4 116.4,1129.9 188.9,1100.2 102,1135.6 123.3,1063.1 163.4,1101.3 99.2,1148.6 111.5,1091.7 185.8,1121.2 118.1,1116.5 97.9,1124.9 149.4,1128 167.6,1129 109.6,1117.5 137.7,1136.2 273.5,1121.9 117.7,1090 211.8,1097.1 114.3,1067.7 166.9,1135.4 168.6,1126.3 229.4,1094.4 133.4,1140.6 102.9,1107.6 119.4,1125.2 242.2,1141.8 122.1,1113.4 129.5,1138.2 159.6,1110.9 116.4,1120.5 97.6,1023.8 136.9,1137.2 212.8,1100.9 210.7,1117.6 97,1138 196.6,1079 115.9,1110.5 251.8,1136.3 97.2,1114.9 153.3,1117.3 112.8,1145.8 117.6,1136.5 143,1141.9 233.1,1065.1 103.8,1136.2 115,1125.7 179.2,1123.1 157.8,1137 97.4,1123.4 143.7,1106.2 123.9,1123 98.6,1132.9 190.4,1073.5 108.3,1085.8 183.6,1102.9 194.7,1105.6 150.2,1112.8 212.1,1110.4 132.5,1114.6 148.6,1107.3 188.7,1117.5 214.2,1047.4 131.7,1059.7 232.7,1123.7 203.9,1063.4 133,1139.9 112.7,1104.7 153.3,1138.6 106,1105.3 117.7,1102.4 162.4,1135.1 135.7,1132 163,1137.9 126.9,1087 94.2,1104.6 122.3,1130.1 211.8,1133 160.9,1116.4 132.9,1120.6 173.1,1066.2 118,1070.8 145.7,1081 149.7,1104.3 135.9,1120 118.5,1131.4 157.3,1092 205.9,1092.1 183.8,1116 102.8,1140.3 144.4,1134.3 118.6,1136.5 138.7,1143.8 101.6,1132.9 181.4,1130.2 167.3,1106.1 146.4,1122.1 138.1,1117.7 115.1,1141.2 162.8,1104.5 108.5,1139.5 243.2,1110.9 229,1109 109.5,1143.5 167.1,1042 104.3,1125.2 141.9,1112.5 119.9,1099.7 100.4,1147.1 147.5,1086.8 106,1139.5 104.3,1138.5 111.9,1151 125.5,1092.6 109.5,1128.4 125,1141.9 126,1125.2 209.9,1020.6 152.9,1135.4 123.1,1121.6 153.8,1140 114.9,1133 100.6,1094.4 209.7,1102.8 142.3,1129.1 130.2,1100.1 123.5,1145 175.3,1109 151.6,1093.8 180.4,1135.4 283.5,1046.6 124.1,1058.6 124.6,1093.3 95.4,1140.9 149.7,1102.9 108.3,1134.4 110.8,1133.7 133.5,1045 117.4,1130.5 162.4,1105.7 107.6,1132.1 105.1,1139.8 173.3,1127.5 110.9,1125.8 171.6,1109.5 147.6,1080.9 118.4,1107.2 326.6,1086.1 124.8,1123.6 132.7,1071.2 152.6,1054.9 119.5,1117.3 122.8,1140 168.8,1136.8 113.6,1136.7 158.3,1106.6 150.7,1107 159.7,1089.6 131.7,1145.2 170.9,1114.3 138.1,1087.4 188.4,1090.7 175.2,1118.7 139.1,1128.9 112.8,1143.9 106.8,1134.2 137.7,1121.5 125.6,1089.7 193.3,1121.6 98.1,1136.1 127,1096.4 119.5,1136.4 219.1,1105.3 145.5,1137.7 119.2,1128.3 118.5,1137.6 121.3,1133.5 281.7,1099.7 116.6,1139.3 127.7,1114.5 120.1,1087.7 120.9,1121.7 128,1092.7 100.4,1139.6 125.5,1121.5 107.6,1130.7 120.4,1123.9 160.2,1104 127.4,1133.1 285.6,1093.1 129.1,1139.6 131.6,1128.3 115.4,1118.7 104.9,1143.6 95.7,1079.9 193.5,1071.7 120.4,1135.3 114,1097.7 122.4,1114.5 164,1131 105.7,1138.9 121.9,1124 142.4,1138.8 178.1,1101.1 126.9,1131.8 125.6,1093.5 229.5,1061.1 109.6,1135.7 180.2,1094.1 148.8,1133.3 161.2,1130.8 215.4,1131.7 111.4,1146.5 199.2,1128.3 138,1074 123.3,1132.9 107.4,1132.1 124.6,1107.1 158.6,1103.2 292.9,1128.6 102.3,1124.1 183.4,1073.1 169.3,1064.3 133.3,1140.6 109.7,1123.9 104.2,1109.6 135.1,1109.5 103.1,1136.9 168,1104.6 155.5,1107.9 229.6,1108.1 133.2,1118.4 110.1,1134.1 112.1,1135.6 104.2,1135.8 153.9,1115.7 159,1091.2 101.2,1124.2 111,1111.2 127.6,1130.1 128.2,1115.9 148.3,1141.7 133.1,1112.2 126.9,1119.5 156.7,1139.1 129.3,1142.2 137.3,1142.3 121.2,1115.7 189.2,1121.6 164.3,1116.2 105.7,1147.4 104.7,1138.4 146.3,1137.8 118.4,1146.4 128.5,1103.2 154.1,1122.8 143.6,1122.9 206.8,1093.9 123.1,1122.1 124.5,1133.2 136.8,1121.7 109.5,1120.4 101.6,1125.3 135.1,1088.2 319,1045.9 171.7,1128.4 136,1119.4 115.6,1142.3 160,1116.6 142.4,1117.2 121.2,1089.4 112.1,1135.9 113.8,1132 144,1118.8 166.2,1132.8 106.5,1131.9 156.1,1120.4 207.6,1118.7 185.6,1109.5 197.2,1032.8 121.3,1129.1 142.2,1104.2 159.7,1110.7 177.4,1109.1 239.8,1070 230.4,1047.1 114.5,1121.2 122.2,1120.4 165,1097 190.5,1117.4 115.9,1107.8 130.1,1118.3 179.9,1125.1 162.4,1120.4 138.1,1115.3 222.5,1125.1 194.2,1122.9 154.7,1148.4 136.6,1056.2 124.7,1116.9 126.4,1141.6 168.1,1124.3 112.4,1113.4 139,1076.1 116.6,1071.2 147.2,1049.4 167.2,1072.6 142.6,1123 119.5,1133.4 102.7,1130.1 126.9,1099.3 107.9,1105.3 110.4,1120.8 145.8,1110.1 169.1,1091.1 104.4,1115.3 257.1,1139.6 137.3,1116.2 148.3,1119.3 123.7,1104.7 119.1,1136.3 150,1133.4 178.6,1132.5 125.1,1115 120.6,1116.1 182.1,1088.3 137.9,1127.6 162.6,1136.6 129.2,1069.1 326.1,1122.3 116.8,1122.1 113.1,1116.1 139.6,1128.6 142.7,1111.7 121.8,1128.4 129.5,1130.1 185.1,1104.3 98.4,1144.9 107.6,1143.4 109.5,1109.4 121.9,1146.9 119.5,1125.2 124.9,1088.4 146.1,1106.4 125.1,1120.3 107.3,1130.3 127.5,1135.2 312.5,1046.4 136,1132.4 126.7,1117 130.1,1088.1 133.2,1125.8 102,1119.6 116.2,1093.9 147.2,1114.2 170.1,1143.4 147.8,1132.7 102.9,1122.8 134.1,1127.3 157.2,1108.9 153.1,1091.4 117.7,1132.8 117,1088.5 141.1,1115.7 162.1,1110 225.7,1103 127.7,1123.6 121,1135.3 177.6,1047.1 159.7,1065.9 123.4,1139.2 134.1,1120.3 213.2,1120.3 195.3,1137.7 141,1103.5 158.8,1110.7 121.6,1124.2 161.2,1113.7 112,1123.4 138.2,1098.2 222.2,1115.3 108.6,1128 180.7,1071.4 163.4,1135 189.2,1101.3 115.7,1137.9 153.3,1117.2 136,1103.7 135.8,1115.5 100,1130 134.2,1127.3 111.3,1137.1 127.1,1092.4 171.3,1129.1 176.9,1133.2 156.8,1127 102.4,1138.9 108.2,1123 131.3,1131 111.2,1139.4 105.7,1139.8 144.9,1138.8 121.6,1141.4 107.8,1128.1 169.1,1051.3 117.8,1137.4 115,1136.2 219.5,1114.8 115.5,1130.8 162.4,1116.8 134,1097.4 143,1120.4 131.7,1127.8 150.4,1119.8 142.4,1139.9 183.3,1128.7 222.1,1135 141.8,1133.5 172.1,1122.6 145.5,1120.4 123.3,1104.9 151.3,1143.5 101.8,1119.7 149,1071.5 188.7,1102.6 166.9,1121.8 120.6,1085 134.9,1105 105,1123.6 181.1,1137.1 177.9,1121.6 99,1119.5 175.4,1082.1 122.7,1128.4 185.7,1072.3 113,1144.2 147.7,1122.4 211.8,1121.8 127,1118.6 103,1143.5 100,1143 157.1,1089.9 182.5,1137.7 119.6,1136.3 170.2,1063.5 120,1100.1 138.9,1065.9 122.6,1084 206.9,1114.8 118.6,1124.3 107.5,1103.4 134.2,1134.2 109,1114.2 195.4,1112.2 152.7,1079.2 101.3,1119.6 171.6,1133 114,1136.1 101.2,1136.7 136.4,1107.2 200.1,1113.7 228.3,1139 136.2,1120 115.8,1120.1 156.5,1131 187.7,1066.6 133.9,1074.6 192.1,1131.8 131.3,1121.9 121.2,1146.9 124.5,1135.7 148.4,1141 159.5,1119.4 158.6,1107.7 163.9,1102.2 152.6,1120.9 159.3,1121.6 292.9,1047.7 163,1121.7 128.6,1069.6 154.1,1122.2 153.4,1123.5 200.1,1080.5 128.7,1128.7 120.1,1106.8 131,1107.3 111.8,1122.4 115.5,1139.2 184.3,1111.2 194.8,1115.3 137.5,1123.3 116.4,1121.7 178.3,1108 127.7,1127.8 184.7,1105.7 102.3,1139.4 131.5,1128.2 105.5,1136.2 157.9,1117.9 123,1140.3 100.6,1066.7 133.4,1112.3 167.6,1102.5 144.9,1125.1 111,1121.4 163.4,1116.4 137.3,1086.8 103.6,1129.5 120.6,1133.1 127.2,1144.2 106.3,1138.9 207,1106.4 127.4,1137.7 141,1119.3 145.9,1093.2 145.5,1087.4 120.2,1132.2 125.7,1147.8 118.5,1125.8 159.1,1109.6 112.9,1142.8 114.1,1091.1 137.7,1125.1 124.3,1101.4 180.2,1111.2 108.4,1126.7 126.3,1144.1 211.9,1081 157.6,1110.6 142.3,1131.3 141.5,1108.4 197,1109.2 135.2,1085.2 149.4,1103.8 107.8,1129.1 133.3,1121.1 159.9,1061.5 114.9,1123.2 140.4,1110.4 152.8,1133.9 222.2,1074.2 225.2,1085.1 154.7,1126.8 253.3,1122 102.7,1104.4 223,1097.2 117.2,1114.5 125,1107 144.8,1078.4 152.5,1097.3 180.2,1112.6 104.2,1135 114.6,1144.9 173.4,1112.2 129.7,1131.8 130.8,1140.1 306.2,1066.5 123.2,1124.9 123.4,1127.5 174.2,1104.4 236.4,1116.2 134,1120.3 155.1,1119 204.1,1110.1 205.7,1108.8 121.7,1092.4 112.5,1147.1 143,1057.2 111.7,1140.6 116.2,1120.3 118.9,1121.4 161.8,1126.4 111.6,1132.2 151.6,1095.8 192.5,1107.8 155.9,1135 141.3,1109.1 114.3,1141.4 154.6,1099.8 172.2,1105.3 116.2,1141.4 106.8,1117.2 123,1124.6 106.5,1111.1 258.5,1096.7 147.6,1136.2 157.4,1147.2 229.8,1107 183.9,1128.2 108.8,1133.9 121,1145.1 200.9,1144.9 113.1,1127.8 160.6,1112.4 118.5,1092.9 148.3,1100.2 182.6,1130 125.1,1095.9 102.2,1134.1 172.4,1142 185.8,1097.2 157.6,1133.7 327.6,1125 128.4,1134.5 125.6,1129.1 102.7,1135.5 103.3,1135.9 143.8,1123.5 102.7,1121.2 209.1,1131.5 147.4,1126.8 126.3,1124.4 149.8,1110 144.1,1099.6 152.5,1087.1 208,1148.4 107.7,1116.2 103.2,1125.5 151.2,1083.8 157.4,1134 133.5,1123.2 102.1,1089.4 108,1098.8 118.4,1105 129.1,1124.9 252.2,1108.8 128.9,1128.5 104.4,1146.5 152.2,1128.4 191.8,1130.9 123.2,1135.4 204.1,1109.6 173.5,1103.5 126.9,1106.6 119.1,1121.8 127.6,1119.6 110.2,1101.4 107.5,1135 157.1,1129.7 109.3,1140.8 102.2,1130.7 132.3,1135.2 128.4,1107.1 186.2,1108.8 108.9,1141 150.7,1101.1 116.3,1143.8 152.4,1119.3 138.9,1140.1 190.7,1112.7 106.6,1124.2 108.7,1127.4 114,1114.6 130.9,1117.4 128.7,1119 100.1,1133.5 144.8,1107 157.6,1134.1 117.1,1115.1 115.2,1134.8 191.9,1114 148.4,1118.9 184.3,1104.8 144.9,1092.1 95.2,1140.8 150.5,1116.2 99.2,1141.3 130,1146.1 154.1,1053.1 137.1,1124.8 111.7,1113.4 205.1,1095 117.6,1140.2 162.1,1091.2 128.5,1103.9 112.1,1113.1 133.1,1050.5 193.5,1131.8 159.3,1120.1 135.1,1132.3 162,1125.1 125.3,1135.9 154.7,1109.6 153.4,1128.5 257.4,1126 142.6,1143 269.4,1120.2 136.2,1132.1 197.1,1111.8 150.1,1111.8 129.9,1088.9 132.4,1108.4 139.7,1119.1 128.5,1126.6 143.7,1122.1 174.9,1114.1 132.9,1138.9 253.2,1074.3 174,1120.3 134.1,1130.3 124,1138.1 119.6,1112.8 105.4,1082.3 182.7,1125.1 143.3,1058 117.2,1130.3 94.1,1122.9 143.8,1147.6 113.3,1126.6 271.9,1030.6 122.9,1131.4 127.6,1106.4 148.7,1111.3 286.2,1017.7 111.9,1089.3 225.4,1115.5 144.1,1116.5 142.8,1132.4 115.4,1144.9 138.6,1131.8 151.1,1102.9 150.5,1092.7 158.9,1097.8 130.6,1119.4 157.7,1117.8 110.5,1143.2 160.1,1111.2 149,1120.7 139,1142.7 112.8,1132.4 98.3,1148.8 125.5,1115.3 198.8,1102.5 115.1,1086.7 107.7,1134.5 113.5,1136.8 133.5,1097.5 175.7,1121.3 153.3,1086.9 221.8,1089.7 263.7,1128.5 126.2,1137.3 133.7,1138.5 160.2,1071.4 142.2,1103.6 104.8,1121.7 106.4,1141.9 198.4,1097 145,1126.9 164.8,1116.1 131.2,1101.3 98.8,1124.7 182.1,1136.5 149.6,1121.4 141.6,1135.2 149.6,1122.9 117,1133.5 118.8,1022.1 156.1,1130.9 127.5,1135.1 148.2,1122.3 114.9,1083.7 106.8,1140.1 142.1,1085.7 115.3,1108.6 130.7,1134.8 113.3,1138.3 118.9,1150.9 136,1138.2 215.8,1137.3 137.2,1136.7 114.7,1128.2 132,1135.7 159.3,1106.7 127.6,1121.1 123,1115.7 100.7,1133.5 107.7,1132.6 103.7,1137.4 102.1,1114.6 127.2,1123.8 105.4,1112.4 118.3,1137.3 112,1129.1 136.5,1120.3 116.6,1142.3 119.4,1137.7 129.2,1141.7 171.8,1137.4 172.3,1040.6 114.1,1127.3 207.3,1140.3 126.6,1112.2 142.4,1103.2 155.2,1049 126.4,1116.4 167.9,1090.7 135.3,1127.1 137.3,1131.5 121.1,1121.8 132.8,1131.3 144.8,1138.3 127.7,1127.7 209,894 127,917.5 156.5,928.5 150.5,932.5 272,927 293.5,936 105.5,967.5 153.5,971.5 200.5,966 201,977 298,967 316.7,966 274,980 285,987 128,990.5 146,990.5 156,992 140,995.5 174,993 238,996 295,998 110,1000 106.5,1002.5 129.5,1002.5 165,1001.5 160,1005 142,1006 326,1001.7 112.5,1009.5 200,1010.5 272.5,1009 277.5,1009 325.5,1008.7 334,1011.8 251.5,1014 308,1015 402.3,990.5 463.7,982.2 467.8,1008.9 404.6,1072.2 369.1,1028.3 346.9,1018.6 343.2,1025.1 344.2,1026 352,1025 357.5,1044 341.4,1050.9 347.4,1055 355.2,1058.3 350.2,1065.2 347.4,1070.8 341.4,1072.2 346,1155.6 319.2,1134.5 328,1134.5 173,1155.6 188,1155.6 205,1155.6 211,1155.6 223,1155.6"/>
<path d="M92.0 845.8V1156.1H499.1" fill="none" stroke="#000" stroke-width="2.2"/>
<text class="tk" x="172.7" y="1179.6" text-anchor="middle">0.5</text>
<text class="tk" x="253.0" y="1179.6" text-anchor="middle">1</text>
<text class="tk" x="333.3" y="1179.6" text-anchor="middle">1.5</text>
<text class="tk" x="413.6" y="1179.6" text-anchor="middle">2</text>
<text class="tk" x="493.9" y="1179.6" text-anchor="middle">2.5</text>
<text class="tk" x="77.7" y="1179.6" text-anchor="middle">0</text>
<text class="tk" x="81.9" y="1127.5" text-anchor="end">0.5</text>
<text class="tk" x="81.9" y="1093.5" text-anchor="end">1</text>
<text class="tk" x="81.9" y="1059.6" text-anchor="end">1.5</text>
<text class="tk" x="81.9" y="1025.7" text-anchor="end">2</text>
<text class="tk" x="81.9" y="991.8" text-anchor="end">2.5</text>
<text class="tk" x="81.9" y="957.8" text-anchor="end">3</text>
<text class="tk" x="81.9" y="923.9" text-anchor="end">3.5</text>
<text class="tk" x="81.9" y="890.0" text-anchor="end">4</text>
<text class="tk" x="81.9" y="856.1" text-anchor="end">4.5</text>
<path d="M172.4 1156.1v5.6M252.7 1156.1v5.6M333.0 1156.1v5.6M413.3 1156.1v5.6M493.6 1156.1v5.6M92.0 1122.2h-5.3M92.0 1088.2h-5.3M92.0 1054.3h-5.3M92.0 1020.4h-5.3M92.0 986.5h-5.3M92.0 952.5h-5.3M92.0 918.6h-5.3M92.0 884.7h-5.3M92.0 850.8h-5.3" fill="none" stroke="#000" stroke-width="1.5"/>
<rect x="316.4" y="883.3" width="149.4" height="73.9" fill="#fff" stroke="#000" stroke-width="1.7"/>
<text class="lg" x="324.3" y="899.7">N</text>
<text class="lg" x="458.1" y="899.7" text-anchor="end">3908</text>
<text class="lg" x="324.3" y="915.1">Spearman rho</text>
<text class="lg" x="455.1" y="915.1" text-anchor="end">0.48</text>
<text class="lg" x="324.3" y="929.9">95% CI</text>
<text class="lg" x="461.9" y="929.9" text-anchor="end">0.45–0.50</text>
<text class="lg" x="324.3" y="946.9"><tspan font-style="italic">P</tspan>-value</text>
<text class="lg" x="459.7" y="946.9" text-anchor="end">&lt; .0001</text>
<g transform="translate(292.25 1202.50)"><text class="ax" transform="translate(-120.10 0) scale(0.7385 1)" xml:space="preserve">ALDH</text><text class="sp" transform="translate(-81.97 -5.6) scale(0.9000 1)">br</text><text class="ax" transform="translate(-72.05 0) scale(0.7385 1)" xml:space="preserve"> as a percent of viable CD45</text><text class="sp" transform="translate(113.58 -5.6) scale(0.9000 1)">+</text></g>
<g transform="translate(51.90 1011.80) rotate(-90)"><text class="ax" transform="translate(-118.25 0) scale(0.7423 1)" xml:space="preserve">CD34</text><text class="sp" transform="translate(-81.37 -5.6) scale(0.9000 1)">+</text><text class="ax" transform="translate(-74.86 0) scale(0.7423 1)" xml:space="preserve"> as a percent of viable CD45</text><text class="sp" transform="translate(111.73 -5.6) scale(0.9000 1)">+</text></g>
<text class="lt" x="11.6" y="845.0">C</text>
<path d="M0.6 0V1219M0 0.6H520" stroke="#000" stroke-width="1.2" fill="none"/>
<path d="M519.3 0V1219" stroke="#000" stroke-width="1.4" fill="none"/><path d="M0 1218.1H520" stroke="#000" stroke-width="1.8" fill="none"/>
</svg>
</body></html>
